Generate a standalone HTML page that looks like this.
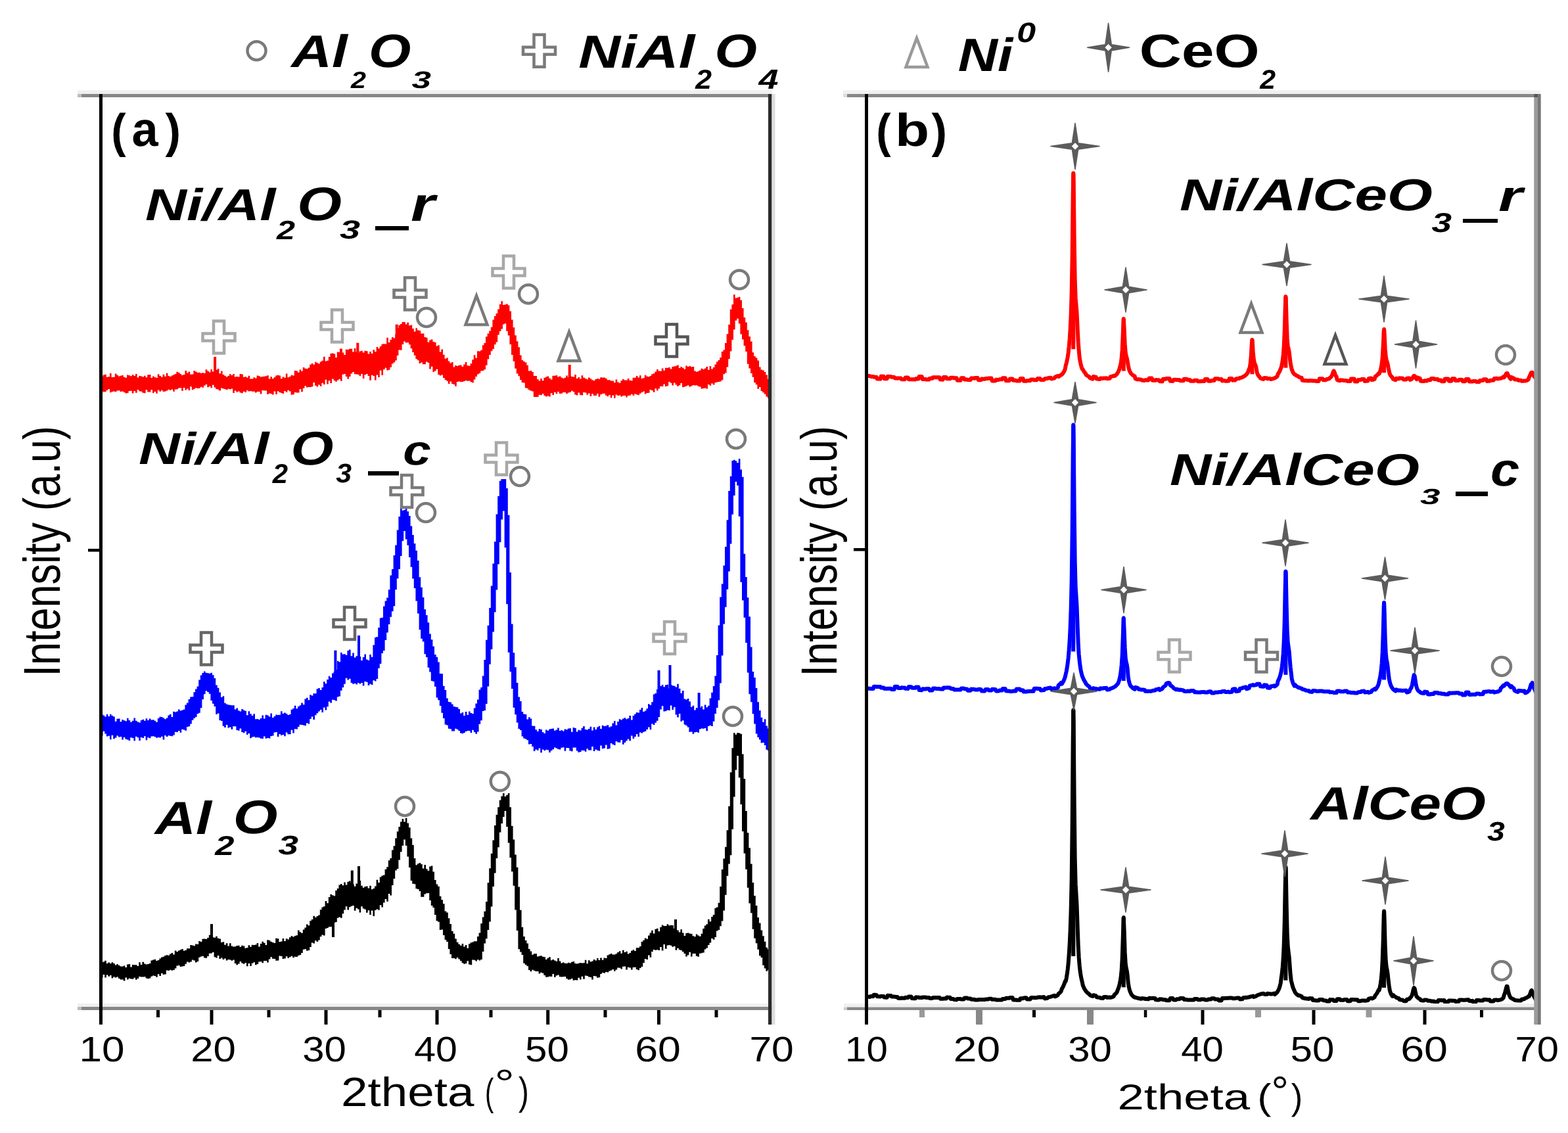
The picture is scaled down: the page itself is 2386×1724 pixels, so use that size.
<!DOCTYPE html>
<html><head><meta charset="utf-8"><title>XRD patterns</title>
<style>
html,body{margin:0;padding:0;background:#fff;}
svg{display:block;}
text{font-kerning:none;text-rendering:geometricPrecision;}
</style></head>
<body>
<svg xmlns="http://www.w3.org/2000/svg" width="2386" height="1724" viewBox="0 0 2386 1724">
<rect width="2386" height="1724" fill="#fff"/>
<path d="M154.0,572.9 L156.6,572.9 L156.6,570.4 L159.2,570.4 L159.2,569.8 L161.8,569.8 L161.8,573.8 L164.4,573.8 L164.4,573.2 L167.0,573.2 L167.0,568.1 L169.6,568.1 L169.6,574.0 L172.2,574.0 L172.2,573.8 L174.8,573.8 L174.8,568.4 L177.4,568.4 L177.4,570.8 L180.0,570.8 L180.0,572.6 L182.6,572.6 L182.6,571.8 L185.2,571.8 L185.2,570.9 L187.8,570.9 L187.8,573.7 L190.4,573.7 L190.4,574.8 L193.0,574.8 L193.0,570.4 L195.6,570.4 L195.6,571.2 L198.2,571.2 L198.2,572.3 L200.8,572.3 L200.8,570.2 L203.4,570.2 L203.4,572.0 L206.0,572.0 L206.0,569.1 L208.6,569.1 L208.6,574.4 L211.2,574.4 L211.2,572.0 L213.8,572.0 L213.8,572.5 L216.4,572.5 L216.4,573.4 L219.0,573.4 L219.0,571.8 L221.6,571.8 L221.6,574.2 L224.2,574.2 L224.2,570.3 L226.8,570.3 L226.8,569.9 L229.4,569.9 L229.4,574.9 L232.0,574.9 L232.0,572.6 L234.6,572.6 L234.6,573.9 L237.2,573.9 L237.2,575.0 L239.8,575.0 L239.8,569.2 L242.4,569.2 L242.4,572.1 L245.0,572.1 L245.0,573.7 L247.6,573.7 L247.6,569.8 L250.2,569.8 L250.2,572.7 L252.8,572.7 L252.8,567.7 L255.4,567.7 L255.4,572.0 L258.0,572.0 L258.0,572.9 L260.6,572.9 L260.6,571.5 L263.2,571.5 L263.2,570.2 L265.8,570.2 L265.8,569.1 L268.4,569.1 L268.4,565.8 L271.0,565.8 L271.0,566.9 L273.6,566.9 L273.6,569.1 L276.2,569.1 L276.2,571.1 L278.8,571.1 L278.8,569.9 L281.4,569.9 L281.4,564.0 L284.0,564.0 L284.0,567.4 L286.6,567.4 L286.6,565.6 L289.2,565.6 L289.2,569.7 L291.8,569.7 L291.8,569.6 L294.4,569.6 L294.4,563.9 L297.0,563.9 L297.0,565.4 L299.6,565.4 L299.6,567.0 L302.2,567.0 L302.2,566.7 L304.8,566.7 L304.8,568.0 L307.4,568.0 L307.4,567.2 L310.0,567.2 L310.0,568.0 L312.6,568.0 L312.6,562.2 L315.2,562.2 L315.2,564.5 L317.8,564.5 L317.8,566.5 L320.4,566.5 L320.4,562.1 L323.0,562.1 L323.0,565.5 L325.6,565.5 L325.6,566.3 L328.2,566.3 L328.2,562.7 L330.8,562.7 L330.8,561.1 L333.4,561.1 L333.4,568.3 L336.0,568.3 L336.0,564.4 L338.6,564.4 L338.6,569.9 L341.2,569.9 L341.2,571.8 L343.8,571.8 L343.8,573.6 L346.4,573.6 L346.4,572.0 L349.0,572.0 L349.0,569.3 L351.6,569.3 L351.6,571.1 L354.2,571.1 L354.2,568.9 L356.8,568.9 L356.8,573.4 L359.4,573.4 L359.4,573.0 L362.0,573.0 L362.0,573.6 L364.6,573.6 L364.6,569.0 L367.2,569.0 L367.2,569.5 L369.8,569.5 L369.8,573.8 L372.4,573.8 L372.4,573.3 L375.0,573.3 L375.0,574.4 L377.6,574.4 L377.6,571.7 L380.2,571.7 L380.2,576.6 L382.8,576.6 L382.8,576.4 L385.4,576.4 L385.4,574.3 L388.0,574.3 L388.0,575.4 L390.6,575.4 L390.6,571.4 L393.2,571.4 L393.2,572.2 L395.8,572.2 L395.8,573.6 L398.4,573.6 L398.4,572.9 L401.0,572.9 L401.0,572.8 L403.6,572.8 L403.6,572.2 L406.2,572.2 L406.2,571.3 L408.8,571.3 L408.8,576.5 L411.4,576.5 L411.4,573.2 L414.0,573.2 L414.0,576.3 L416.6,576.3 L416.6,574.1 L419.2,574.1 L419.2,571.6 L421.8,571.6 L421.8,570.8 L424.4,570.8 L424.4,571.5 L427.0,571.5 L427.0,576.2 L429.6,576.2 L429.6,573.6 L432.2,573.6 L432.2,574.7 L434.8,574.7 L434.8,568.4 L437.4,568.4 L437.4,574.2 L440.0,574.2 L440.0,572.9 L442.6,572.9 L442.6,570.7 L445.2,570.7 L445.2,571.6 L447.8,571.6 L447.8,564.0 L450.4,564.0 L450.4,564.4 L453.0,564.4 L453.0,566.7 L455.6,566.7 L455.6,562.6 L458.2,562.6 L458.2,564.7 L460.8,564.7 L460.8,558.9 L463.4,558.9 L463.4,560.7 L466.0,560.7 L466.0,561.3 L468.6,561.3 L468.6,559.6 L471.2,559.6 L471.2,554.7 L473.8,554.7 L473.8,552.9 L476.4,552.9 L476.4,554.7 L479.0,554.7 L479.0,550.7 L481.6,550.7 L481.6,552.3 L484.2,552.3 L484.2,553.4 L486.8,553.4 L486.8,550.6 L489.4,550.6 L489.4,548.8 L492.0,548.8 L492.0,542.8 L494.6,542.8 L494.6,549.4 L497.2,549.4 L497.2,548.7 L499.8,548.7 L499.8,543.0 L502.4,543.0 L502.4,538.0 L505.0,538.0 L505.0,537.5 L507.6,537.5 L507.6,538.6 L510.2,538.6 L510.2,544.1 L512.8,544.1 L512.8,535.6 L515.4,535.6 L515.4,536.0 L518.0,536.0 L518.0,540.8 L520.6,540.8 L520.6,536.6 L523.2,536.6 L523.2,540.1 L525.8,540.1 L525.8,531.7 L528.4,531.7 L528.4,532.1 L531.0,532.1 L531.0,530.8 L533.6,530.8 L533.6,530.8 L536.2,530.8 L536.2,535.6 L538.8,535.6 L538.8,529.9 L541.4,529.9 L541.4,535.5 L544.0,535.5 L544.0,536.7 L546.6,536.7 L546.6,534.5 L549.2,534.5 L549.2,533.8 L551.8,533.8 L551.8,536.6 L554.4,536.6 L554.4,533.7 L557.0,533.7 L557.0,534.2 L559.6,534.2 L559.6,538.5 L562.2,538.5 L562.2,534.9 L564.8,534.9 L564.8,538.1 L567.4,538.1 L567.4,532.3 L570.0,532.3 L570.0,535.2 L572.6,535.2 L572.6,527.9 L575.2,527.9 L575.2,530.2 L577.8,530.2 L577.8,526.9 L580.4,526.9 L580.4,523.7 L583.0,523.7 L583.0,523.3 L585.6,523.3 L585.6,523.5 L588.2,523.5 L588.2,513.7 L590.8,513.7 L590.8,521.1 L593.4,521.1 L593.4,516.9 L596.0,516.9 L596.0,512.9 L598.6,512.9 L598.6,514.5 L601.2,514.5 L601.2,508.8 L603.8,508.8 L603.8,499.2 L606.4,499.2 L606.4,494.8 L609.0,494.8 L609.0,493.1 L611.6,493.1 L611.6,489.9 L614.2,489.9 L614.2,490.0 L616.8,490.0 L616.8,493.5 L619.4,493.5 L619.4,490.8 L622.0,490.8 L622.0,495.2 L624.6,495.2 L624.6,494.5 L627.2,494.5 L627.2,499.9 L629.8,499.9 L629.8,504.5 L632.4,504.5 L632.4,499.3 L635.0,499.3 L635.0,502.4 L637.6,502.4 L637.6,503.1 L640.2,503.1 L640.2,507.4 L642.8,507.4 L642.8,507.4 L645.4,507.4 L645.4,513.1 L648.0,513.1 L648.0,513.7 L650.6,513.7 L650.6,520.8 L653.2,520.8 L653.2,517.5 L655.8,517.5 L655.8,516.6 L658.4,516.6 L658.4,519.9 L661.0,519.9 L661.0,521.1 L663.6,521.1 L663.6,526.5 L666.2,526.5 L666.2,525.3 L668.8,525.3 L668.8,535.5 L671.4,535.5 L671.4,531.4 L674.0,531.4 L674.0,539.7 L676.6,539.7 L676.6,545.7 L679.2,545.7 L679.2,544.5 L681.8,544.5 L681.8,549.5 L684.4,549.5 L684.4,552.4 L687.0,552.4 L687.0,551.1 L689.6,551.1 L689.6,558.4 L692.2,558.4 L692.2,556.0 L694.8,556.0 L694.8,557.1 L697.4,557.1 L697.4,555.7 L700.0,555.7 L700.0,555.5 L702.6,555.5 L702.6,557.9 L705.2,557.9 L705.2,554.4 L707.8,554.4 L707.8,551.1 L710.4,551.1 L710.4,556.2 L713.0,556.2 L713.0,556.7 L715.6,556.7 L715.6,553.3 L718.2,553.3 L718.2,547.3 L720.8,547.3 L720.8,540.2 L723.4,540.2 L723.4,544.8 L726.0,544.8 L726.0,534.3 L728.6,534.3 L728.6,534.5 L731.2,534.5 L731.2,532.8 L733.8,532.8 L733.8,525.3 L736.4,525.3 L736.4,521.9 L739.0,521.9 L739.0,512.3 L741.6,512.3 L741.6,507.6 L744.2,507.6 L744.2,503.5 L746.8,503.5 L746.8,497.7 L749.4,497.7 L749.4,486.6 L752.0,486.6 L752.0,480.9 L754.6,480.9 L754.6,476.9 L757.2,476.9 L757.2,470.5 L759.8,470.5 L759.8,463.0 L762.4,463.0 L762.4,458.2 L765.0,458.2 L765.0,464.0 L767.6,464.0 L767.6,463.4 L770.2,463.4 L770.2,462.4 L772.8,462.4 L772.8,464.5 L775.4,464.5 L775.4,473.5 L778.0,473.5 L778.0,486.5 L780.6,486.5 L780.6,498.2 L783.2,498.2 L783.2,510.3 L785.8,510.3 L785.8,519.2 L788.4,519.2 L788.4,528.2 L791.0,528.2 L791.0,540.5 L793.6,540.5 L793.6,548.1 L796.2,548.1 L796.2,549.9 L798.8,549.9 L798.8,551.5 L801.4,551.5 L801.4,555.8 L804.0,555.8 L804.0,564.4 L806.6,564.4 L806.6,564.0 L809.2,564.0 L809.2,566.1 L811.8,566.1 L811.8,572.1 L814.4,572.1 L814.4,572.0 L817.0,572.0 L817.0,577.0 L819.6,577.0 L819.6,579.4 L822.2,579.4 L822.2,576.1 L824.8,576.1 L824.8,579.3 L827.4,579.3 L827.4,574.8 L830.0,574.8 L830.0,573.5 L832.6,573.5 L832.6,572.5 L835.2,572.5 L835.2,575.5 L837.8,575.5 L837.8,577.6 L840.4,577.6 L840.4,571.8 L843.0,571.8 L843.0,571.8 L845.6,571.8 L845.6,570.9 L848.2,570.9 L848.2,573.4 L850.8,573.4 L850.8,572.6 L853.4,572.6 L853.4,574.6 L856.0,574.6 L856.0,575.7 L858.6,575.7 L858.6,574.7 L861.2,574.7 L861.2,571.5 L863.8,571.5 L863.8,574.1 L866.4,574.1 L866.4,571.6 L869.0,571.6 L869.0,572.9 L871.6,572.9 L871.6,573.4 L874.2,573.4 L874.2,570.0 L876.8,570.0 L876.8,575.9 L879.4,575.9 L879.4,573.9 L882.0,573.9 L882.0,576.4 L884.6,576.4 L884.6,571.2 L887.2,571.2 L887.2,574.6 L889.8,574.6 L889.8,575.9 L892.4,575.9 L892.4,577.2 L895.0,577.2 L895.0,574.5 L897.6,574.5 L897.6,576.2 L900.2,576.2 L900.2,578.3 L902.8,578.3 L902.8,579.2 L905.4,579.2 L905.4,577.0 L908.0,577.0 L908.0,575.9 L910.6,575.9 L910.6,576.7 L913.2,576.7 L913.2,574.3 L915.8,574.3 L915.8,574.5 L918.4,574.5 L918.4,574.6 L921.0,574.6 L921.0,575.8 L923.6,575.8 L923.6,578.3 L926.2,578.3 L926.2,578.2 L928.8,578.2 L928.8,579.4 L931.4,579.4 L931.4,579.6 L934.0,579.6 L934.0,582.3 L936.6,582.3 L936.6,577.4 L939.2,577.4 L939.2,581.5 L941.8,581.5 L941.8,582.8 L944.4,582.8 L944.4,579.3 L947.0,579.3 L947.0,577.0 L949.6,577.0 L949.6,578.4 L952.2,578.4 L952.2,578.4 L954.8,578.4 L954.8,575.9 L957.4,575.9 L957.4,578.8 L960.0,578.8 L960.0,579.3 L962.6,579.3 L962.6,574.8 L965.2,574.8 L965.2,574.7 L967.8,574.7 L967.8,571.9 L970.4,571.9 L970.4,574.4 L973.0,574.4 L973.0,571.3 L975.6,571.3 L975.6,576.0 L978.2,576.0 L978.2,575.3 L980.8,575.3 L980.8,570.8 L983.4,570.8 L983.4,572.8 L986.0,572.8 L986.0,573.3 L988.6,573.3 L988.6,572.1 L991.2,572.1 L991.2,569.2 L993.8,569.2 L993.8,568.3 L996.4,568.3 L996.4,565.5 L999.0,565.5 L999.0,562.0 L1001.6,562.0 L1001.6,564.5 L1004.2,564.5 L1004.2,564.7 L1006.8,564.7 L1006.8,560.6 L1009.4,560.6 L1009.4,563.7 L1012.0,563.7 L1012.0,559.7 L1014.6,559.7 L1014.6,559.7 L1017.2,559.7 L1017.2,559.1 L1019.8,559.1 L1019.8,561.6 L1022.4,561.6 L1022.4,558.0 L1025.0,558.0 L1025.0,557.6 L1027.6,557.6 L1027.6,556.8 L1030.2,556.8 L1030.2,555.4 L1032.8,555.4 L1032.8,560.1 L1035.4,560.1 L1035.4,557.9 L1038.0,557.9 L1038.0,559.7 L1040.6,559.7 L1040.6,561.7 L1043.2,561.7 L1043.2,556.6 L1045.8,556.6 L1045.8,558.0 L1048.4,558.0 L1048.4,556.9 L1051.0,556.9 L1051.0,558.2 L1053.6,558.2 L1053.6,557.9 L1056.2,557.9 L1056.2,564.4 L1058.8,564.4 L1058.8,565.7 L1061.4,565.7 L1061.4,564.7 L1064.0,564.7 L1064.0,563.4 L1066.6,563.4 L1066.6,560.8 L1069.2,560.8 L1069.2,562.0 L1071.8,562.0 L1071.8,560.6 L1074.4,560.6 L1074.4,557.9 L1077.0,557.9 L1077.0,562.7 L1079.6,562.7 L1079.6,557.1 L1082.2,557.1 L1082.2,561.4 L1084.8,561.4 L1084.8,559.0 L1087.4,559.0 L1087.4,554.5 L1090.0,554.5 L1090.0,550.5 L1092.6,550.5 L1092.6,547.9 L1095.2,547.9 L1095.2,543.9 L1097.8,543.9 L1097.8,535.1 L1100.4,535.1 L1100.4,532.6 L1103.0,532.6 L1103.0,522.1 L1105.6,522.1 L1105.6,508.2 L1108.2,508.2 L1108.2,493.9 L1110.8,493.9 L1110.8,470.8 L1113.4,470.8 L1113.4,463.3 L1116.0,463.3 L1116.0,448.3 L1118.6,448.3 L1118.6,453.4 L1121.2,453.4 L1121.2,452.8 L1123.8,452.8 L1123.8,451.8 L1126.4,451.8 L1126.4,456.7 L1129.0,456.7 L1129.0,469.0 L1131.6,469.0 L1131.6,483.0 L1134.2,483.0 L1134.2,490.4 L1136.8,490.4 L1136.8,502.3 L1139.4,502.3 L1139.4,512.0 L1142.0,512.0 L1142.0,519.4 L1144.6,519.4 L1144.6,536.2 L1147.2,536.2 L1147.2,542.0 L1149.8,542.0 L1149.8,544.5 L1152.4,544.5 L1152.4,548.6 L1155.0,548.6 L1155.0,558.6 L1157.6,558.6 L1157.6,562.6 L1160.2,562.6 L1160.2,563.4 L1162.8,563.4 L1162.8,566.1 L1165.4,566.1 L1165.4,570.6 L1168.0,570.6 L1168.0,576.8 L1170.6,576.8 L1170.6,580.0 L1172.2,580.0 L1172.2,577.9 L1172.2,577.9 L1172.2,607.3 L1172.2,607.3 L1172.2,605.4 L1170.6,605.4 L1170.6,605.8 L1168.0,605.8 L1168.0,603.5 L1165.4,603.5 L1165.4,599.8 L1162.8,599.8 L1162.8,597.3 L1160.2,597.3 L1160.2,595.0 L1157.6,595.0 L1157.6,589.0 L1155.0,589.0 L1155.0,591.7 L1152.4,591.7 L1152.4,585.2 L1149.8,585.2 L1149.8,582.3 L1147.2,582.3 L1147.2,573.8 L1144.6,573.8 L1144.6,568.1 L1142.0,568.1 L1142.0,560.4 L1139.4,560.4 L1139.4,553.8 L1136.8,553.8 L1136.8,535.1 L1134.2,535.1 L1134.2,526.2 L1131.6,526.2 L1131.6,516.5 L1129.0,516.5 L1129.0,508.5 L1126.4,508.5 L1126.4,492.4 L1123.8,492.4 L1123.8,484.8 L1121.2,484.8 L1121.2,487.8 L1118.6,487.8 L1118.6,501.6 L1116.0,501.6 L1116.0,517.0 L1113.4,517.0 L1113.4,534.5 L1110.8,534.5 L1110.8,546.2 L1108.2,546.2 L1108.2,558.5 L1105.6,558.5 L1105.6,567.6 L1103.0,567.6 L1103.0,569.3 L1100.4,569.3 L1100.4,578.3 L1097.8,578.3 L1097.8,580.4 L1095.2,580.4 L1095.2,581.0 L1092.6,581.0 L1092.6,581.4 L1090.0,581.4 L1090.0,582.2 L1087.4,582.2 L1087.4,585.6 L1084.8,585.6 L1084.8,583.6 L1082.2,583.6 L1082.2,586.7 L1079.6,586.7 L1079.6,585.1 L1077.0,585.1 L1077.0,591.5 L1074.4,591.5 L1074.4,590.4 L1071.8,590.4 L1071.8,591.0 L1069.2,591.0 L1069.2,591.6 L1066.6,591.6 L1066.6,588.5 L1064.0,588.5 L1064.0,587.8 L1061.4,587.8 L1061.4,586.3 L1058.8,586.3 L1058.8,586.5 L1056.2,586.5 L1056.2,586.0 L1053.6,586.0 L1053.6,587.6 L1051.0,587.6 L1051.0,588.6 L1048.4,588.6 L1048.4,586.2 L1045.8,586.2 L1045.8,587.5 L1043.2,587.5 L1043.2,588.5 L1040.6,588.5 L1040.6,589.3 L1038.0,589.3 L1038.0,583.0 L1035.4,583.0 L1035.4,586.2 L1032.8,586.2 L1032.8,587.7 L1030.2,587.7 L1030.2,585.4 L1027.6,585.4 L1027.6,582.6 L1025.0,582.6 L1025.0,586.6 L1022.4,586.6 L1022.4,582.8 L1019.8,582.8 L1019.8,581.1 L1017.2,581.1 L1017.2,587.3 L1014.6,587.3 L1014.6,587.9 L1012.0,587.9 L1012.0,584.6 L1009.4,584.6 L1009.4,587.9 L1006.8,587.9 L1006.8,587.8 L1004.2,587.8 L1004.2,591.2 L1001.6,591.2 L1001.6,594.2 L999.0,594.2 L999.0,591.3 L996.4,591.3 L996.4,596.8 L993.8,596.8 L993.8,594.2 L991.2,594.2 L991.2,593.1 L988.6,593.1 L988.6,597.7 L986.0,597.7 L986.0,597.9 L983.4,597.9 L983.4,599.4 L980.8,599.4 L980.8,595.4 L978.2,595.4 L978.2,597.0 L975.6,597.0 L975.6,598.7 L973.0,598.7 L973.0,601.2 L970.4,601.2 L970.4,600.5 L967.8,600.5 L967.8,599.4 L965.2,599.4 L965.2,602.0 L962.6,602.0 L962.6,599.8 L960.0,599.8 L960.0,601.8 L957.4,601.8 L957.4,602.1 L954.8,602.1 L954.8,604.5 L952.2,604.5 L952.2,601.9 L949.6,601.9 L949.6,602.2 L947.0,602.2 L947.0,603.4 L944.4,603.4 L944.4,601.4 L941.8,601.4 L941.8,602.1 L939.2,602.1 L939.2,600.4 L936.6,600.4 L936.6,605.7 L934.0,605.7 L934.0,601.5 L931.4,601.5 L931.4,605.2 L928.8,605.2 L928.8,601.1 L926.2,601.1 L926.2,603.3 L923.6,603.3 L923.6,601.8 L921.0,601.8 L921.0,598.8 L918.4,598.8 L918.4,599.0 L915.8,599.0 L915.8,600.2 L913.2,600.2 L913.2,603.7 L910.6,603.7 L910.6,598.9 L908.0,598.9 L908.0,602.1 L905.4,602.1 L905.4,602.0 L902.8,602.0 L902.8,599.2 L900.2,599.2 L900.2,603.1 L897.6,603.1 L897.6,598.4 L895.0,598.4 L895.0,600.8 L892.4,600.8 L892.4,597.6 L889.8,597.6 L889.8,597.0 L887.2,597.0 L887.2,601.4 L884.6,601.4 L884.6,601.1 L882.0,601.1 L882.0,597.5 L879.4,597.5 L879.4,601.4 L876.8,601.4 L876.8,600.4 L874.2,600.4 L874.2,596.2 L871.6,596.2 L871.6,594.8 L869.0,594.8 L869.0,596.7 L866.4,596.7 L866.4,597.4 L863.8,597.4 L863.8,599.3 L861.2,599.3 L861.2,596.9 L858.6,596.9 L858.6,597.1 L856.0,597.1 L856.0,598.7 L853.4,598.7 L853.4,598.9 L850.8,598.9 L850.8,596.1 L848.2,596.1 L848.2,599.3 L845.6,599.3 L845.6,596.7 L843.0,596.7 L843.0,601.1 L840.4,601.1 L840.4,598.3 L837.8,598.3 L837.8,603.4 L835.2,603.4 L835.2,602.6 L832.6,602.6 L832.6,603.4 L830.0,603.4 L830.0,602.0 L827.4,602.0 L827.4,599.3 L824.8,599.3 L824.8,601.3 L822.2,601.3 L822.2,600.7 L819.6,600.7 L819.6,604.1 L817.0,604.1 L817.0,603.9 L814.4,603.9 L814.4,604.0 L811.8,604.0 L811.8,595.6 L809.2,595.6 L809.2,594.4 L806.6,594.4 L806.6,593.6 L804.0,593.6 L804.0,590.9 L801.4,590.9 L801.4,590.3 L798.8,590.3 L798.8,582.4 L796.2,582.4 L796.2,582.0 L793.6,582.0 L793.6,578.0 L791.0,578.0 L791.0,572.2 L788.4,572.2 L788.4,568.6 L785.8,568.6 L785.8,560.7 L783.2,560.7 L783.2,549.7 L780.6,549.7 L780.6,540.0 L778.0,540.0 L778.0,524.0 L775.4,524.0 L775.4,510.4 L772.8,510.4 L772.8,503.7 L770.2,503.7 L770.2,492.2 L767.6,492.2 L767.6,493.4 L765.0,493.4 L765.0,500.5 L762.4,500.5 L762.4,503.9 L759.8,503.9 L759.8,509.4 L757.2,509.4 L757.2,520.6 L754.6,520.6 L754.6,524.3 L752.0,524.3 L752.0,531.0 L749.4,531.0 L749.4,534.2 L746.8,534.2 L746.8,540.1 L744.2,540.1 L744.2,546.6 L741.6,546.6 L741.6,555.8 L739.0,555.8 L739.0,562.2 L736.4,562.2 L736.4,564.0 L733.8,564.0 L733.8,564.4 L731.2,564.4 L731.2,568.0 L728.6,568.0 L728.6,569.5 L726.0,569.5 L726.0,573.0 L723.4,573.0 L723.4,577.5 L720.8,577.5 L720.8,582.2 L718.2,582.2 L718.2,581.3 L715.6,581.3 L715.6,579.6 L713.0,579.6 L713.0,579.8 L710.4,579.8 L710.4,579.1 L707.8,579.1 L707.8,580.1 L705.2,580.1 L705.2,580.9 L702.6,580.9 L702.6,581.0 L700.0,581.0 L700.0,580.5 L697.4,580.5 L697.4,581.1 L694.8,581.1 L694.8,587.7 L692.2,587.7 L692.2,585.0 L689.6,585.0 L689.6,583.9 L687.0,583.9 L687.0,580.6 L684.4,580.6 L684.4,583.9 L681.8,583.9 L681.8,579.8 L679.2,579.8 L679.2,578.1 L676.6,578.1 L676.6,575.0 L674.0,575.0 L674.0,570.6 L671.4,570.6 L671.4,571.5 L668.8,571.5 L668.8,570.1 L666.2,570.1 L666.2,561.8 L663.6,561.8 L663.6,564.5 L661.0,564.5 L661.0,565.9 L658.4,565.9 L658.4,557.7 L655.8,557.7 L655.8,561.5 L653.2,561.5 L653.2,552.1 L650.6,552.1 L650.6,550.5 L648.0,550.5 L648.0,554.3 L645.4,554.3 L645.4,554.2 L642.8,554.2 L642.8,551.4 L640.2,551.4 L640.2,553.0 L637.6,553.0 L637.6,548.2 L635.0,548.2 L635.0,546.2 L632.4,546.2 L632.4,540.8 L629.8,540.8 L629.8,536.1 L627.2,536.1 L627.2,530.2 L624.6,530.2 L624.6,524.3 L622.0,524.3 L622.0,521.2 L619.4,521.2 L619.4,521.4 L616.8,521.4 L616.8,519.4 L614.2,519.4 L614.2,524.1 L611.6,524.1 L611.6,532.7 L609.0,532.7 L609.0,532.4 L606.4,532.4 L606.4,541.1 L603.8,541.1 L603.8,548.5 L601.2,548.5 L601.2,551.4 L598.6,551.4 L598.6,553.4 L596.0,553.4 L596.0,558.8 L593.4,558.8 L593.4,562.7 L590.8,562.7 L590.8,563.6 L588.2,563.6 L588.2,559.8 L585.6,559.8 L585.6,562.2 L583.0,562.2 L583.0,571.0 L580.4,571.0 L580.4,563.8 L577.8,563.8 L577.8,574.1 L575.2,574.1 L575.2,570.6 L572.6,570.6 L572.6,578.6 L570.0,578.6 L570.0,572.0 L567.4,572.0 L567.4,570.7 L564.8,570.7 L564.8,578.8 L562.2,578.8 L562.2,572.0 L559.6,572.0 L559.6,568.9 L557.0,568.9 L557.0,570.3 L554.4,570.3 L554.4,576.0 L551.8,576.0 L551.8,569.0 L549.2,569.0 L549.2,572.2 L546.6,572.2 L546.6,570.0 L544.0,570.0 L544.0,569.6 L541.4,569.6 L541.4,569.3 L538.8,569.3 L538.8,566.1 L536.2,566.1 L536.2,568.6 L533.6,568.6 L533.6,572.9 L531.0,572.9 L531.0,576.4 L528.4,576.4 L528.4,572.9 L525.8,572.9 L525.8,569.0 L523.2,569.0 L523.2,569.7 L520.6,569.7 L520.6,579.7 L518.0,579.7 L518.0,576.8 L515.4,576.8 L515.4,578.6 L512.8,578.6 L512.8,580.7 L510.2,580.7 L510.2,579.1 L507.6,579.1 L507.6,576.6 L505.0,576.6 L505.0,582.9 L502.4,582.9 L502.4,579.2 L499.8,579.2 L499.8,584.4 L497.2,584.4 L497.2,577.7 L494.6,577.7 L494.6,584.9 L492.0,584.9 L492.0,582.7 L489.4,582.7 L489.4,587.8 L486.8,587.8 L486.8,585.6 L484.2,585.6 L484.2,588.6 L481.6,588.6 L481.6,586.7 L479.0,586.7 L479.0,582.0 L476.4,582.0 L476.4,588.3 L473.8,588.3 L473.8,589.1 L471.2,589.1 L471.2,589.0 L468.6,589.0 L468.6,589.5 L466.0,589.5 L466.0,587.3 L463.4,587.3 L463.4,590.8 L460.8,590.8 L460.8,596.2 L458.2,596.2 L458.2,591.9 L455.6,591.9 L455.6,597.4 L453.0,597.4 L453.0,597.5 L450.4,597.5 L450.4,596.9 L447.8,596.9 L447.8,600.2 L445.2,600.2 L445.2,600.7 L442.6,600.7 L442.6,595.5 L440.0,595.5 L440.0,593.7 L437.4,593.7 L437.4,596.8 L434.8,596.8 L434.8,595.1 L432.2,595.1 L432.2,598.9 L429.6,598.9 L429.6,598.1 L427.0,598.1 L427.0,597.0 L424.4,597.0 L424.4,595.3 L421.8,595.3 L421.8,600.0 L419.2,600.0 L419.2,595.4 L416.6,595.4 L416.6,600.6 L414.0,600.6 L414.0,599.2 L411.4,599.2 L411.4,598.5 L408.8,598.5 L408.8,600.1 L406.2,600.1 L406.2,594.6 L403.6,594.6 L403.6,594.2 L401.0,594.2 L401.0,594.1 L398.4,594.1 L398.4,599.6 L395.8,599.6 L395.8,596.1 L393.2,596.1 L393.2,596.1 L390.6,596.1 L390.6,597.6 L388.0,597.6 L388.0,595.8 L385.4,595.8 L385.4,595.7 L382.8,595.7 L382.8,595.0 L380.2,595.0 L380.2,595.4 L377.6,595.4 L377.6,594.0 L375.0,594.0 L375.0,596.9 L372.4,596.9 L372.4,595.7 L369.8,595.7 L369.8,598.3 L367.2,598.3 L367.2,597.6 L364.6,597.6 L364.6,595.5 L362.0,595.5 L362.0,596.4 L359.4,596.4 L359.4,594.4 L356.8,594.4 L356.8,598.0 L354.2,598.0 L354.2,591.6 L351.6,591.6 L351.6,592.3 L349.0,592.3 L349.0,591.8 L346.4,591.8 L346.4,593.2 L343.8,593.2 L343.8,592.1 L341.2,592.1 L341.2,591.4 L338.6,591.4 L338.6,590.5 L336.0,590.5 L336.0,594.6 L333.4,594.6 L333.4,592.8 L330.8,592.8 L330.8,592.0 L328.2,592.0 L328.2,589.5 L325.6,589.5 L325.6,585.7 L323.0,585.7 L323.0,590.3 L320.4,590.3 L320.4,587.7 L317.8,587.7 L317.8,589.3 L315.2,589.3 L315.2,585.1 L312.6,585.1 L312.6,586.8 L310.0,586.8 L310.0,589.7 L307.4,589.7 L307.4,588.7 L304.8,588.7 L304.8,590.8 L302.2,590.8 L302.2,590.9 L299.6,590.9 L299.6,590.2 L297.0,590.2 L297.0,591.8 L294.4,591.8 L294.4,593.2 L291.8,593.2 L291.8,588.2 L289.2,588.2 L289.2,593.9 L286.6,593.9 L286.6,591.5 L284.0,591.5 L284.0,593.6 L281.4,593.6 L281.4,590.1 L278.8,590.1 L278.8,594.7 L276.2,594.7 L276.2,590.2 L273.6,590.2 L273.6,590.6 L271.0,590.6 L271.0,592.3 L268.4,592.3 L268.4,592.5 L265.8,592.5 L265.8,595.7 L263.2,595.7 L263.2,592.6 L260.6,592.6 L260.6,593.7 L258.0,593.7 L258.0,592.8 L255.4,592.8 L255.4,594.4 L252.8,594.4 L252.8,595.4 L250.2,595.4 L250.2,595.9 L247.6,595.9 L247.6,594.1 L245.0,594.1 L245.0,595.7 L242.4,595.7 L242.4,593.5 L239.8,593.5 L239.8,598.7 L237.2,598.7 L237.2,596.0 L234.6,596.0 L234.6,597.9 L232.0,597.9 L232.0,593.3 L229.4,593.3 L229.4,596.5 L226.8,596.5 L226.8,596.4 L224.2,596.4 L224.2,593.3 L221.6,593.3 L221.6,598.2 L219.0,598.2 L219.0,597.7 L216.4,597.7 L216.4,595.7 L213.8,595.7 L213.8,595.3 L211.2,595.3 L211.2,592.9 L208.6,592.9 L208.6,597.7 L206.0,597.7 L206.0,594.9 L203.4,594.9 L203.4,598.5 L200.8,598.5 L200.8,594.8 L198.2,594.8 L198.2,594.9 L195.6,594.9 L195.6,598.0 L193.0,598.0 L193.0,598.6 L190.4,598.6 L190.4,597.0 L187.8,597.0 L187.8,595.5 L185.2,595.5 L185.2,596.0 L182.6,596.0 L182.6,594.3 L180.0,594.3 L180.0,594.4 L177.4,594.4 L177.4,596.3 L174.8,596.3 L174.8,595.4 L172.2,595.4 L172.2,596.0 L169.6,596.0 L169.6,597.2 L167.0,597.2 L167.0,591.9 L164.4,591.9 L164.4,593.7 L161.8,593.7 L161.8,596.0 L159.2,596.0 L159.2,596.6 L156.6,596.6 L156.6,595.2 L154.0,595.2 Z" fill="#ff0000" stroke="none"/>
<rect x="325.1" y="543.0" width="4" height="32.0" fill="#ff0000"/>
<rect x="864.7" y="555.0" width="4" height="30.0" fill="#ff0000"/>
<rect x="542.3" y="521.7" width="4" height="30.0" fill="#ff0000"/>
<rect x="516.9" y="530.6" width="4" height="25.0" fill="#ff0000"/>
<rect x="601.7" y="493.7" width="4" height="28.0" fill="#ff0000"/>
<path d="M154.0,1087.1 L156.6,1087.1 L156.6,1088.5 L159.2,1088.5 L159.2,1090.4 L161.8,1090.4 L161.8,1087.1 L164.4,1087.1 L164.4,1089.9 L167.0,1089.9 L167.0,1086.8 L169.6,1086.8 L169.6,1089.1 L172.2,1089.1 L172.2,1090.5 L174.8,1090.5 L174.8,1097.7 L177.4,1097.7 L177.4,1093.8 L180.0,1093.8 L180.0,1093.5 L182.6,1093.5 L182.6,1098.2 L185.2,1098.2 L185.2,1094.9 L187.8,1094.9 L187.8,1096.2 L190.4,1096.2 L190.4,1097.3 L193.0,1097.3 L193.0,1092.8 L195.6,1092.8 L195.6,1096.0 L198.2,1096.0 L198.2,1098.7 L200.8,1098.7 L200.8,1096.7 L203.4,1096.7 L203.4,1092.4 L206.0,1092.4 L206.0,1096.8 L208.6,1096.8 L208.6,1098.6 L211.2,1098.6 L211.2,1099.6 L213.8,1099.6 L213.8,1096.0 L216.4,1096.0 L216.4,1094.7 L219.0,1094.7 L219.0,1096.8 L221.6,1096.8 L221.6,1093.2 L224.2,1093.2 L224.2,1095.9 L226.8,1095.9 L226.8,1093.6 L229.4,1093.6 L229.4,1095.5 L232.0,1095.5 L232.0,1095.3 L234.6,1095.3 L234.6,1096.8 L237.2,1096.8 L237.2,1098.7 L239.8,1098.7 L239.8,1093.0 L242.4,1093.0 L242.4,1090.8 L245.0,1090.8 L245.0,1090.9 L247.6,1090.9 L247.6,1092.5 L250.2,1092.5 L250.2,1094.2 L252.8,1094.2 L252.8,1092.5 L255.4,1092.5 L255.4,1088.6 L258.0,1088.6 L258.0,1086.8 L260.6,1086.8 L260.6,1091.0 L263.2,1091.0 L263.2,1082.7 L265.8,1082.7 L265.8,1083.6 L268.4,1083.6 L268.4,1082.6 L271.0,1082.6 L271.0,1079.5 L273.6,1079.5 L273.6,1081.5 L276.2,1081.5 L276.2,1080.5 L278.8,1080.5 L278.8,1079.5 L281.4,1079.5 L281.4,1072.6 L284.0,1072.6 L284.0,1069.4 L286.6,1069.4 L286.6,1064.1 L289.2,1064.1 L289.2,1060.4 L291.8,1060.4 L291.8,1060.2 L294.4,1060.2 L294.4,1053.3 L297.0,1053.3 L297.0,1048.4 L299.6,1048.4 L299.6,1044.5 L302.2,1044.5 L302.2,1034.4 L304.8,1034.4 L304.8,1027.6 L307.4,1027.6 L307.4,1024.0 L310.0,1024.0 L310.0,1021.6 L312.6,1021.6 L312.6,1023.8 L315.2,1023.8 L315.2,1024.2 L317.8,1024.2 L317.8,1024.7 L320.4,1024.7 L320.4,1023.8 L323.0,1023.8 L323.0,1027.2 L325.6,1027.2 L325.6,1032.0 L328.2,1032.0 L328.2,1042.6 L330.8,1042.6 L330.8,1046.8 L333.4,1046.8 L333.4,1053.5 L336.0,1053.5 L336.0,1061.0 L338.6,1061.0 L338.6,1059.2 L341.2,1059.2 L341.2,1069.8 L343.8,1069.8 L343.8,1071.6 L346.4,1071.6 L346.4,1072.6 L349.0,1072.6 L349.0,1072.8 L351.6,1072.8 L351.6,1073.2 L354.2,1073.2 L354.2,1073.2 L356.8,1073.2 L356.8,1079.4 L359.4,1079.4 L359.4,1077.4 L362.0,1077.4 L362.0,1081.3 L364.6,1081.3 L364.6,1082.4 L367.2,1082.4 L367.2,1079.1 L369.8,1079.1 L369.8,1080.5 L372.4,1080.5 L372.4,1081.8 L375.0,1081.8 L375.0,1088.2 L377.6,1088.2 L377.6,1082.2 L380.2,1082.2 L380.2,1086.3 L382.8,1086.3 L382.8,1088.9 L385.4,1088.9 L385.4,1086.3 L388.0,1086.3 L388.0,1094.3 L390.6,1094.3 L390.6,1093.9 L393.2,1093.9 L393.2,1095.1 L395.8,1095.1 L395.8,1093.0 L398.4,1093.0 L398.4,1088.6 L401.0,1088.6 L401.0,1093.5 L403.6,1093.5 L403.6,1087.8 L406.2,1087.8 L406.2,1088.6 L408.8,1088.6 L408.8,1090.4 L411.4,1090.4 L411.4,1085.5 L414.0,1085.5 L414.0,1092.0 L416.6,1092.0 L416.6,1090.0 L419.2,1090.0 L419.2,1087.5 L421.8,1087.5 L421.8,1088.0 L424.4,1088.0 L424.4,1087.8 L427.0,1087.8 L427.0,1082.3 L429.6,1082.3 L429.6,1085.8 L432.2,1085.8 L432.2,1084.6 L434.8,1084.6 L434.8,1086.0 L437.4,1086.0 L437.4,1087.9 L440.0,1087.9 L440.0,1087.1 L442.6,1087.1 L442.6,1079.7 L445.2,1079.7 L445.2,1078.0 L447.8,1078.0 L447.8,1073.7 L450.4,1073.7 L450.4,1078.2 L453.0,1078.2 L453.0,1075.0 L455.6,1075.0 L455.6,1073.2 L458.2,1073.2 L458.2,1069.5 L460.8,1069.5 L460.8,1072.3 L463.4,1072.3 L463.4,1063.5 L466.0,1063.5 L466.0,1061.7 L468.6,1061.7 L468.6,1065.3 L471.2,1065.3 L471.2,1057.3 L473.8,1057.3 L473.8,1058.5 L476.4,1058.5 L476.4,1055.3 L479.0,1055.3 L479.0,1055.2 L481.6,1055.2 L481.6,1048.2 L484.2,1048.2 L484.2,1047.0 L486.8,1047.0 L486.8,1050.1 L489.4,1050.1 L489.4,1046.0 L492.0,1046.0 L492.0,1037.3 L494.6,1037.3 L494.6,1040.3 L497.2,1040.3 L497.2,1033.9 L499.8,1033.9 L499.8,1028.8 L502.4,1028.8 L502.4,1030.9 L505.0,1030.9 L505.0,1024.5 L507.6,1024.5 L507.6,1022.0 L510.2,1022.0 L510.2,1018.9 L512.8,1018.9 L512.8,1005.7 L515.4,1005.7 L515.4,1007.3 L518.0,1007.3 L518.0,992.9 L520.6,992.9 L520.6,995.6 L523.2,995.6 L523.2,995.2 L525.8,995.2 L525.8,996.7 L528.4,996.7 L528.4,989.9 L531.0,989.9 L531.0,988.6 L533.6,988.6 L533.6,998.2 L536.2,998.2 L536.2,993.5 L538.8,993.5 L538.8,1000.6 L541.4,1000.6 L541.4,998.2 L544.0,998.2 L544.0,1002.0 L546.6,1002.0 L546.6,999.0 L549.2,999.0 L549.2,1005.0 L551.8,1005.0 L551.8,1000.0 L554.4,1000.0 L554.4,995.6 L557.0,995.6 L557.0,1003.6 L559.6,1003.6 L559.6,1004.7 L562.2,1004.7 L562.2,995.9 L564.8,995.9 L564.8,999.7 L567.4,999.7 L567.4,981.6 L570.0,981.6 L570.0,969.9 L572.6,969.9 L572.6,969.1 L575.2,969.1 L575.2,955.1 L577.8,955.1 L577.8,940.4 L580.4,940.4 L580.4,939.7 L583.0,939.7 L583.0,922.6 L585.6,922.6 L585.6,914.5 L588.2,914.5 L588.2,909.5 L590.8,909.5 L590.8,897.3 L593.4,897.3 L593.4,875.6 L596.0,875.6 L596.0,865.9 L598.6,865.9 L598.6,845.0 L601.2,845.0 L601.2,829.4 L603.8,829.4 L603.8,806.6 L606.4,806.6 L606.4,785.9 L609.0,785.9 L609.0,771.3 L611.6,771.3 L611.6,776.7 L614.2,776.7 L614.2,776.0 L616.8,776.0 L616.8,772.2 L619.4,772.2 L619.4,778.2 L622.0,778.2 L622.0,785.1 L624.6,785.1 L624.6,800.6 L627.2,800.6 L627.2,813.9 L629.8,813.9 L629.8,826.9 L632.4,826.9 L632.4,837.8 L635.0,837.8 L635.0,853.0 L637.6,853.0 L637.6,878.2 L640.2,878.2 L640.2,893.8 L642.8,893.8 L642.8,909.0 L645.4,909.0 L645.4,927.2 L648.0,927.2 L648.0,936.1 L650.6,936.1 L650.6,947.2 L653.2,947.2 L653.2,964.5 L655.8,964.5 L655.8,973.2 L658.4,973.2 L658.4,983.4 L661.0,983.4 L661.0,995.9 L663.6,995.9 L663.6,999.8 L666.2,999.8 L666.2,1007.5 L668.8,1007.5 L668.8,1025.0 L671.4,1025.0 L671.4,1025.3 L674.0,1025.3 L674.0,1043.8 L676.6,1043.8 L676.6,1049.9 L679.2,1049.9 L679.2,1062.6 L681.8,1062.6 L681.8,1068.1 L684.4,1068.1 L684.4,1068.5 L687.0,1068.5 L687.0,1071.4 L689.6,1071.4 L689.6,1075.0 L692.2,1075.0 L692.2,1075.7 L694.8,1075.7 L694.8,1076.3 L697.4,1076.3 L697.4,1078.9 L700.0,1078.9 L700.0,1085.5 L702.6,1085.5 L702.6,1084.0 L705.2,1084.0 L705.2,1088.9 L707.8,1088.9 L707.8,1083.1 L710.4,1083.1 L710.4,1087.8 L713.0,1087.8 L713.0,1082.6 L715.6,1082.6 L715.6,1084.9 L718.2,1084.9 L718.2,1085.9 L720.8,1085.9 L720.8,1077.4 L723.4,1077.4 L723.4,1070.6 L726.0,1070.6 L726.0,1064.4 L728.6,1064.4 L728.6,1049.4 L731.2,1049.4 L731.2,1046.0 L733.8,1046.0 L733.8,1028.5 L736.4,1028.5 L736.4,1003.9 L739.0,1003.9 L739.0,973.8 L741.6,973.8 L741.6,951.7 L744.2,951.7 L744.2,924.9 L746.8,924.9 L746.8,891.6 L749.4,891.6 L749.4,857.6 L752.0,857.6 L752.0,824.2 L754.6,824.2 L754.6,782.4 L757.2,782.4 L757.2,755.1 L759.8,755.1 L759.8,731.8 L762.4,731.8 L762.4,729.1 L765.0,729.1 L765.0,729.1 L767.6,729.1 L767.6,729.0 L770.2,729.0 L770.2,743.0 L772.8,743.0 L772.8,783.8 L775.4,783.8 L775.4,871.1 L778.0,871.1 L778.0,949.5 L780.6,949.5 L780.6,993.3 L783.2,993.3 L783.2,1015.2 L785.8,1015.2 L785.8,1039.1 L788.4,1039.1 L788.4,1060.6 L791.0,1060.6 L791.0,1066.9 L793.6,1066.9 L793.6,1082.9 L796.2,1082.9 L796.2,1086.6 L798.8,1086.6 L798.8,1087.1 L801.4,1087.1 L801.4,1094.5 L804.0,1094.5 L804.0,1091.3 L806.6,1091.3 L806.6,1093.6 L809.2,1093.6 L809.2,1104.4 L811.8,1104.4 L811.8,1104.8 L814.4,1104.8 L814.4,1110.2 L817.0,1110.2 L817.0,1113.0 L819.6,1113.0 L819.6,1109.2 L822.2,1109.2 L822.2,1110.0 L824.8,1110.0 L824.8,1114.1 L827.4,1114.1 L827.4,1115.9 L830.0,1115.9 L830.0,1110.4 L832.6,1110.4 L832.6,1111.8 L835.2,1111.8 L835.2,1109.5 L837.8,1109.5 L837.8,1109.0 L840.4,1109.0 L840.4,1108.4 L843.0,1108.4 L843.0,1111.7 L845.6,1111.7 L845.6,1110.4 L848.2,1110.4 L848.2,1107.4 L850.8,1107.4 L850.8,1111.9 L853.4,1111.9 L853.4,1111.1 L856.0,1111.1 L856.0,1112.4 L858.6,1112.4 L858.6,1109.6 L861.2,1109.6 L861.2,1110.2 L863.8,1110.2 L863.8,1108.6 L866.4,1108.6 L866.4,1108.2 L869.0,1108.2 L869.0,1113.8 L871.6,1113.8 L871.6,1107.1 L874.2,1107.1 L874.2,1108.0 L876.8,1108.0 L876.8,1113.5 L879.4,1113.5 L879.4,1110.8 L882.0,1110.8 L882.0,1111.6 L884.6,1111.6 L884.6,1107.8 L887.2,1107.8 L887.2,1105.0 L889.8,1105.0 L889.8,1110.0 L892.4,1110.0 L892.4,1110.5 L895.0,1110.5 L895.0,1109.1 L897.6,1109.1 L897.6,1105.7 L900.2,1105.7 L900.2,1111.4 L902.8,1111.4 L902.8,1106.6 L905.4,1106.6 L905.4,1110.0 L908.0,1110.0 L908.0,1106.5 L910.6,1106.5 L910.6,1104.8 L913.2,1104.8 L913.2,1109.0 L915.8,1109.0 L915.8,1103.7 L918.4,1103.7 L918.4,1104.9 L921.0,1104.9 L921.0,1104.6 L923.6,1104.6 L923.6,1103.2 L926.2,1103.2 L926.2,1106.6 L928.8,1106.6 L928.8,1105.2 L931.4,1105.2 L931.4,1100.4 L934.0,1100.4 L934.0,1097.1 L936.6,1097.1 L936.6,1103.4 L939.2,1103.4 L939.2,1098.1 L941.8,1098.1 L941.8,1094.2 L944.4,1094.2 L944.4,1095.4 L947.0,1095.4 L947.0,1093.6 L949.6,1093.6 L949.6,1092.2 L952.2,1092.2 L952.2,1094.3 L954.8,1094.3 L954.8,1093.0 L957.4,1093.0 L957.4,1089.1 L960.0,1089.1 L960.0,1095.4 L962.6,1095.4 L962.6,1088.9 L965.2,1088.9 L965.2,1086.5 L967.8,1086.5 L967.8,1083.9 L970.4,1083.9 L970.4,1084.6 L973.0,1084.6 L973.0,1080.1 L975.6,1080.1 L975.6,1077.1 L978.2,1077.1 L978.2,1083.1 L980.8,1083.1 L980.8,1081.5 L983.4,1081.5 L983.4,1078.3 L986.0,1078.3 L986.0,1071.2 L988.6,1071.2 L988.6,1072.8 L991.2,1072.8 L991.2,1068.3 L993.8,1068.3 L993.8,1056.6 L996.4,1056.6 L996.4,1054.9 L999.0,1054.9 L999.0,1049.1 L1001.6,1049.1 L1001.6,1042.9 L1004.2,1042.9 L1004.2,1043.9 L1006.8,1043.9 L1006.8,1042.1 L1009.4,1042.1 L1009.4,1045.3 L1012.0,1045.3 L1012.0,1042.2 L1014.6,1042.2 L1014.6,1041.7 L1017.2,1041.7 L1017.2,1047.8 L1019.8,1047.8 L1019.8,1042.0 L1022.4,1042.0 L1022.4,1043.2 L1025.0,1043.2 L1025.0,1043.8 L1027.6,1043.8 L1027.6,1045.4 L1030.2,1045.4 L1030.2,1040.8 L1032.8,1040.8 L1032.8,1047.8 L1035.4,1047.8 L1035.4,1054.8 L1038.0,1054.8 L1038.0,1050.9 L1040.6,1050.9 L1040.6,1063.4 L1043.2,1063.4 L1043.2,1064.4 L1045.8,1064.4 L1045.8,1062.9 L1048.4,1062.9 L1048.4,1067.6 L1051.0,1067.6 L1051.0,1075.8 L1053.6,1075.8 L1053.6,1073.8 L1056.2,1073.8 L1056.2,1080.4 L1058.8,1080.4 L1058.8,1076.9 L1061.4,1076.9 L1061.4,1078.3 L1064.0,1078.3 L1064.0,1076.8 L1066.6,1076.8 L1066.6,1074.8 L1069.2,1074.8 L1069.2,1079.4 L1071.8,1079.4 L1071.8,1072.4 L1074.4,1072.4 L1074.4,1076.3 L1077.0,1076.3 L1077.0,1073.7 L1079.6,1073.7 L1079.6,1062.5 L1082.2,1062.5 L1082.2,1053.7 L1084.8,1053.7 L1084.8,1043.9 L1087.4,1043.9 L1087.4,1028.5 L1090.0,1028.5 L1090.0,997.0 L1092.6,997.0 L1092.6,951.4 L1095.2,951.4 L1095.2,908.5 L1097.8,908.5 L1097.8,888.4 L1100.4,888.4 L1100.4,860.6 L1103.0,860.6 L1103.0,832.0 L1105.6,832.0 L1105.6,791.3 L1108.2,791.3 L1108.2,747.1 L1110.8,747.1 L1110.8,724.8 L1113.4,724.8 L1113.4,701.1 L1116.0,701.1 L1116.0,699.7 L1118.6,699.7 L1118.6,701.3 L1121.2,701.3 L1121.2,704.3 L1123.8,704.3 L1123.8,698.1 L1126.4,698.1 L1126.4,714.6 L1129.0,714.6 L1129.0,725.7 L1131.6,725.7 L1131.6,842.8 L1134.2,842.8 L1134.2,878.1 L1136.8,878.1 L1136.8,909.3 L1139.4,909.3 L1139.4,938.2 L1142.0,938.2 L1142.0,984.6 L1144.6,984.6 L1144.6,1022.0 L1147.2,1022.0 L1147.2,1030.9 L1149.8,1030.9 L1149.8,1047.1 L1152.4,1047.1 L1152.4,1068.2 L1155.0,1068.2 L1155.0,1080.9 L1157.6,1080.9 L1157.6,1091.7 L1160.2,1091.7 L1160.2,1098.8 L1162.8,1098.8 L1162.8,1094.2 L1165.4,1094.2 L1165.4,1104.5 L1168.0,1104.5 L1168.0,1108.6 L1170.6,1108.6 L1170.6,1104.9 L1172.2,1104.9 L1172.2,1109.4 L1172.2,1109.4 L1172.2,1141.0 L1172.2,1141.0 L1172.2,1139.4 L1170.6,1139.4 L1170.6,1142.2 L1168.0,1142.2 L1168.0,1140.7 L1165.4,1140.7 L1165.4,1133.9 L1162.8,1133.9 L1162.8,1130.0 L1160.2,1130.0 L1160.2,1130.5 L1157.6,1130.5 L1157.6,1125.6 L1155.0,1125.6 L1155.0,1121.9 L1152.4,1121.9 L1152.4,1116.6 L1149.8,1116.6 L1149.8,1101.5 L1147.2,1101.5 L1147.2,1086.3 L1144.6,1086.3 L1144.6,1068.3 L1142.0,1068.3 L1142.0,1056.3 L1139.4,1056.3 L1139.4,1023.6 L1136.8,1023.6 L1136.8,977.9 L1134.2,977.9 L1134.2,939.7 L1131.6,939.7 L1131.6,913.5 L1129.0,913.5 L1129.0,885.7 L1126.4,885.7 L1126.4,785.7 L1123.8,785.7 L1123.8,738.8 L1121.2,738.8 L1121.2,733.1 L1118.6,733.1 L1118.6,754.0 L1116.0,754.0 L1116.0,782.7 L1113.4,782.7 L1113.4,827.4 L1110.8,827.4 L1110.8,869.6 L1108.2,869.6 L1108.2,896.8 L1105.6,896.8 L1105.6,923.7 L1103.0,923.7 L1103.0,949.4 L1100.4,949.4 L1100.4,997.4 L1097.8,997.4 L1097.8,1039.4 L1095.2,1039.4 L1095.2,1065.6 L1092.6,1065.6 L1092.6,1077.1 L1090.0,1077.1 L1090.0,1086.1 L1087.4,1086.1 L1087.4,1097.7 L1084.8,1097.7 L1084.8,1105.0 L1082.2,1105.0 L1082.2,1103.7 L1079.6,1103.7 L1079.6,1105.0 L1077.0,1105.0 L1077.0,1112.3 L1074.4,1112.3 L1074.4,1107.9 L1071.8,1107.9 L1071.8,1108.8 L1069.2,1108.8 L1069.2,1108.4 L1066.6,1108.4 L1066.6,1109.6 L1064.0,1109.6 L1064.0,1114.8 L1061.4,1114.8 L1061.4,1113.8 L1058.8,1113.8 L1058.8,1114.3 L1056.2,1114.3 L1056.2,1116.8 L1053.6,1116.8 L1053.6,1113.5 L1051.0,1113.5 L1051.0,1113.8 L1048.4,1113.8 L1048.4,1106.5 L1045.8,1106.5 L1045.8,1104.1 L1043.2,1104.1 L1043.2,1102.6 L1040.6,1102.6 L1040.6,1096.2 L1038.0,1096.2 L1038.0,1097.7 L1035.4,1097.7 L1035.4,1086.1 L1032.8,1086.1 L1032.8,1091.5 L1030.2,1091.5 L1030.2,1087.6 L1027.6,1087.6 L1027.6,1075.9 L1025.0,1075.9 L1025.0,1080.1 L1022.4,1080.1 L1022.4,1073.4 L1019.8,1073.4 L1019.8,1081.1 L1017.2,1081.1 L1017.2,1080.5 L1014.6,1080.5 L1014.6,1082.1 L1012.0,1082.1 L1012.0,1082.4 L1009.4,1082.4 L1009.4,1074.2 L1006.8,1074.2 L1006.8,1079.4 L1004.2,1079.4 L1004.2,1090.9 L1001.6,1090.9 L1001.6,1096.7 L999.0,1096.7 L999.0,1099.7 L996.4,1099.7 L996.4,1103.0 L993.8,1103.0 L993.8,1101.5 L991.2,1101.5 L991.2,1110.2 L988.6,1110.2 L988.6,1106.5 L986.0,1106.5 L986.0,1110.1 L983.4,1110.1 L983.4,1112.7 L980.8,1112.7 L980.8,1113.8 L978.2,1113.8 L978.2,1115.5 L975.6,1115.5 L975.6,1114.4 L973.0,1114.4 L973.0,1121.1 L970.4,1121.1 L970.4,1117.1 L967.8,1117.1 L967.8,1121.0 L965.2,1121.0 L965.2,1124.1 L962.6,1124.1 L962.6,1119.6 L960.0,1119.6 L960.0,1127.3 L957.4,1127.3 L957.4,1124.4 L954.8,1124.4 L954.8,1127.3 L952.2,1127.3 L952.2,1130.0 L949.6,1130.0 L949.6,1132.7 L947.0,1132.7 L947.0,1125.9 L944.4,1125.9 L944.4,1129.7 L941.8,1129.7 L941.8,1129.6 L939.2,1129.6 L939.2,1128.1 L936.6,1128.1 L936.6,1134.1 L934.0,1134.1 L934.0,1132.8 L931.4,1132.8 L931.4,1131.1 L928.8,1131.1 L928.8,1139.0 L926.2,1139.0 L926.2,1139.7 L923.6,1139.7 L923.6,1133.5 L921.0,1133.5 L921.0,1138.4 L918.4,1138.4 L918.4,1139.2 L915.8,1139.2 L915.8,1134.5 L913.2,1134.5 L913.2,1142.6 L910.6,1142.6 L910.6,1141.8 L908.0,1141.8 L908.0,1140.6 L905.4,1140.6 L905.4,1143.0 L902.8,1143.0 L902.8,1135.9 L900.2,1135.9 L900.2,1141.5 L897.6,1141.5 L897.6,1141.5 L895.0,1141.5 L895.0,1139.2 L892.4,1139.2 L892.4,1143.8 L889.8,1143.8 L889.8,1142.1 L887.2,1142.1 L887.2,1141.7 L884.6,1141.7 L884.6,1143.9 L882.0,1143.9 L882.0,1144.8 L879.4,1144.8 L879.4,1142.5 L876.8,1142.5 L876.8,1137.4 L874.2,1137.4 L874.2,1137.6 L871.6,1137.6 L871.6,1143.2 L869.0,1143.2 L869.0,1142.6 L866.4,1142.6 L866.4,1138.3 L863.8,1138.3 L863.8,1137.9 L861.2,1137.9 L861.2,1142.8 L858.6,1142.8 L858.6,1137.2 L856.0,1137.2 L856.0,1137.8 L853.4,1137.8 L853.4,1140.6 L850.8,1140.6 L850.8,1139.9 L848.2,1139.9 L848.2,1138.4 L845.6,1138.4 L845.6,1137.5 L843.0,1137.5 L843.0,1140.2 L840.4,1140.2 L840.4,1142.3 L837.8,1142.3 L837.8,1145.0 L835.2,1145.0 L835.2,1141.3 L832.6,1141.3 L832.6,1140.7 L830.0,1140.7 L830.0,1142.3 L827.4,1142.3 L827.4,1140.5 L824.8,1140.5 L824.8,1145.3 L822.2,1145.3 L822.2,1138.4 L819.6,1138.4 L819.6,1141.8 L817.0,1141.8 L817.0,1140.6 L814.4,1140.6 L814.4,1143.1 L811.8,1143.1 L811.8,1136.1 L809.2,1136.1 L809.2,1131.9 L806.6,1131.9 L806.6,1132.5 L804.0,1132.5 L804.0,1126.2 L801.4,1126.2 L801.4,1124.5 L798.8,1124.5 L798.8,1123.6 L796.2,1123.6 L796.2,1120.6 L793.6,1120.6 L793.6,1111.1 L791.0,1111.1 L791.0,1109.0 L788.4,1109.0 L788.4,1099.5 L785.8,1099.5 L785.8,1087.2 L783.2,1087.2 L783.2,1076.7 L780.6,1076.7 L780.6,1047.9 L778.0,1047.9 L778.0,1022.1 L775.4,1022.1 L775.4,992.7 L772.8,992.7 L772.8,919.2 L770.2,919.2 L770.2,833.2 L767.6,833.2 L767.6,777.6 L765.0,777.6 L765.0,790.5 L762.4,790.5 L762.4,825.1 L759.8,825.1 L759.8,858.6 L757.2,858.6 L757.2,897.5 L754.6,897.5 L754.6,931.4 L752.0,931.4 L752.0,961.4 L749.4,961.4 L749.4,987.9 L746.8,987.9 L746.8,1010.7 L744.2,1010.7 L744.2,1044.5 L741.6,1044.5 L741.6,1071.0 L739.0,1071.0 L739.0,1081.0 L736.4,1081.0 L736.4,1082.0 L733.8,1082.0 L733.8,1096.3 L731.2,1096.3 L731.2,1101.8 L728.6,1101.8 L728.6,1113.5 L726.0,1113.5 L726.0,1116.8 L723.4,1116.8 L723.4,1113.9 L720.8,1113.9 L720.8,1110.7 L718.2,1110.7 L718.2,1115.1 L715.6,1115.1 L715.6,1112.1 L713.0,1112.1 L713.0,1111.9 L710.4,1111.9 L710.4,1113.0 L707.8,1113.0 L707.8,1115.1 L705.2,1115.1 L705.2,1116.3 L702.6,1116.3 L702.6,1115.4 L700.0,1115.4 L700.0,1112.0 L697.4,1112.0 L697.4,1110.0 L694.8,1110.0 L694.8,1108.7 L692.2,1108.7 L692.2,1112.6 L689.6,1112.6 L689.6,1112.4 L687.0,1112.4 L687.0,1109.2 L684.4,1109.2 L684.4,1108.7 L681.8,1108.7 L681.8,1103.6 L679.2,1103.6 L679.2,1102.5 L676.6,1102.5 L676.6,1093.0 L674.0,1093.0 L674.0,1084.7 L671.4,1084.7 L671.4,1074.1 L668.8,1074.1 L668.8,1065.2 L666.2,1065.2 L666.2,1061.5 L663.6,1061.5 L663.6,1044.8 L661.0,1044.8 L661.0,1036.9 L658.4,1036.9 L658.4,1036.1 L655.8,1036.1 L655.8,1022.6 L653.2,1022.6 L653.2,1015.8 L650.6,1015.8 L650.6,1000.1 L648.0,1000.1 L648.0,995.3 L645.4,995.3 L645.4,976.2 L642.8,976.2 L642.8,971.7 L640.2,971.7 L640.2,958.3 L637.6,958.3 L637.6,933.4 L635.0,933.4 L635.0,914.4 L632.4,914.4 L632.4,894.9 L629.8,894.9 L629.8,880.4 L627.2,880.4 L627.2,862.8 L624.6,862.8 L624.6,848.1 L622.0,848.1 L622.0,829.7 L619.4,829.7 L619.4,820.4 L616.8,820.4 L616.8,808.0 L614.2,808.0 L614.2,823.2 L611.6,823.2 L611.6,846.0 L609.0,846.0 L609.0,866.1 L606.4,866.1 L606.4,880.3 L603.8,880.3 L603.8,897.2 L601.2,897.2 L601.2,922.3 L598.6,922.3 L598.6,930.2 L596.0,930.2 L596.0,938.8 L593.4,938.8 L593.4,950.0 L590.8,950.0 L590.8,962.5 L588.2,962.5 L588.2,974.1 L585.6,974.1 L585.6,990.0 L583.0,990.0 L583.0,994.1 L580.4,994.1 L580.4,1009.9 L577.8,1009.9 L577.8,1016.7 L575.2,1016.7 L575.2,1033.1 L572.6,1033.1 L572.6,1036.4 L570.0,1036.4 L570.0,1035.2 L567.4,1035.2 L567.4,1041.9 L564.8,1041.9 L564.8,1040.8 L562.2,1040.8 L562.2,1043.1 L559.6,1043.1 L559.6,1037.7 L557.0,1037.7 L557.0,1037.0 L554.4,1037.0 L554.4,1043.4 L551.8,1043.4 L551.8,1038.9 L549.2,1038.9 L549.2,1040.6 L546.6,1040.6 L546.6,1039.1 L544.0,1039.1 L544.0,1041.4 L541.4,1041.4 L541.4,1040.0 L538.8,1040.0 L538.8,1040.8 L536.2,1040.8 L536.2,1039.0 L533.6,1039.0 L533.6,1032.7 L531.0,1032.7 L531.0,1034.4 L528.4,1034.4 L528.4,1031.7 L525.8,1031.7 L525.8,1040.8 L523.2,1040.8 L523.2,1045.9 L520.6,1045.9 L520.6,1050.7 L518.0,1050.7 L518.0,1059.4 L515.4,1059.4 L515.4,1060.4 L512.8,1060.4 L512.8,1066.6 L510.2,1066.6 L510.2,1065.2 L507.6,1065.2 L507.6,1064.8 L505.0,1064.8 L505.0,1069.5 L502.4,1069.5 L502.4,1067.6 L499.8,1067.6 L499.8,1075.3 L497.2,1075.3 L497.2,1080.5 L494.6,1080.5 L494.6,1076.5 L492.0,1076.5 L492.0,1084.1 L489.4,1084.1 L489.4,1079.9 L486.8,1079.9 L486.8,1082.5 L484.2,1082.5 L484.2,1085.2 L481.6,1085.2 L481.6,1088.3 L479.0,1088.3 L479.0,1095.0 L476.4,1095.0 L476.4,1090.6 L473.8,1090.6 L473.8,1093.9 L471.2,1093.9 L471.2,1101.5 L468.6,1101.5 L468.6,1100.2 L466.0,1100.2 L466.0,1104.2 L463.4,1104.2 L463.4,1103.6 L460.8,1103.6 L460.8,1102.9 L458.2,1102.9 L458.2,1102.7 L455.6,1102.7 L455.6,1105.9 L453.0,1105.9 L453.0,1109.4 L450.4,1109.4 L450.4,1109.2 L447.8,1109.2 L447.8,1115.4 L445.2,1115.4 L445.2,1110.7 L442.6,1110.7 L442.6,1117.2 L440.0,1117.2 L440.0,1117.2 L437.4,1117.2 L437.4,1114.4 L434.8,1114.4 L434.8,1120.2 L432.2,1120.2 L432.2,1117.9 L429.6,1117.9 L429.6,1118.9 L427.0,1118.9 L427.0,1117.1 L424.4,1117.1 L424.4,1120.9 L421.8,1120.9 L421.8,1114.1 L419.2,1114.1 L419.2,1114.6 L416.6,1114.6 L416.6,1119.5 L414.0,1119.5 L414.0,1120.1 L411.4,1120.1 L411.4,1123.6 L408.8,1123.6 L408.8,1123.0 L406.2,1123.0 L406.2,1123.7 L403.6,1123.7 L403.6,1120.6 L401.0,1120.6 L401.0,1124.1 L398.4,1124.1 L398.4,1123.7 L395.8,1123.7 L395.8,1122.4 L393.2,1122.4 L393.2,1122.0 L390.6,1122.0 L390.6,1122.3 L388.0,1122.3 L388.0,1121.0 L385.4,1121.0 L385.4,1121.5 L382.8,1121.5 L382.8,1123.2 L380.2,1123.2 L380.2,1116.1 L377.6,1116.1 L377.6,1118.1 L375.0,1118.1 L375.0,1112.7 L372.4,1112.7 L372.4,1115.2 L369.8,1115.2 L369.8,1114.1 L367.2,1114.1 L367.2,1108.6 L364.6,1108.6 L364.6,1111.8 L362.0,1111.8 L362.0,1110.9 L359.4,1110.9 L359.4,1105.3 L356.8,1105.3 L356.8,1105.3 L354.2,1105.3 L354.2,1109.7 L351.6,1109.7 L351.6,1106.4 L349.0,1106.4 L349.0,1107.6 L346.4,1107.6 L346.4,1102.9 L343.8,1102.9 L343.8,1107.1 L341.2,1107.1 L341.2,1104.8 L338.6,1104.8 L338.6,1097.0 L336.0,1097.0 L336.0,1096.0 L333.4,1096.0 L333.4,1085.5 L330.8,1085.5 L330.8,1087.0 L328.2,1087.0 L328.2,1074.9 L325.6,1074.9 L325.6,1070.8 L323.0,1070.8 L323.0,1066.0 L320.4,1066.0 L320.4,1055.7 L317.8,1055.7 L317.8,1052.9 L315.2,1052.9 L315.2,1051.2 L312.6,1051.2 L312.6,1056.3 L310.0,1056.3 L310.0,1064.2 L307.4,1064.2 L307.4,1077.3 L304.8,1077.3 L304.8,1084.7 L302.2,1084.7 L302.2,1086.3 L299.6,1086.3 L299.6,1091.0 L297.0,1091.0 L297.0,1093.1 L294.4,1093.1 L294.4,1095.8 L291.8,1095.8 L291.8,1101.5 L289.2,1101.5 L289.2,1105.2 L286.6,1105.2 L286.6,1106.1 L284.0,1106.1 L284.0,1111.7 L281.4,1111.7 L281.4,1110.6 L278.8,1110.6 L278.8,1109.7 L276.2,1109.7 L276.2,1114.8 L273.6,1114.8 L273.6,1112.0 L271.0,1112.0 L271.0,1114.0 L268.4,1114.0 L268.4,1113.7 L265.8,1113.7 L265.8,1118.6 L263.2,1118.6 L263.2,1120.2 L260.6,1120.2 L260.6,1119.7 L258.0,1119.7 L258.0,1119.2 L255.4,1119.2 L255.4,1121.0 L252.8,1121.0 L252.8,1118.9 L250.2,1118.9 L250.2,1125.5 L247.6,1125.5 L247.6,1120.7 L245.0,1120.7 L245.0,1122.4 L242.4,1122.4 L242.4,1121.9 L239.8,1121.9 L239.8,1122.8 L237.2,1122.8 L237.2,1121.3 L234.6,1121.3 L234.6,1120.2 L232.0,1120.2 L232.0,1120.5 L229.4,1120.5 L229.4,1123.3 L226.8,1123.3 L226.8,1122.3 L224.2,1122.3 L224.2,1126.2 L221.6,1126.2 L221.6,1120.3 L219.0,1120.3 L219.0,1123.1 L216.4,1123.1 L216.4,1122.0 L213.8,1122.0 L213.8,1127.1 L211.2,1127.1 L211.2,1122.2 L208.6,1122.2 L208.6,1120.7 L206.0,1120.7 L206.0,1127.3 L203.4,1127.3 L203.4,1122.9 L200.8,1122.9 L200.8,1122.3 L198.2,1122.3 L198.2,1127.1 L195.6,1127.1 L195.6,1125.6 L193.0,1125.6 L193.0,1124.8 L190.4,1124.8 L190.4,1121.9 L187.8,1121.9 L187.8,1125.5 L185.2,1125.5 L185.2,1120.9 L182.6,1120.9 L182.6,1121.4 L180.0,1121.4 L180.0,1119.6 L177.4,1119.6 L177.4,1122.6 L174.8,1122.6 L174.8,1124.2 L172.2,1124.2 L172.2,1118.8 L169.6,1118.8 L169.6,1125.3 L167.0,1125.3 L167.0,1119.7 L164.4,1119.7 L164.4,1120.6 L161.8,1120.6 L161.8,1116.5 L159.2,1116.5 L159.2,1112.8 L156.6,1112.8 L156.6,1119.4 L154.0,1119.4 Z" fill="#0000ff" stroke="none"/>
<rect x="508.4" y="989.7" width="4" height="50.0" fill="#0000ff"/>
<rect x="544.0" y="967.0" width="4" height="55.0" fill="#0000ff"/>
<rect x="1000.5" y="1020.0" width="4" height="42.0" fill="#0000ff"/>
<rect x="1017.5" y="1012.0" width="4" height="48.0" fill="#0000ff"/>
<rect x="1061.6" y="1054.2" width="4" height="40.0" fill="#0000ff"/>
<path d="M154.0,1464.3 L156.6,1464.3 L156.6,1463.5 L159.2,1463.5 L159.2,1461.8 L161.8,1461.8 L161.8,1466.1 L164.4,1466.1 L164.4,1464.5 L167.0,1464.5 L167.0,1466.3 L169.6,1466.3 L169.6,1464.3 L172.2,1464.3 L172.2,1466.0 L174.8,1466.0 L174.8,1468.4 L177.4,1468.4 L177.4,1467.0 L180.0,1467.0 L180.0,1469.0 L182.6,1469.0 L182.6,1470.5 L185.2,1470.5 L185.2,1470.6 L187.8,1470.6 L187.8,1469.6 L190.4,1469.6 L190.4,1472.0 L193.0,1472.0 L193.0,1467.5 L195.6,1467.5 L195.6,1467.0 L198.2,1467.0 L198.2,1471.4 L200.8,1471.4 L200.8,1468.1 L203.4,1468.1 L203.4,1468.3 L206.0,1468.3 L206.0,1468.2 L208.6,1468.2 L208.6,1469.9 L211.2,1469.9 L211.2,1464.3 L213.8,1464.3 L213.8,1467.9 L216.4,1467.9 L216.4,1463.7 L219.0,1463.7 L219.0,1466.6 L221.6,1466.6 L221.6,1467.5 L224.2,1467.5 L224.2,1466.9 L226.8,1466.9 L226.8,1466.0 L229.4,1466.0 L229.4,1461.6 L232.0,1461.6 L232.0,1460.6 L234.6,1460.6 L234.6,1459.7 L237.2,1459.7 L237.2,1462.1 L239.8,1462.1 L239.8,1461.0 L242.4,1461.0 L242.4,1458.6 L245.0,1458.6 L245.0,1456.6 L247.6,1456.6 L247.6,1455.7 L250.2,1455.7 L250.2,1453.9 L252.8,1453.9 L252.8,1453.3 L255.4,1453.3 L255.4,1453.8 L258.0,1453.8 L258.0,1451.6 L260.6,1451.6 L260.6,1450.1 L263.2,1450.1 L263.2,1452.6 L265.8,1452.6 L265.8,1446.6 L268.4,1446.6 L268.4,1448.3 L271.0,1448.3 L271.0,1446.6 L273.6,1446.6 L273.6,1445.3 L276.2,1445.3 L276.2,1444.0 L278.8,1444.0 L278.8,1446.8 L281.4,1446.8 L281.4,1445.8 L284.0,1445.8 L284.0,1443.2 L286.6,1443.2 L286.6,1443.2 L289.2,1443.2 L289.2,1438.0 L291.8,1438.0 L291.8,1438.6 L294.4,1438.6 L294.4,1439.3 L297.0,1439.3 L297.0,1436.6 L299.6,1436.6 L299.6,1436.8 L302.2,1436.8 L302.2,1431.9 L304.8,1431.9 L304.8,1433.0 L307.4,1433.0 L307.4,1428.7 L310.0,1428.7 L310.0,1428.5 L312.6,1428.5 L312.6,1429.0 L315.2,1429.0 L315.2,1427.0 L317.8,1427.0 L317.8,1422.8 L320.4,1422.8 L320.4,1424.1 L323.0,1424.1 L323.0,1426.2 L325.6,1426.2 L325.6,1426.7 L328.2,1426.7 L328.2,1424.7 L330.8,1424.7 L330.8,1427.7 L333.4,1427.7 L333.4,1428.6 L336.0,1428.6 L336.0,1433.9 L338.6,1433.9 L338.6,1433.2 L341.2,1433.2 L341.2,1437.7 L343.8,1437.7 L343.8,1435.2 L346.4,1435.2 L346.4,1439.4 L349.0,1439.4 L349.0,1435.3 L351.6,1435.3 L351.6,1439.5 L354.2,1439.5 L354.2,1440.5 L356.8,1440.5 L356.8,1440.3 L359.4,1440.3 L359.4,1438.9 L362.0,1438.9 L362.0,1438.8 L364.6,1438.8 L364.6,1441.0 L367.2,1441.0 L367.2,1438.8 L369.8,1438.8 L369.8,1439.4 L372.4,1439.4 L372.4,1442.7 L375.0,1442.7 L375.0,1442.0 L377.6,1442.0 L377.6,1438.3 L380.2,1438.3 L380.2,1440.8 L382.8,1440.8 L382.8,1437.7 L385.4,1437.7 L385.4,1438.0 L388.0,1438.0 L388.0,1437.5 L390.6,1437.5 L390.6,1435.0 L393.2,1435.0 L393.2,1440.6 L395.8,1440.6 L395.8,1436.1 L398.4,1436.1 L398.4,1432.8 L401.0,1432.8 L401.0,1434.7 L403.6,1434.7 L403.6,1438.0 L406.2,1438.0 L406.2,1430.3 L408.8,1430.3 L408.8,1431.1 L411.4,1431.1 L411.4,1433.1 L414.0,1433.1 L414.0,1434.1 L416.6,1434.1 L416.6,1435.0 L419.2,1435.0 L419.2,1427.8 L421.8,1427.8 L421.8,1428.2 L424.4,1428.2 L424.4,1433.3 L427.0,1433.3 L427.0,1432.6 L429.6,1432.6 L429.6,1428.0 L432.2,1428.0 L432.2,1432.0 L434.8,1432.0 L434.8,1428.2 L437.4,1428.2 L437.4,1429.4 L440.0,1429.4 L440.0,1426.3 L442.6,1426.3 L442.6,1424.2 L445.2,1424.2 L445.2,1425.5 L447.8,1425.5 L447.8,1423.9 L450.4,1423.9 L450.4,1423.3 L453.0,1423.3 L453.0,1415.4 L455.6,1415.4 L455.6,1418.2 L458.2,1418.2 L458.2,1419.8 L460.8,1419.8 L460.8,1414.6 L463.4,1414.6 L463.4,1411.6 L466.0,1411.6 L466.0,1406.4 L468.6,1406.4 L468.6,1408.3 L471.2,1408.3 L471.2,1401.2 L473.8,1401.2 L473.8,1399.1 L476.4,1399.1 L476.4,1393.7 L479.0,1393.7 L479.0,1395.9 L481.6,1395.9 L481.6,1393.9 L484.2,1393.9 L484.2,1392.6 L486.8,1392.6 L486.8,1384.3 L489.4,1384.3 L489.4,1380.6 L492.0,1380.6 L492.0,1379.2 L494.6,1379.2 L494.6,1371.0 L497.2,1371.0 L497.2,1374.2 L499.8,1374.2 L499.8,1365.1 L502.4,1365.1 L502.4,1360.7 L505.0,1360.7 L505.0,1362.3 L507.6,1362.3 L507.6,1363.3 L510.2,1363.3 L510.2,1355.1 L512.8,1355.1 L512.8,1352.0 L515.4,1352.0 L515.4,1346.4 L518.0,1346.4 L518.0,1345.0 L520.6,1345.0 L520.6,1347.2 L523.2,1347.2 L523.2,1342.5 L525.8,1342.5 L525.8,1346.6 L528.4,1346.6 L528.4,1341.7 L531.0,1341.7 L531.0,1340.4 L533.6,1340.4 L533.6,1343.3 L536.2,1343.3 L536.2,1345.5 L538.8,1345.5 L538.8,1348.8 L541.4,1348.8 L541.4,1344.6 L544.0,1344.6 L544.0,1346.0 L546.6,1346.0 L546.6,1339.9 L549.2,1339.9 L549.2,1347.8 L551.8,1347.8 L551.8,1350.8 L554.4,1350.8 L554.4,1348.9 L557.0,1348.9 L557.0,1348.4 L559.6,1348.4 L559.6,1351.6 L562.2,1351.6 L562.2,1347.7 L564.8,1347.7 L564.8,1353.2 L567.4,1353.2 L567.4,1351.9 L570.0,1351.9 L570.0,1348.6 L572.6,1348.6 L572.6,1338.7 L575.2,1338.7 L575.2,1343.1 L577.8,1343.1 L577.8,1334.5 L580.4,1334.5 L580.4,1332.6 L583.0,1332.6 L583.0,1331.6 L585.6,1331.6 L585.6,1322.7 L588.2,1322.7 L588.2,1319.3 L590.8,1319.3 L590.8,1309.3 L593.4,1309.3 L593.4,1306.0 L596.0,1306.0 L596.0,1293.6 L598.6,1293.6 L598.6,1287.3 L601.2,1287.3 L601.2,1275.6 L603.8,1275.6 L603.8,1265.2 L606.4,1265.2 L606.4,1258.1 L609.0,1258.1 L609.0,1250.4 L611.6,1250.4 L611.6,1246.0 L614.2,1246.0 L614.2,1250.6 L616.8,1250.6 L616.8,1244.7 L619.4,1244.7 L619.4,1252.4 L622.0,1252.4 L622.0,1259.2 L624.6,1259.2 L624.6,1275.5 L627.2,1275.5 L627.2,1285.7 L629.8,1285.7 L629.8,1306.1 L632.4,1306.1 L632.4,1316.3 L635.0,1316.3 L635.0,1314.2 L637.6,1314.2 L637.6,1312.9 L640.2,1312.9 L640.2,1314.9 L642.8,1314.9 L642.8,1321.4 L645.4,1321.4 L645.4,1316.0 L648.0,1316.0 L648.0,1322.2 L650.6,1322.2 L650.6,1325.0 L653.2,1325.0 L653.2,1318.5 L655.8,1318.5 L655.8,1317.5 L658.4,1317.5 L658.4,1326.6 L661.0,1326.6 L661.0,1339.1 L663.6,1339.1 L663.6,1345.5 L666.2,1345.5 L666.2,1348.8 L668.8,1348.8 L668.8,1363.7 L671.4,1363.7 L671.4,1369.2 L674.0,1369.2 L674.0,1375.3 L676.6,1375.3 L676.6,1386.4 L679.2,1386.4 L679.2,1388.6 L681.8,1388.6 L681.8,1397.2 L684.4,1397.2 L684.4,1405.9 L687.0,1405.9 L687.0,1416.8 L689.6,1416.8 L689.6,1420.7 L692.2,1420.7 L692.2,1428.4 L694.8,1428.4 L694.8,1433.8 L697.4,1433.8 L697.4,1436.8 L700.0,1436.8 L700.0,1438.7 L702.6,1438.7 L702.6,1436.0 L705.2,1436.0 L705.2,1440.6 L707.8,1440.6 L707.8,1437.9 L710.4,1437.9 L710.4,1442.8 L713.0,1442.8 L713.0,1436.3 L715.6,1436.3 L715.6,1434.3 L718.2,1434.3 L718.2,1433.4 L720.8,1433.4 L720.8,1432.2 L723.4,1432.2 L723.4,1432.3 L726.0,1432.3 L726.0,1425.0 L728.6,1425.0 L728.6,1419.4 L731.2,1419.4 L731.2,1405.3 L733.8,1405.3 L733.8,1395.5 L736.4,1395.5 L736.4,1386.8 L739.0,1386.8 L739.0,1372.0 L741.6,1372.0 L741.6,1343.3 L744.2,1343.3 L744.2,1321.2 L746.8,1321.2 L746.8,1298.7 L749.4,1298.7 L749.4,1278.6 L752.0,1278.6 L752.0,1256.1 L754.6,1256.1 L754.6,1239.7 L757.2,1239.7 L757.2,1228.3 L759.8,1228.3 L759.8,1217.5 L762.4,1217.5 L762.4,1211.6 L765.0,1211.6 L765.0,1207.1 L767.6,1207.1 L767.6,1212.0 L770.2,1212.0 L770.2,1209.8 L772.8,1209.8 L772.8,1206.9 L775.4,1206.9 L775.4,1228.2 L778.0,1228.2 L778.0,1256.7 L780.6,1256.7 L780.6,1277.4 L783.2,1277.4 L783.2,1300.5 L785.8,1300.5 L785.8,1319.8 L788.4,1319.8 L788.4,1349.6 L791.0,1349.6 L791.0,1384.8 L793.6,1384.8 L793.6,1410.8 L796.2,1410.8 L796.2,1425.1 L798.8,1425.1 L798.8,1431.1 L801.4,1431.1 L801.4,1435.5 L804.0,1435.5 L804.0,1444.1 L806.6,1444.1 L806.6,1447.5 L809.2,1447.5 L809.2,1452.7 L811.8,1452.7 L811.8,1451.3 L814.4,1451.3 L814.4,1451.2 L817.0,1451.2 L817.0,1455.4 L819.6,1455.4 L819.6,1454.7 L822.2,1454.7 L822.2,1454.2 L824.8,1454.2 L824.8,1455.8 L827.4,1455.8 L827.4,1456.2 L830.0,1456.2 L830.0,1459.9 L832.6,1459.9 L832.6,1457.7 L835.2,1457.7 L835.2,1456.3 L837.8,1456.3 L837.8,1461.2 L840.4,1461.2 L840.4,1459.9 L843.0,1459.9 L843.0,1461.5 L845.6,1461.5 L845.6,1462.8 L848.2,1462.8 L848.2,1458.1 L850.8,1458.1 L850.8,1462.4 L853.4,1462.4 L853.4,1465.6 L856.0,1465.6 L856.0,1464.5 L858.6,1464.5 L858.6,1465.7 L861.2,1465.7 L861.2,1466.0 L863.8,1466.0 L863.8,1464.7 L866.4,1464.7 L866.4,1465.5 L869.0,1465.5 L869.0,1463.7 L871.6,1463.7 L871.6,1462.9 L874.2,1462.9 L874.2,1466.0 L876.8,1466.0 L876.8,1466.4 L879.4,1466.4 L879.4,1465.7 L882.0,1465.7 L882.0,1464.9 L884.6,1464.9 L884.6,1465.6 L887.2,1465.6 L887.2,1465.3 L889.8,1465.3 L889.8,1460.7 L892.4,1460.7 L892.4,1466.3 L895.0,1466.3 L895.0,1461.3 L897.6,1461.3 L897.6,1463.6 L900.2,1463.6 L900.2,1462.4 L902.8,1462.4 L902.8,1459.9 L905.4,1459.9 L905.4,1461.5 L908.0,1461.5 L908.0,1457.9 L910.6,1457.9 L910.6,1461.1 L913.2,1461.1 L913.2,1457.6 L915.8,1457.6 L915.8,1460.8 L918.4,1460.8 L918.4,1457.4 L921.0,1457.4 L921.0,1458.1 L923.6,1458.1 L923.6,1453.4 L926.2,1453.4 L926.2,1452.3 L928.8,1452.3 L928.8,1451.1 L931.4,1451.1 L931.4,1452.5 L934.0,1452.5 L934.0,1452.5 L936.6,1452.5 L936.6,1451.2 L939.2,1451.2 L939.2,1449.1 L941.8,1449.1 L941.8,1447.3 L944.4,1447.3 L944.4,1450.8 L947.0,1450.8 L947.0,1445.8 L949.6,1445.8 L949.6,1449.0 L952.2,1449.0 L952.2,1447.8 L954.8,1447.8 L954.8,1451.6 L957.4,1451.6 L957.4,1449.9 L960.0,1449.9 L960.0,1446.7 L962.6,1446.7 L962.6,1445.2 L965.2,1445.2 L965.2,1447.0 L967.8,1447.0 L967.8,1442.2 L970.4,1442.2 L970.4,1442.3 L973.0,1442.3 L973.0,1440.1 L975.6,1440.1 L975.6,1433.1 L978.2,1433.1 L978.2,1430.8 L980.8,1430.8 L980.8,1427.6 L983.4,1427.6 L983.4,1428.7 L986.0,1428.7 L986.0,1423.5 L988.6,1423.5 L988.6,1419.6 L991.2,1419.6 L991.2,1415.8 L993.8,1415.8 L993.8,1420.4 L996.4,1420.4 L996.4,1413.8 L999.0,1413.8 L999.0,1412.7 L1001.6,1412.7 L1001.6,1417.3 L1004.2,1417.3 L1004.2,1410.8 L1006.8,1410.8 L1006.8,1407.6 L1009.4,1407.6 L1009.4,1409.1 L1012.0,1409.1 L1012.0,1408.9 L1014.6,1408.9 L1014.6,1406.3 L1017.2,1406.3 L1017.2,1408.3 L1019.8,1408.3 L1019.8,1407.8 L1022.4,1407.8 L1022.4,1407.9 L1025.0,1407.9 L1025.0,1412.7 L1027.6,1412.7 L1027.6,1415.0 L1030.2,1415.0 L1030.2,1415.5 L1032.8,1415.5 L1032.8,1418.4 L1035.4,1418.4 L1035.4,1414.3 L1038.0,1414.3 L1038.0,1419.4 L1040.6,1419.4 L1040.6,1424.1 L1043.2,1424.1 L1043.2,1419.9 L1045.8,1419.9 L1045.8,1419.4 L1048.4,1419.4 L1048.4,1420.4 L1051.0,1420.4 L1051.0,1420.9 L1053.6,1420.9 L1053.6,1424.3 L1056.2,1424.3 L1056.2,1425.2 L1058.8,1425.2 L1058.8,1421.6 L1061.4,1421.6 L1061.4,1423.6 L1064.0,1423.6 L1064.0,1424.7 L1066.6,1424.7 L1066.6,1420.7 L1069.2,1420.7 L1069.2,1413.1 L1071.8,1413.1 L1071.8,1408.5 L1074.4,1408.5 L1074.4,1406.3 L1077.0,1406.3 L1077.0,1398.7 L1079.6,1398.7 L1079.6,1402.2 L1082.2,1402.2 L1082.2,1394.9 L1084.8,1394.9 L1084.8,1392.0 L1087.4,1392.0 L1087.4,1381.7 L1090.0,1381.7 L1090.0,1380.4 L1092.6,1380.4 L1092.6,1373.7 L1095.2,1373.7 L1095.2,1348.9 L1097.8,1348.9 L1097.8,1323.0 L1100.4,1323.0 L1100.4,1306.6 L1103.0,1306.6 L1103.0,1288.8 L1105.6,1288.8 L1105.6,1263.2 L1108.2,1263.2 L1108.2,1226.8 L1110.8,1226.8 L1110.8,1175.2 L1113.4,1175.2 L1113.4,1138.3 L1116.0,1138.3 L1116.0,1115.3 L1118.6,1115.3 L1118.6,1117.8 L1121.2,1117.8 L1121.2,1115.1 L1123.8,1115.1 L1123.8,1115.5 L1126.4,1115.5 L1126.4,1116.8 L1129.0,1116.8 L1129.0,1147.6 L1131.6,1147.6 L1131.6,1185.0 L1134.2,1185.0 L1134.2,1234.0 L1136.8,1234.0 L1136.8,1267.3 L1139.4,1267.3 L1139.4,1290.2 L1142.0,1290.2 L1142.0,1314.4 L1144.6,1314.4 L1144.6,1342.9 L1147.2,1342.9 L1147.2,1363.1 L1149.8,1363.1 L1149.8,1377.9 L1152.4,1377.9 L1152.4,1396.1 L1155.0,1396.1 L1155.0,1404.6 L1157.6,1404.6 L1157.6,1415.4 L1160.2,1415.4 L1160.2,1424.2 L1162.8,1424.2 L1162.8,1432.8 L1165.4,1432.8 L1165.4,1441.8 L1168.0,1441.8 L1168.0,1444.4 L1170.6,1444.4 L1170.6,1450.7 L1172.2,1450.7 L1172.2,1455.9 L1172.2,1455.9 L1172.2,1481.2 L1172.2,1481.2 L1172.2,1480.5 L1170.6,1480.5 L1170.6,1476.0 L1168.0,1476.0 L1168.0,1477.8 L1165.4,1477.8 L1165.4,1473.6 L1162.8,1473.6 L1162.8,1468.8 L1160.2,1468.8 L1160.2,1457.0 L1157.6,1457.0 L1157.6,1454.2 L1155.0,1454.2 L1155.0,1444.7 L1152.4,1444.7 L1152.4,1435.2 L1149.8,1435.2 L1149.8,1427.7 L1147.2,1427.7 L1147.2,1413.7 L1144.6,1413.7 L1144.6,1389.2 L1142.0,1389.2 L1142.0,1374.6 L1139.4,1374.6 L1139.4,1350.7 L1136.8,1350.7 L1136.8,1322.8 L1134.2,1322.8 L1134.2,1298.5 L1131.6,1298.5 L1131.6,1265.0 L1129.0,1265.0 L1129.0,1224.1 L1126.4,1224.1 L1126.4,1183.3 L1123.8,1183.3 L1123.8,1150.0 L1121.2,1150.0 L1121.2,1171.5 L1118.6,1171.5 L1118.6,1212.5 L1116.0,1212.5 L1116.0,1261.7 L1113.4,1261.7 L1113.4,1301.2 L1110.8,1301.2 L1110.8,1314.4 L1108.2,1314.4 L1108.2,1332.8 L1105.6,1332.8 L1105.6,1361.7 L1103.0,1361.7 L1103.0,1385.4 L1100.4,1385.4 L1100.4,1401.6 L1097.8,1401.6 L1097.8,1409.3 L1095.2,1409.3 L1095.2,1414.9 L1092.6,1414.9 L1092.6,1416.6 L1090.0,1416.6 L1090.0,1426.0 L1087.4,1426.0 L1087.4,1429.8 L1084.8,1429.8 L1084.8,1428.0 L1082.2,1428.0 L1082.2,1434.4 L1079.6,1434.4 L1079.6,1437.9 L1077.0,1437.9 L1077.0,1442.5 L1074.4,1442.5 L1074.4,1444.4 L1071.8,1444.4 L1071.8,1449.6 L1069.2,1449.6 L1069.2,1450.3 L1066.6,1450.3 L1066.6,1450.8 L1064.0,1450.8 L1064.0,1455.7 L1061.4,1455.7 L1061.4,1454.7 L1058.8,1454.7 L1058.8,1451.1 L1056.2,1451.1 L1056.2,1451.0 L1053.6,1451.0 L1053.6,1455.5 L1051.0,1455.5 L1051.0,1448.8 L1048.4,1448.8 L1048.4,1453.2 L1045.8,1453.2 L1045.8,1455.5 L1043.2,1455.5 L1043.2,1450.9 L1040.6,1450.9 L1040.6,1448.2 L1038.0,1448.2 L1038.0,1446.0 L1035.4,1446.0 L1035.4,1445.3 L1032.8,1445.3 L1032.8,1442.7 L1030.2,1442.7 L1030.2,1445.8 L1027.6,1445.8 L1027.6,1439.7 L1025.0,1439.7 L1025.0,1440.7 L1022.4,1440.7 L1022.4,1438.8 L1019.8,1438.8 L1019.8,1437.9 L1017.2,1437.9 L1017.2,1438.4 L1014.6,1438.4 L1014.6,1443.8 L1012.0,1443.8 L1012.0,1437.1 L1009.4,1437.1 L1009.4,1446.5 L1006.8,1446.5 L1006.8,1441.1 L1004.2,1441.1 L1004.2,1446.1 L1001.6,1446.1 L1001.6,1445.3 L999.0,1445.3 L999.0,1445.7 L996.4,1445.7 L996.4,1445.1 L993.8,1445.1 L993.8,1448.1 L991.2,1448.1 L991.2,1456.7 L988.6,1456.7 L988.6,1453.4 L986.0,1453.4 L986.0,1459.9 L983.4,1459.9 L983.4,1459.0 L980.8,1459.0 L980.8,1465.3 L978.2,1465.3 L978.2,1471.1 L975.6,1471.1 L975.6,1473.0 L973.0,1473.0 L973.0,1476.3 L970.4,1476.3 L970.4,1475.1 L967.8,1475.1 L967.8,1471.7 L965.2,1471.7 L965.2,1472.1 L962.6,1472.1 L962.6,1475.4 L960.0,1475.4 L960.0,1472.6 L957.4,1472.6 L957.4,1471.7 L954.8,1471.7 L954.8,1475.5 L952.2,1475.5 L952.2,1470.5 L949.6,1470.5 L949.6,1470.8 L947.0,1470.8 L947.0,1474.6 L944.4,1474.6 L944.4,1472.7 L941.8,1472.7 L941.8,1472.6 L939.2,1472.6 L939.2,1475.4 L936.6,1475.4 L936.6,1477.7 L934.0,1477.7 L934.0,1475.1 L931.4,1475.1 L931.4,1476.5 L928.8,1476.5 L928.8,1477.6 L926.2,1477.6 L926.2,1479.6 L923.6,1479.6 L923.6,1479.1 L921.0,1479.1 L921.0,1480.8 L918.4,1480.8 L918.4,1480.0 L915.8,1480.0 L915.8,1482.0 L913.2,1482.0 L913.2,1487.3 L910.6,1487.3 L910.6,1487.8 L908.0,1487.8 L908.0,1485.5 L905.4,1485.5 L905.4,1485.0 L902.8,1485.0 L902.8,1490.4 L900.2,1490.4 L900.2,1487.0 L897.6,1487.0 L897.6,1486.4 L895.0,1486.4 L895.0,1485.1 L892.4,1485.1 L892.4,1484.5 L889.8,1484.5 L889.8,1489.7 L887.2,1489.7 L887.2,1485.8 L884.6,1485.8 L884.6,1490.4 L882.0,1490.4 L882.0,1487.7 L879.4,1487.7 L879.4,1491.6 L876.8,1491.6 L876.8,1491.2 L874.2,1491.2 L874.2,1491.8 L871.6,1491.8 L871.6,1488.9 L869.0,1488.9 L869.0,1490.3 L866.4,1490.3 L866.4,1490.7 L863.8,1490.7 L863.8,1489.1 L861.2,1489.1 L861.2,1486.0 L858.6,1486.0 L858.6,1486.2 L856.0,1486.2 L856.0,1486.4 L853.4,1486.4 L853.4,1486.2 L850.8,1486.2 L850.8,1483.6 L848.2,1483.6 L848.2,1484.5 L845.6,1484.5 L845.6,1486.9 L843.0,1486.9 L843.0,1482.1 L840.4,1482.1 L840.4,1486.0 L837.8,1486.0 L837.8,1485.7 L835.2,1485.7 L835.2,1486.4 L832.6,1486.4 L832.6,1486.7 L830.0,1486.7 L830.0,1483.9 L827.4,1483.9 L827.4,1480.8 L824.8,1480.8 L824.8,1479.8 L822.2,1479.8 L822.2,1481.4 L819.6,1481.4 L819.6,1477.9 L817.0,1477.9 L817.0,1478.1 L814.4,1478.1 L814.4,1477.1 L811.8,1477.1 L811.8,1475.8 L809.2,1475.8 L809.2,1478.3 L806.6,1478.3 L806.6,1476.0 L804.0,1476.0 L804.0,1469.9 L801.4,1469.9 L801.4,1468.1 L798.8,1468.1 L798.8,1465.7 L796.2,1465.7 L796.2,1453.1 L793.6,1453.1 L793.6,1448.6 L791.0,1448.6 L791.0,1444.2 L788.4,1444.2 L788.4,1416.1 L785.8,1416.1 L785.8,1384.5 L783.2,1384.5 L783.2,1347.7 L780.6,1347.7 L780.6,1326.3 L778.0,1326.3 L778.0,1304.9 L775.4,1304.9 L775.4,1282.6 L772.8,1282.6 L772.8,1257.9 L770.2,1257.9 L770.2,1234.0 L767.6,1234.0 L767.6,1242.9 L765.0,1242.9 L765.0,1253.1 L762.4,1253.1 L762.4,1266.6 L759.8,1266.6 L759.8,1289.2 L757.2,1289.2 L757.2,1305.9 L754.6,1305.9 L754.6,1328.5 L752.0,1328.5 L752.0,1349.1 L749.4,1349.1 L749.4,1379.5 L746.8,1379.5 L746.8,1402.4 L744.2,1402.4 L744.2,1414.9 L741.6,1414.9 L741.6,1428.2 L739.0,1428.2 L739.0,1435.5 L736.4,1435.5 L736.4,1448.1 L733.8,1448.1 L733.8,1460.1 L731.2,1460.1 L731.2,1461.6 L728.6,1461.6 L728.6,1460.2 L726.0,1460.2 L726.0,1462.6 L723.4,1462.6 L723.4,1460.7 L720.8,1460.7 L720.8,1460.5 L718.2,1460.5 L718.2,1468.3 L715.6,1468.3 L715.6,1467.5 L713.0,1467.5 L713.0,1462.2 L710.4,1462.2 L710.4,1466.1 L707.8,1466.1 L707.8,1466.8 L705.2,1466.8 L705.2,1465.2 L702.6,1465.2 L702.6,1462.3 L700.0,1462.3 L700.0,1459.4 L697.4,1459.4 L697.4,1457.0 L694.8,1457.0 L694.8,1459.3 L692.2,1459.3 L692.2,1458.0 L689.6,1458.0 L689.6,1458.1 L687.0,1458.1 L687.0,1451.9 L684.4,1451.9 L684.4,1443.9 L681.8,1443.9 L681.8,1432.9 L679.2,1432.9 L679.2,1430.0 L676.6,1430.0 L676.6,1422.9 L674.0,1422.9 L674.0,1414.4 L671.4,1414.4 L671.4,1415.1 L668.8,1415.1 L668.8,1402.8 L666.2,1402.8 L666.2,1401.2 L663.6,1401.2 L663.6,1391.9 L661.0,1391.9 L661.0,1381.0 L658.4,1381.0 L658.4,1378.1 L655.8,1378.1 L655.8,1369.9 L653.2,1369.9 L653.2,1359.0 L650.6,1359.0 L650.6,1359.3 L648.0,1359.3 L648.0,1360.5 L645.4,1360.5 L645.4,1364.7 L642.8,1364.7 L642.8,1364.7 L640.2,1364.7 L640.2,1356.0 L637.6,1356.0 L637.6,1353.1 L635.0,1353.1 L635.0,1352.2 L632.4,1352.2 L632.4,1345.2 L629.8,1345.2 L629.8,1344.7 L627.2,1344.7 L627.2,1340.1 L624.6,1340.1 L624.6,1320.0 L622.0,1320.0 L622.0,1303.6 L619.4,1303.6 L619.4,1286.7 L616.8,1286.7 L616.8,1277.6 L614.2,1277.6 L614.2,1286.7 L611.6,1286.7 L611.6,1296.3 L609.0,1296.3 L609.0,1308.6 L606.4,1308.6 L606.4,1321.9 L603.8,1321.9 L603.8,1324.5 L601.2,1324.5 L601.2,1336.9 L598.6,1336.9 L598.6,1347.1 L596.0,1347.1 L596.0,1362.6 L593.4,1362.6 L593.4,1360.0 L590.8,1360.0 L590.8,1371.7 L588.2,1371.7 L588.2,1368.1 L585.6,1368.1 L585.6,1373.4 L583.0,1373.4 L583.0,1380.6 L580.4,1380.6 L580.4,1377.3 L577.8,1377.3 L577.8,1384.8 L575.2,1384.8 L575.2,1383.6 L572.6,1383.6 L572.6,1385.0 L570.0,1385.0 L570.0,1393.9 L567.4,1393.9 L567.4,1385.5 L564.8,1385.5 L564.8,1392.0 L562.2,1392.0 L562.2,1385.3 L559.6,1385.3 L559.6,1388.7 L557.0,1388.7 L557.0,1383.8 L554.4,1383.8 L554.4,1382.5 L551.8,1382.5 L551.8,1379.2 L549.2,1379.2 L549.2,1388.5 L546.6,1388.5 L546.6,1383.4 L544.0,1383.4 L544.0,1381.8 L541.4,1381.8 L541.4,1385.7 L538.8,1385.7 L538.8,1378.1 L536.2,1378.1 L536.2,1378.7 L533.6,1378.7 L533.6,1380.3 L531.0,1380.3 L531.0,1384.5 L528.4,1384.5 L528.4,1379.2 L525.8,1379.2 L525.8,1384.5 L523.2,1384.5 L523.2,1390.2 L520.6,1390.2 L520.6,1396.7 L518.0,1396.7 L518.0,1395.5 L515.4,1395.5 L515.4,1396.8 L512.8,1396.8 L512.8,1403.0 L510.2,1403.0 L510.2,1404.1 L507.6,1404.1 L507.6,1410.2 L505.0,1410.2 L505.0,1410.2 L502.4,1410.2 L502.4,1410.3 L499.8,1410.3 L499.8,1412.1 L497.2,1412.1 L497.2,1413.0 L494.6,1413.0 L494.6,1423.4 L492.0,1423.4 L492.0,1422.5 L489.4,1422.5 L489.4,1425.3 L486.8,1425.3 L486.8,1430.6 L484.2,1430.6 L484.2,1433.1 L481.6,1433.1 L481.6,1431.2 L479.0,1431.2 L479.0,1435.4 L476.4,1435.4 L476.4,1434.4 L473.8,1434.4 L473.8,1441.0 L471.2,1441.0 L471.2,1446.1 L468.6,1446.1 L468.6,1446.7 L466.0,1446.7 L466.0,1444.1 L463.4,1444.1 L463.4,1444.8 L460.8,1444.8 L460.8,1450.0 L458.2,1450.0 L458.2,1453.1 L455.6,1453.1 L455.6,1453.9 L453.0,1453.9 L453.0,1456.0 L450.4,1456.0 L450.4,1455.8 L447.8,1455.8 L447.8,1457.2 L445.2,1457.2 L445.2,1454.8 L442.6,1454.8 L442.6,1456.3 L440.0,1456.3 L440.0,1457.7 L437.4,1457.7 L437.4,1455.2 L434.8,1455.2 L434.8,1458.6 L432.2,1458.6 L432.2,1459.0 L429.6,1459.0 L429.6,1454.9 L427.0,1454.9 L427.0,1454.4 L424.4,1454.4 L424.4,1461.5 L421.8,1461.5 L421.8,1461.8 L419.2,1461.8 L419.2,1459.0 L416.6,1459.0 L416.6,1458.7 L414.0,1458.7 L414.0,1456.2 L411.4,1456.2 L411.4,1459.5 L408.8,1459.5 L408.8,1464.4 L406.2,1464.4 L406.2,1462.0 L403.6,1462.0 L403.6,1462.1 L401.0,1462.1 L401.0,1465.3 L398.4,1465.3 L398.4,1463.3 L395.8,1463.3 L395.8,1463.4 L393.2,1463.4 L393.2,1467.0 L390.6,1467.0 L390.6,1468.3 L388.0,1468.3 L388.0,1464.3 L385.4,1464.3 L385.4,1465.7 L382.8,1465.7 L382.8,1469.9 L380.2,1469.9 L380.2,1466.0 L377.6,1466.0 L377.6,1470.3 L375.0,1470.3 L375.0,1464.9 L372.4,1464.9 L372.4,1466.8 L369.8,1466.8 L369.8,1465.6 L367.2,1465.6 L367.2,1463.1 L364.6,1463.1 L364.6,1466.4 L362.0,1466.4 L362.0,1468.3 L359.4,1468.3 L359.4,1466.1 L356.8,1466.1 L356.8,1460.6 L354.2,1460.6 L354.2,1461.8 L351.6,1461.8 L351.6,1460.6 L349.0,1460.6 L349.0,1459.9 L346.4,1459.9 L346.4,1461.5 L343.8,1461.5 L343.8,1458.6 L341.2,1458.6 L341.2,1460.1 L338.6,1460.1 L338.6,1457.6 L336.0,1457.6 L336.0,1458.9 L333.4,1458.9 L333.4,1454.0 L330.8,1454.0 L330.8,1457.4 L328.2,1457.4 L328.2,1456.2 L325.6,1456.2 L325.6,1449.0 L323.0,1449.0 L323.0,1450.4 L320.4,1450.4 L320.4,1450.7 L317.8,1450.7 L317.8,1455.0 L315.2,1455.0 L315.2,1457.8 L312.6,1457.8 L312.6,1457.4 L310.0,1457.4 L310.0,1454.7 L307.4,1454.7 L307.4,1455.6 L304.8,1455.6 L304.8,1456.8 L302.2,1456.8 L302.2,1462.9 L299.6,1462.9 L299.6,1464.4 L297.0,1464.4 L297.0,1461.6 L294.4,1461.6 L294.4,1460.6 L291.8,1460.6 L291.8,1463.5 L289.2,1463.5 L289.2,1464.6 L286.6,1464.6 L286.6,1463.6 L284.0,1463.6 L284.0,1466.8 L281.4,1466.8 L281.4,1470.0 L278.8,1470.0 L278.8,1470.6 L276.2,1470.6 L276.2,1471.1 L273.6,1471.1 L273.6,1469.1 L271.0,1469.1 L271.0,1469.6 L268.4,1469.6 L268.4,1473.4 L265.8,1473.4 L265.8,1475.9 L263.2,1475.9 L263.2,1476.8 L260.6,1476.8 L260.6,1475.7 L258.0,1475.7 L258.0,1476.9 L255.4,1476.9 L255.4,1476.4 L252.8,1476.4 L252.8,1482.5 L250.2,1482.5 L250.2,1482.9 L247.6,1482.9 L247.6,1481.0 L245.0,1481.0 L245.0,1484.9 L242.4,1484.9 L242.4,1482.2 L239.8,1482.2 L239.8,1486.8 L237.2,1486.8 L237.2,1484.9 L234.6,1484.9 L234.6,1484.6 L232.0,1484.6 L232.0,1485.7 L229.4,1485.7 L229.4,1488.6 L226.8,1488.6 L226.8,1489.2 L224.2,1489.2 L224.2,1488.6 L221.6,1488.6 L221.6,1486.3 L219.0,1486.3 L219.0,1486.5 L216.4,1486.5 L216.4,1486.6 L213.8,1486.6 L213.8,1486.1 L211.2,1486.1 L211.2,1488.9 L208.6,1488.9 L208.6,1490.8 L206.0,1490.8 L206.0,1487.8 L203.4,1487.8 L203.4,1489.7 L200.8,1489.7 L200.8,1489.4 L198.2,1489.4 L198.2,1488.7 L195.6,1488.7 L195.6,1490.5 L193.0,1490.5 L193.0,1487.6 L190.4,1487.6 L190.4,1492.6 L187.8,1492.6 L187.8,1490.4 L185.2,1490.4 L185.2,1490.6 L182.6,1490.6 L182.6,1488.9 L180.0,1488.9 L180.0,1486.6 L177.4,1486.6 L177.4,1487.5 L174.8,1487.5 L174.8,1486.5 L172.2,1486.5 L172.2,1488.6 L169.6,1488.6 L169.6,1484.1 L167.0,1484.1 L167.0,1485.7 L164.4,1485.7 L164.4,1483.6 L161.8,1483.6 L161.8,1487.4 L159.2,1487.4 L159.2,1483.0 L156.6,1483.0 L156.6,1487.4 L154.0,1487.4 Z" fill="#000000" stroke="none"/>
<rect x="320.0" y="1406.0" width="4" height="32.0" fill="#000000"/>
<rect x="544.0" y="1318.0" width="4" height="45.0" fill="#000000"/>
<rect x="505.0" y="1381.0" width="4" height="45.0" fill="#000000"/>
<rect x="1026.0" y="1399.0" width="4" height="30.0" fill="#000000"/>
<rect x="533.8" y="1324.5" width="4" height="38.0" fill="#000000"/>
<path d="M1318.7,572.1 L1319.7,572.1 L1320.7,572.1 L1321.7,572.1 L1322.7,572.1 L1323.7,572.2 L1324.7,572.8 L1325.7,572.9 L1326.7,572.9 L1327.7,572.9 L1328.7,572.9 L1329.7,573.7 L1330.7,573.7 L1331.7,573.7 L1332.7,573.7 L1333.7,573.7 L1334.7,576.6 L1335.7,576.6 L1336.7,576.6 L1337.7,576.6 L1338.7,576.6 L1339.7,576.7 L1340.7,572.6 L1341.7,572.7 L1342.7,572.7 L1343.7,572.7 L1344.7,572.7 L1345.7,576.2 L1346.7,576.2 L1347.7,576.2 L1348.7,576.3 L1349.7,576.3 L1350.7,572.8 L1351.7,572.8 L1352.7,572.9 L1353.7,572.9 L1354.7,572.9 L1355.7,572.9 L1356.7,573.8 L1357.7,573.8 L1358.7,573.8 L1359.7,573.9 L1360.7,573.9 L1361.7,575.6 L1362.7,575.6 L1363.7,575.6 L1364.7,575.6 L1365.7,575.7 L1366.7,575.4 L1367.7,575.4 L1368.7,575.4 L1369.7,575.4 L1370.7,575.4 L1371.7,577.1 L1372.7,577.2 L1373.7,577.2 L1374.7,577.2 L1375.7,577.2 L1376.7,577.2 L1377.7,574.5 L1378.7,574.5 L1379.7,574.6 L1380.7,574.6 L1381.7,574.6 L1382.7,577.3 L1383.7,577.3 L1384.7,577.3 L1385.7,577.3 L1386.7,577.3 L1387.7,577.3 L1388.7,577.3 L1389.7,577.3 L1390.7,577.3 L1391.7,577.3 L1392.7,577.4 L1393.7,576.3 L1394.7,576.3 L1395.7,576.4 L1396.7,576.4 L1397.7,576.4 L1398.7,572.9 L1399.7,572.9 L1400.7,573.0 L1401.7,573.0 L1402.7,573.0 L1403.7,576.9 L1404.7,576.9 L1405.7,576.9 L1406.7,577.0 L1407.7,577.0 L1408.7,577.0 L1409.7,577.5 L1410.7,577.5 L1411.7,577.6 L1412.7,577.6 L1413.7,577.6 L1414.7,575.7 L1415.7,575.7 L1416.7,575.8 L1417.7,575.8 L1418.7,575.8 L1419.7,574.2 L1420.7,574.2 L1421.7,574.2 L1422.7,574.2 L1423.7,574.2 L1424.7,574.2 L1425.7,574.2 L1426.7,574.2 L1427.7,574.2 L1428.7,574.2 L1429.7,574.3 L1430.7,577.6 L1431.7,577.6 L1432.7,577.6 L1433.7,577.6 L1434.7,577.7 L1435.7,573.9 L1436.7,573.9 L1437.7,573.9 L1438.7,573.9 L1439.7,574.0 L1440.7,576.3 L1441.7,576.3 L1442.7,576.3 L1443.7,576.3 L1444.7,576.3 L1445.7,576.3 L1446.7,574.7 L1447.7,574.7 L1448.7,574.7 L1449.7,574.7 L1450.7,574.7 L1451.7,575.2 L1452.7,575.2 L1453.7,575.3 L1454.7,575.3 L1455.7,575.3 L1456.7,578.7 L1457.7,578.7 L1458.7,578.7 L1459.7,578.7 L1460.7,578.7 L1461.7,578.8 L1462.7,575.3 L1463.7,575.3 L1464.7,575.3 L1465.7,575.3 L1466.7,575.3 L1467.7,577.4 L1468.7,577.4 L1469.7,577.4 L1470.7,577.4 L1471.7,577.5 L1472.7,577.9 L1473.7,577.9 L1474.7,577.9 L1475.7,577.9 L1476.7,578.0 L1477.7,575.6 L1478.7,575.6 L1479.7,575.6 L1480.7,575.6 L1481.7,575.6 L1482.7,575.7 L1483.7,575.0 L1484.7,575.0 L1485.7,575.0 L1486.7,575.0 L1487.7,575.0 L1488.7,578.2 L1489.7,578.2 L1490.7,578.2 L1491.7,578.2 L1492.7,578.2 L1493.7,576.6 L1494.7,576.6 L1495.7,576.7 L1496.7,576.7 L1497.7,576.7 L1498.7,576.7 L1499.7,575.9 L1500.7,575.9 L1501.7,575.9 L1502.7,575.9 L1503.7,575.9 L1504.7,575.5 L1505.7,575.6 L1506.7,575.6 L1507.7,575.6 L1508.7,575.6 L1509.7,579.5 L1510.7,579.5 L1511.7,579.5 L1512.7,579.5 L1513.7,579.5 L1514.7,579.5 L1515.7,577.8 L1516.7,577.8 L1517.7,577.9 L1518.7,577.9 L1519.7,577.9 L1520.7,577.3 L1521.7,577.3 L1522.7,577.3 L1523.7,577.3 L1524.7,577.3 L1525.7,575.3 L1526.7,575.3 L1527.7,575.3 L1528.7,575.3 L1529.7,575.3 L1530.7,579.3 L1531.7,579.3 L1532.7,579.3 L1533.7,579.3 L1534.7,579.3 L1535.7,579.3 L1536.7,576.5 L1537.7,576.5 L1538.7,576.5 L1539.7,576.5 L1540.7,576.5 L1541.7,578.8 L1542.7,578.8 L1543.7,578.8 L1544.7,578.8 L1545.7,578.8 L1546.7,579.4 L1547.7,579.4 L1548.7,579.4 L1549.7,579.4 L1550.7,579.4 L1551.7,579.4 L1552.7,575.9 L1553.7,575.9 L1554.7,575.9 L1555.7,575.9 L1556.7,575.9 L1557.7,579.7 L1558.7,579.7 L1559.7,579.7 L1560.7,579.7 L1561.7,579.7 L1562.7,579.3 L1563.7,579.3 L1564.7,579.3 L1565.7,579.3 L1566.7,579.3 L1567.7,579.3 L1568.7,577.6 L1569.7,577.6 L1570.7,577.6 L1571.7,577.6 L1572.7,577.6 L1573.7,578.3 L1574.7,578.3 L1575.7,578.3 L1576.7,578.3 L1577.7,578.3 L1578.7,576.0 L1579.7,576.0 L1580.7,575.9 L1581.7,575.9 L1582.7,575.9 L1583.7,578.1 L1584.7,578.0 L1585.7,578.0 L1586.7,577.9 L1587.7,577.9 L1588.7,577.8 L1589.7,576.3 L1590.7,576.2 L1591.7,576.1 L1592.7,576.0 L1593.7,575.9 L1594.7,575.3 L1595.7,575.2 L1596.7,575.0 L1597.7,574.9 L1598.7,574.7 L1599.7,576.4 L1600.7,576.3 L1601.7,576.1 L1602.7,575.8 L1603.7,575.6 L1604.7,575.4 L1605.7,573.5 L1606.7,573.2 L1607.7,572.8 L1608.7,572.4 L1609.7,572.0 L1610.7,573.1 L1611.7,572.5 L1612.7,571.9 L1613.7,571.1 L1614.7,570.3 L1615.7,570.1 L1616.7,568.9 L1617.7,567.6 L1618.7,566.0 L1619.7,564.1 L1620.7,561.8 L1621.7,556.2 L1622.7,552.8 L1623.7,548.5 L1624.7,543.2 L1625.7,536.4 L1626.7,527.3 L1627.7,515.8 L1628.7,500.2 L1629.7,478.4 L1630.7,445.2 L1631.7,388.6 L1632.7,296.3 L1633.3,263.5 L1633.7,276.9 L1634.7,365.5 L1635.7,425.2 L1636.7,453.9 L1637.7,465.8 L1638.4,473.8 L1638.7,478.7 L1639.7,500.9 L1640.7,520.2 L1641.7,533.3 L1642.7,543.7 L1643.7,550.1 L1644.7,554.8 L1645.7,558.4 L1646.7,561.3 L1647.7,562.1 L1648.7,564.0 L1649.7,565.6 L1650.7,566.9 L1651.7,568.0 L1652.7,570.3 L1653.7,571.1 L1654.7,571.8 L1655.7,572.4 L1656.7,572.9 L1657.7,573.4 L1658.7,575.3 L1659.7,575.7 L1660.7,576.0 L1661.7,576.3 L1662.7,576.6 L1663.7,573.0 L1664.7,573.2 L1665.7,573.4 L1666.7,573.6 L1667.7,573.7 L1668.7,576.5 L1669.7,576.6 L1670.7,576.7 L1671.7,576.8 L1672.7,576.9 L1673.7,576.9 L1674.7,575.6 L1675.7,575.6 L1676.7,575.7 L1677.7,575.7 L1678.7,575.7 L1679.7,575.4 L1680.7,575.4 L1681.7,575.4 L1682.7,575.4 L1683.7,575.3 L1684.7,576.2 L1685.7,576.1 L1686.7,576.0 L1687.7,575.9 L1688.7,575.8 L1689.7,573.2 L1690.7,573.0 L1691.7,572.8 L1692.7,572.5 L1693.7,572.2 L1694.7,571.8 L1695.7,572.3 L1696.7,571.7 L1697.7,571.0 L1698.7,570.1 L1699.7,569.0 L1700.7,567.4 L1701.7,565.6 L1702.7,563.4 L1703.7,560.4 L1704.7,556.5 L1705.7,552.8 L1706.7,545.0 L1707.7,532.5 L1708.7,510.1 L1709.7,485.6 L1709.8,485.0 L1710.7,501.1 L1711.7,523.4 L1712.7,536.1 L1713.7,541.7 L1714.7,544.7 L1715.7,550.1 L1716.7,555.8 L1717.7,560.7 L1718.7,563.9 L1719.7,566.1 L1720.7,567.8 L1721.7,569.0 L1722.7,570.0 L1723.7,570.8 L1724.7,571.4 L1725.7,571.9 L1726.7,572.4 L1727.7,576.4 L1728.7,576.7 L1729.7,577.0 L1730.7,577.2 L1731.7,577.5 L1732.7,577.2 L1733.7,577.3 L1734.7,577.5 L1735.7,577.6 L1736.7,577.7 L1737.7,578.7 L1738.7,578.8 L1739.7,578.8 L1740.7,578.9 L1741.7,579.0 L1742.7,578.2 L1743.7,578.3 L1744.7,578.3 L1745.7,578.4 L1746.7,578.4 L1747.7,578.4 L1748.7,575.4 L1749.7,575.4 L1750.7,575.4 L1751.7,575.5 L1752.7,575.5 L1753.7,578.8 L1754.7,578.8 L1755.7,578.8 L1756.7,578.8 L1757.7,578.9 L1758.7,578.1 L1759.7,578.1 L1760.7,578.2 L1761.7,578.2 L1762.7,578.2 L1763.7,578.2 L1764.7,580.3 L1765.7,580.3 L1766.7,580.3 L1767.7,580.3 L1768.7,580.4 L1769.7,576.7 L1770.7,576.7 L1771.7,576.7 L1772.7,576.7 L1773.7,576.8 L1774.7,576.0 L1775.7,576.0 L1776.7,576.0 L1777.7,576.0 L1778.7,576.0 L1779.7,576.0 L1780.7,579.8 L1781.7,579.8 L1782.7,579.8 L1783.7,579.9 L1784.7,579.9 L1785.7,577.8 L1786.7,577.8 L1787.7,577.8 L1788.7,577.8 L1789.7,577.8 L1790.7,578.1 L1791.7,578.1 L1792.7,578.1 L1793.7,578.1 L1794.7,578.1 L1795.7,579.3 L1796.7,579.3 L1797.7,579.3 L1798.7,579.3 L1799.7,579.3 L1800.7,579.3 L1801.7,576.7 L1802.7,576.7 L1803.7,576.7 L1804.7,576.7 L1805.7,576.7 L1806.7,578.0 L1807.7,578.0 L1808.7,578.0 L1809.7,578.0 L1810.7,578.0 L1811.7,579.8 L1812.7,579.8 L1813.7,579.8 L1814.7,579.8 L1815.7,579.8 L1816.7,579.8 L1817.7,578.8 L1818.7,578.8 L1819.7,578.8 L1820.7,578.8 L1821.7,578.8 L1822.7,580.3 L1823.7,580.3 L1824.7,580.3 L1825.7,580.3 L1826.7,580.3 L1827.7,580.1 L1828.7,580.1 L1829.7,580.1 L1830.7,580.1 L1831.7,580.1 L1832.7,580.1 L1833.7,577.1 L1834.7,577.1 L1835.7,577.1 L1836.7,577.1 L1837.7,577.1 L1838.7,579.7 L1839.7,579.7 L1840.7,579.7 L1841.7,579.7 L1842.7,579.7 L1843.7,578.9 L1844.7,578.9 L1845.7,578.9 L1846.7,578.9 L1847.7,578.9 L1848.7,576.3 L1849.7,576.3 L1850.7,576.3 L1851.7,576.3 L1852.7,576.3 L1853.7,576.3 L1854.7,577.0 L1855.7,577.0 L1856.7,576.9 L1857.7,576.9 L1858.7,576.9 L1859.7,579.4 L1860.7,579.3 L1861.7,579.3 L1862.7,579.3 L1863.7,579.3 L1864.7,579.7 L1865.7,579.7 L1866.7,579.7 L1867.7,579.7 L1868.7,579.6 L1869.7,579.6 L1870.7,576.1 L1871.7,576.1 L1872.7,576.0 L1873.7,576.0 L1874.7,576.0 L1875.7,578.7 L1876.7,578.6 L1877.7,578.5 L1878.7,578.5 L1879.7,578.4 L1880.7,576.4 L1881.7,576.3 L1882.7,576.2 L1883.7,576.1 L1884.7,576.0 L1885.7,575.9 L1886.7,575.0 L1887.7,574.8 L1888.7,574.6 L1889.7,574.3 L1890.7,574.0 L1891.7,573.2 L1892.7,572.7 L1893.7,572.2 L1894.7,571.5 L1895.7,570.7 L1896.7,569.7 L1897.7,568.4 L1898.7,566.7 L1899.7,564.5 L1900.7,561.6 L1901.7,559.3 L1902.7,553.1 L1903.7,542.6 L1904.7,525.1 L1905.4,516.9 L1905.7,518.4 L1906.7,535.2 L1907.7,545.8 L1908.7,551.7 L1909.7,554.1 L1910.7,556.4 L1911.7,560.6 L1912.7,566.9 L1913.7,569.5 L1914.7,571.3 L1915.7,572.5 L1916.7,573.4 L1917.7,575.2 L1918.7,575.7 L1919.7,576.1 L1920.7,576.5 L1921.7,576.7 L1922.7,576.9 L1923.7,575.0 L1924.7,575.2 L1925.7,575.2 L1926.7,575.3 L1927.7,575.3 L1928.7,576.3 L1929.7,576.3 L1930.7,576.2 L1931.7,576.1 L1932.7,576.0 L1933.7,577.0 L1934.7,576.8 L1935.7,576.6 L1936.7,576.3 L1937.7,576.0 L1938.7,575.7 L1939.7,575.2 L1940.7,574.7 L1941.7,574.1 L1942.7,573.4 L1943.7,572.5 L1944.7,568.9 L1945.7,567.6 L1946.7,565.9 L1947.7,563.8 L1948.7,561.2 L1949.7,559.0 L1950.7,554.5 L1951.7,548.5 L1952.7,540.0 L1953.7,527.3 L1954.7,505.2 L1955.7,468.9 L1956.4,451.3 L1956.7,454.0 L1957.7,488.7 L1958.7,514.7 L1959.7,527.3 L1960.7,530.7 L1961.7,535.6 L1962.7,544.4 L1963.7,552.5 L1964.7,558.0 L1965.7,562.2 L1966.7,564.8 L1967.7,566.8 L1968.7,568.3 L1969.7,569.5 L1970.7,569.9 L1971.7,570.7 L1972.7,571.4 L1973.7,571.9 L1974.7,572.4 L1975.7,572.8 L1976.7,573.8 L1977.7,574.1 L1978.7,574.4 L1979.7,574.6 L1980.7,574.8 L1981.7,578.7 L1982.7,578.8 L1983.7,579.0 L1984.7,579.1 L1985.7,579.2 L1986.7,579.0 L1987.7,579.1 L1988.7,579.2 L1989.7,579.3 L1990.7,579.4 L1991.7,579.4 L1992.7,579.1 L1993.7,579.1 L1994.7,579.2 L1995.7,579.2 L1996.7,579.3 L1997.7,579.4 L1998.7,579.5 L1999.7,579.5 L2000.7,579.5 L2001.7,579.5 L2002.7,579.9 L2003.7,579.9 L2004.7,580.0 L2005.7,580.0 L2006.7,580.0 L2007.7,576.3 L2008.7,576.3 L2009.7,576.3 L2010.7,576.3 L2011.7,576.3 L2012.7,576.3 L2013.7,578.3 L2014.7,578.2 L2015.7,578.2 L2016.7,578.2 L2017.7,578.1 L2018.7,577.0 L2019.7,576.9 L2020.7,576.7 L2021.7,576.5 L2022.7,576.2 L2023.7,574.9 L2024.7,574.2 L2025.7,573.2 L2026.7,571.5 L2027.7,569.0 L2028.7,566.0 L2029.7,564.5 L2030.7,566.6 L2031.7,569.6 L2032.7,571.9 L2033.7,573.3 L2034.7,577.9 L2035.7,578.5 L2036.7,578.9 L2037.7,579.1 L2038.7,579.3 L2039.7,578.3 L2040.7,578.4 L2041.7,578.5 L2042.7,578.6 L2043.7,578.7 L2044.7,578.7 L2045.7,579.1 L2046.7,579.1 L2047.7,579.1 L2048.7,579.2 L2049.7,579.2 L2050.7,580.1 L2051.7,580.1 L2052.7,580.1 L2053.7,580.1 L2054.7,580.1 L2055.7,576.6 L2056.7,576.6 L2057.7,576.6 L2058.7,576.6 L2059.7,576.6 L2060.7,576.6 L2061.7,580.6 L2062.7,580.6 L2063.7,580.6 L2064.7,580.5 L2065.7,580.5 L2066.7,578.0 L2067.7,578.0 L2068.7,578.0 L2069.7,577.9 L2070.7,577.9 L2071.7,577.1 L2072.7,577.1 L2073.7,577.1 L2074.7,577.0 L2075.7,577.0 L2076.7,579.9 L2077.7,579.8 L2078.7,579.7 L2079.7,579.7 L2080.7,579.6 L2081.7,579.5 L2082.7,576.0 L2083.7,575.9 L2084.7,575.7 L2085.7,575.5 L2086.7,575.4 L2087.7,578.1 L2088.7,577.9 L2089.7,577.6 L2090.7,577.3 L2091.7,576.8 L2092.7,572.9 L2093.7,572.3 L2094.7,571.6 L2095.7,570.7 L2096.7,569.6 L2097.7,568.2 L2098.7,568.6 L2099.7,566.2 L2100.7,563.2 L2101.7,559.0 L2102.7,553.1 L2103.7,543.9 L2104.7,527.5 L2105.7,504.5 L2106.1,501.1 L2106.7,509.0 L2107.7,530.9 L2108.7,542.1 L2109.7,547.9 L2110.7,550.5 L2111.7,554.3 L2112.7,559.9 L2113.7,564.4 L2114.7,568.7 L2115.7,570.8 L2116.7,572.2 L2117.7,573.4 L2118.7,574.2 L2119.7,576.5 L2120.7,577.1 L2121.7,577.5 L2122.7,577.9 L2123.7,578.2 L2124.7,575.7 L2125.7,575.9 L2126.7,576.1 L2127.7,576.2 L2128.7,576.4 L2129.7,575.2 L2130.7,575.4 L2131.7,575.5 L2132.7,575.5 L2133.7,575.6 L2134.7,575.7 L2135.7,577.4 L2136.7,577.4 L2137.7,577.5 L2138.7,577.5 L2139.7,577.5 L2140.7,575.7 L2141.7,575.7 L2142.7,575.6 L2143.7,575.5 L2144.7,575.4 L2145.7,577.9 L2146.7,577.6 L2147.7,577.1 L2148.7,576.2 L2149.7,574.8 L2150.7,572.8 L2151.7,571.7 L2152.7,572.2 L2153.7,574.2 L2154.7,575.9 L2155.7,577.1 L2156.7,574.4 L2157.7,574.9 L2158.7,575.2 L2159.7,575.4 L2160.7,575.6 L2161.7,579.7 L2162.7,579.8 L2163.7,579.9 L2164.7,579.9 L2165.7,580.0 L2166.7,580.0 L2167.7,579.3 L2168.7,579.3 L2169.7,579.4 L2170.7,579.4 L2171.7,579.4 L2172.7,578.2 L2173.7,578.2 L2174.7,578.3 L2175.7,578.3 L2176.7,578.3 L2177.7,576.1 L2178.7,576.1 L2179.7,576.1 L2180.7,576.1 L2181.7,576.1 L2182.7,577.0 L2183.7,577.0 L2184.7,577.0 L2185.7,577.0 L2186.7,577.0 L2187.7,577.0 L2188.7,578.4 L2189.7,578.4 L2190.7,578.4 L2191.7,578.5 L2192.7,578.5 L2193.7,580.2 L2194.7,580.3 L2195.7,580.3 L2196.7,580.3 L2197.7,580.3 L2198.7,576.4 L2199.7,576.4 L2200.7,576.4 L2201.7,576.4 L2202.7,576.4 L2203.7,576.5 L2204.7,579.7 L2205.7,579.7 L2206.7,579.7 L2207.7,579.7 L2208.7,579.7 L2209.7,576.3 L2210.7,576.3 L2211.7,576.3 L2212.7,576.3 L2213.7,576.3 L2214.7,578.9 L2215.7,578.9 L2216.7,578.9 L2217.7,578.9 L2218.7,578.9 L2219.7,578.9 L2220.7,577.7 L2221.7,577.7 L2222.7,577.7 L2223.7,577.7 L2224.7,577.7 L2225.7,580.2 L2226.7,580.2 L2227.7,580.2 L2228.7,580.2 L2229.7,580.2 L2230.7,577.0 L2231.7,577.0 L2232.7,577.0 L2233.7,577.0 L2234.7,577.0 L2235.7,580.5 L2236.7,580.5 L2237.7,580.5 L2238.7,580.5 L2239.7,580.5 L2240.7,580.5 L2241.7,580.0 L2242.7,580.0 L2243.7,580.0 L2244.7,580.0 L2245.7,580.0 L2246.7,581.1 L2247.7,581.1 L2248.7,581.1 L2249.7,581.1 L2250.7,581.1 L2251.7,579.0 L2252.7,579.0 L2253.7,579.0 L2254.7,579.0 L2255.7,578.9 L2256.7,578.9 L2257.7,577.3 L2258.7,577.3 L2259.7,577.3 L2260.7,577.3 L2261.7,577.3 L2262.7,579.9 L2263.7,579.9 L2264.7,579.8 L2265.7,579.8 L2266.7,579.8 L2267.7,578.7 L2268.7,578.7 L2269.7,578.7 L2270.7,578.7 L2271.7,578.6 L2272.7,578.6 L2273.7,576.0 L2274.7,575.9 L2275.7,575.9 L2276.7,575.8 L2277.7,575.7 L2278.7,576.4 L2279.7,576.3 L2280.7,576.1 L2281.7,576.0 L2282.7,575.7 L2283.7,575.7 L2284.7,575.4 L2285.7,574.9 L2286.7,574.2 L2287.7,573.3 L2288.7,574.4 L2289.7,572.9 L2290.7,571.1 L2291.7,569.2 L2292.7,567.9 L2293.7,568.0 L2294.7,570.4 L2295.7,572.3 L2296.7,574.1 L2297.7,575.6 L2298.7,576.7 L2299.7,573.9 L2300.7,574.5 L2301.7,575.0 L2302.7,575.3 L2303.7,575.6 L2304.7,577.2 L2305.7,577.4 L2306.7,577.5 L2307.7,577.6 L2308.7,577.7 L2309.7,577.8 L2310.7,578.7 L2311.7,578.8 L2312.7,578.8 L2313.7,578.8 L2314.7,578.8 L2315.7,579.8 L2316.7,579.8 L2317.7,579.7 L2318.7,579.6 L2319.7,579.5 L2320.7,579.6 L2321.7,579.4 L2322.7,579.1 L2323.7,578.7 L2324.7,578.1 L2325.7,577.3 L2326.7,574.1 L2327.7,572.3 L2328.7,570.0 L2329.7,567.6 L2330.7,566.7 L2331.7,566.7 L2332.7,569.2 L2333.7,571.5 L2334.7,573.1 L2335.7,574.2 L2336.7,575.0 L2337.7,575.5 L2338.7,575.9" fill="none" stroke="#ff0000" stroke-width="6" stroke-linejoin="round"/>
<rect x="1630.3" y="263.5" width="6" height="267.8" fill="#ff0000"/>
<rect x="1706.8" y="485.0" width="6" height="79.5" fill="#ff0000"/>
<rect x="1902.4" y="516.9" width="6" height="52.5" fill="#ff0000"/>
<rect x="1953.4" y="451.3" width="6" height="108.4" fill="#ff0000"/>
<rect x="2103.1" y="501.1" width="6" height="66.1" fill="#ff0000"/>
<path d="M1318.7,1047.6 L1319.7,1047.6 L1320.7,1047.6 L1321.7,1047.6 L1322.7,1047.7 L1323.7,1047.7 L1324.7,1047.9 L1325.7,1047.9 L1326.7,1048.0 L1327.7,1048.0 L1328.7,1048.0 L1329.7,1044.8 L1330.7,1044.8 L1331.7,1044.8 L1332.7,1044.8 L1333.7,1044.9 L1334.7,1044.9 L1335.7,1045.0 L1336.7,1045.0 L1337.7,1045.0 L1338.7,1045.0 L1339.7,1045.0 L1340.7,1046.4 L1341.7,1046.4 L1342.7,1046.4 L1343.7,1046.5 L1344.7,1046.5 L1345.7,1047.8 L1346.7,1047.8 L1347.7,1047.8 L1348.7,1047.9 L1349.7,1047.9 L1350.7,1047.7 L1351.7,1047.7 L1352.7,1047.7 L1353.7,1047.7 L1354.7,1047.8 L1355.7,1047.8 L1356.7,1049.0 L1357.7,1049.0 L1358.7,1049.1 L1359.7,1049.1 L1360.7,1049.1 L1361.7,1044.7 L1362.7,1044.8 L1363.7,1044.8 L1364.7,1044.8 L1365.7,1044.8 L1366.7,1047.0 L1367.7,1047.0 L1368.7,1047.0 L1369.7,1047.0 L1370.7,1047.1 L1371.7,1046.3 L1372.7,1046.3 L1373.7,1046.4 L1374.7,1046.4 L1375.7,1046.4 L1376.7,1046.4 L1377.7,1047.8 L1378.7,1047.8 L1379.7,1047.8 L1380.7,1047.8 L1381.7,1047.9 L1382.7,1045.1 L1383.7,1045.1 L1384.7,1045.1 L1385.7,1045.2 L1386.7,1045.2 L1387.7,1046.7 L1388.7,1046.7 L1389.7,1046.7 L1390.7,1046.8 L1391.7,1046.8 L1392.7,1046.8 L1393.7,1045.5 L1394.7,1045.6 L1395.7,1045.6 L1396.7,1045.6 L1397.7,1045.6 L1398.7,1050.1 L1399.7,1050.1 L1400.7,1050.1 L1401.7,1050.2 L1402.7,1050.2 L1403.7,1048.3 L1404.7,1048.3 L1405.7,1048.3 L1406.7,1048.4 L1407.7,1048.4 L1408.7,1048.4 L1409.7,1048.0 L1410.7,1048.1 L1411.7,1048.1 L1412.7,1048.1 L1413.7,1048.1 L1414.7,1050.5 L1415.7,1050.5 L1416.7,1050.6 L1417.7,1050.6 L1418.7,1050.6 L1419.7,1047.6 L1420.7,1047.6 L1421.7,1047.6 L1422.7,1047.6 L1423.7,1047.7 L1424.7,1048.0 L1425.7,1048.0 L1426.7,1048.0 L1427.7,1048.1 L1428.7,1048.1 L1429.7,1048.1 L1430.7,1048.6 L1431.7,1048.6 L1432.7,1048.6 L1433.7,1048.6 L1434.7,1048.7 L1435.7,1046.4 L1436.7,1046.4 L1437.7,1046.4 L1438.7,1046.4 L1439.7,1046.4 L1440.7,1046.3 L1441.7,1046.3 L1442.7,1046.3 L1443.7,1046.4 L1444.7,1046.4 L1445.7,1046.4 L1446.7,1047.8 L1447.7,1047.9 L1448.7,1047.9 L1449.7,1047.9 L1450.7,1047.9 L1451.7,1049.4 L1452.7,1049.4 L1453.7,1049.4 L1454.7,1049.4 L1455.7,1049.4 L1456.7,1049.4 L1457.7,1049.5 L1458.7,1049.5 L1459.7,1049.5 L1460.7,1049.5 L1461.7,1049.6 L1462.7,1047.5 L1463.7,1047.6 L1464.7,1047.6 L1465.7,1047.6 L1466.7,1047.6 L1467.7,1048.3 L1468.7,1048.3 L1469.7,1048.4 L1470.7,1048.4 L1471.7,1048.4 L1472.7,1050.7 L1473.7,1050.7 L1474.7,1050.8 L1475.7,1050.8 L1476.7,1050.8 L1477.7,1048.6 L1478.7,1048.7 L1479.7,1048.7 L1480.7,1048.7 L1481.7,1048.7 L1482.7,1048.7 L1483.7,1049.4 L1484.7,1049.4 L1485.7,1049.5 L1486.7,1049.5 L1487.7,1049.5 L1488.7,1048.8 L1489.7,1048.8 L1490.7,1048.8 L1491.7,1048.9 L1492.7,1048.9 L1493.7,1051.5 L1494.7,1051.5 L1495.7,1051.5 L1496.7,1051.5 L1497.7,1051.5 L1498.7,1051.5 L1499.7,1048.9 L1500.7,1048.9 L1501.7,1048.9 L1502.7,1048.9 L1503.7,1049.0 L1504.7,1050.4 L1505.7,1050.4 L1506.7,1050.4 L1507.7,1050.4 L1508.7,1050.4 L1509.7,1048.8 L1510.7,1048.8 L1511.7,1048.8 L1512.7,1048.9 L1513.7,1048.9 L1514.7,1048.9 L1515.7,1051.4 L1516.7,1051.4 L1517.7,1051.4 L1518.7,1051.4 L1519.7,1051.4 L1520.7,1050.6 L1521.7,1050.6 L1522.7,1050.6 L1523.7,1050.6 L1524.7,1050.6 L1525.7,1047.9 L1526.7,1047.9 L1527.7,1048.0 L1528.7,1048.0 L1529.7,1048.0 L1530.7,1051.3 L1531.7,1051.3 L1532.7,1051.4 L1533.7,1051.4 L1534.7,1051.4 L1535.7,1051.4 L1536.7,1052.0 L1537.7,1052.0 L1538.7,1052.0 L1539.7,1052.0 L1540.7,1052.0 L1541.7,1051.4 L1542.7,1051.4 L1543.7,1051.4 L1544.7,1051.5 L1545.7,1051.5 L1546.7,1048.6 L1547.7,1048.6 L1548.7,1048.6 L1549.7,1048.6 L1550.7,1048.6 L1551.7,1048.6 L1552.7,1050.2 L1553.7,1050.2 L1554.7,1050.2 L1555.7,1050.2 L1556.7,1050.2 L1557.7,1052.6 L1558.7,1052.6 L1559.7,1052.6 L1560.7,1052.6 L1561.7,1052.6 L1562.7,1051.9 L1563.7,1051.9 L1564.7,1051.9 L1565.7,1051.9 L1566.7,1051.8 L1567.7,1051.8 L1568.7,1051.7 L1569.7,1051.7 L1570.7,1051.7 L1571.7,1051.7 L1572.7,1051.7 L1573.7,1047.8 L1574.7,1047.7 L1575.7,1047.7 L1576.7,1047.7 L1577.7,1047.6 L1578.7,1048.1 L1579.7,1048.0 L1580.7,1048.0 L1581.7,1047.9 L1582.7,1047.9 L1583.7,1050.4 L1584.7,1050.4 L1585.7,1050.3 L1586.7,1050.3 L1587.7,1050.2 L1588.7,1050.1 L1589.7,1048.1 L1590.7,1048.1 L1591.7,1048.0 L1592.7,1047.8 L1593.7,1047.7 L1594.7,1047.1 L1595.7,1047.0 L1596.7,1046.8 L1597.7,1046.7 L1598.7,1046.5 L1599.7,1048.5 L1600.7,1048.3 L1601.7,1048.0 L1602.7,1047.8 L1603.7,1047.5 L1604.7,1047.2 L1605.7,1048.5 L1606.7,1048.1 L1607.7,1047.6 L1608.7,1047.1 L1609.7,1046.6 L1610.7,1042.6 L1611.7,1041.9 L1612.7,1041.1 L1613.7,1040.1 L1614.7,1039.0 L1615.7,1040.7 L1616.7,1039.3 L1617.7,1037.6 L1618.7,1035.5 L1619.7,1033.1 L1620.7,1030.2 L1621.7,1025.9 L1622.7,1021.6 L1623.7,1016.1 L1624.7,1009.3 L1625.7,1000.6 L1626.7,989.1 L1627.7,974.3 L1628.7,954.3 L1629.7,926.3 L1630.7,883.6 L1631.7,807.3 L1632.7,688.7 L1633.3,646.6 L1633.7,663.7 L1634.7,777.6 L1635.7,854.4 L1636.7,893.8 L1637.7,909.0 L1638.4,919.3 L1638.7,925.7 L1639.7,954.2 L1640.7,979.0 L1641.7,995.8 L1642.7,1005.9 L1643.7,1014.1 L1644.7,1020.1 L1645.7,1024.8 L1646.7,1028.5 L1647.7,1030.9 L1648.7,1033.3 L1649.7,1035.3 L1650.7,1037.0 L1651.7,1038.5 L1652.7,1040.7 L1653.7,1041.7 L1654.7,1042.7 L1655.7,1043.5 L1656.7,1044.2 L1657.7,1044.8 L1658.7,1047.5 L1659.7,1048.0 L1660.7,1048.4 L1661.7,1048.8 L1662.7,1049.1 L1663.7,1047.1 L1664.7,1047.4 L1665.7,1047.6 L1666.7,1047.9 L1667.7,1048.1 L1668.7,1048.2 L1669.7,1048.4 L1670.7,1048.5 L1671.7,1048.6 L1672.7,1048.7 L1673.7,1048.8 L1674.7,1047.3 L1675.7,1047.4 L1676.7,1047.4 L1677.7,1047.5 L1678.7,1047.5 L1679.7,1046.9 L1680.7,1046.9 L1681.7,1046.9 L1682.7,1046.9 L1683.7,1046.8 L1684.7,1049.4 L1685.7,1049.3 L1686.7,1049.2 L1687.7,1049.1 L1688.7,1049.0 L1689.7,1047.6 L1690.7,1047.4 L1691.7,1047.1 L1692.7,1046.8 L1693.7,1046.4 L1694.7,1045.9 L1695.7,1045.4 L1696.7,1044.7 L1697.7,1043.8 L1698.7,1042.8 L1699.7,1041.5 L1700.7,1040.9 L1701.7,1038.9 L1702.7,1036.2 L1703.7,1032.6 L1704.7,1028.0 L1705.7,1021.3 L1706.7,1012.0 L1707.7,997.0 L1708.7,970.3 L1709.7,941.0 L1709.8,940.3 L1710.7,959.6 L1711.7,985.7 L1712.7,1000.9 L1713.7,1007.6 L1714.7,1011.1 L1715.7,1017.6 L1716.7,1029.9 L1717.7,1035.7 L1718.7,1039.6 L1719.7,1042.3 L1720.7,1044.2 L1721.7,1044.8 L1722.7,1046.0 L1723.7,1046.9 L1724.7,1047.7 L1725.7,1048.3 L1726.7,1048.8 L1727.7,1045.8 L1728.7,1046.1 L1729.7,1046.4 L1730.7,1046.7 L1731.7,1047.0 L1732.7,1048.8 L1733.7,1049.0 L1734.7,1049.1 L1735.7,1049.3 L1736.7,1049.4 L1737.7,1049.5 L1738.7,1049.5 L1739.7,1049.6 L1740.7,1049.7 L1741.7,1049.7 L1742.7,1051.7 L1743.7,1051.8 L1744.7,1051.8 L1745.7,1051.8 L1746.7,1051.8 L1747.7,1051.8 L1748.7,1051.8 L1749.7,1051.8 L1750.7,1051.7 L1751.7,1051.7 L1752.7,1051.6 L1753.7,1050.9 L1754.7,1050.8 L1755.7,1050.7 L1756.7,1050.6 L1757.7,1050.5 L1758.7,1049.3 L1759.7,1049.1 L1760.7,1048.9 L1761.7,1048.6 L1762.7,1048.3 L1763.7,1048.0 L1764.7,1049.9 L1765.7,1049.5 L1766.7,1049.0 L1767.7,1048.5 L1768.7,1047.9 L1769.7,1045.9 L1770.7,1045.2 L1771.7,1044.4 L1772.7,1043.7 L1773.7,1042.9 L1774.7,1040.1 L1775.7,1039.6 L1776.7,1039.2 L1777.7,1039.1 L1778.7,1039.1 L1779.7,1039.5 L1780.7,1042.6 L1781.7,1043.2 L1782.7,1044.0 L1783.7,1044.7 L1784.7,1045.5 L1785.7,1046.9 L1786.7,1047.6 L1787.7,1048.3 L1788.7,1048.9 L1789.7,1049.4 L1790.7,1048.6 L1791.7,1049.0 L1792.7,1049.4 L1793.7,1049.7 L1794.7,1050.0 L1795.7,1049.4 L1796.7,1049.7 L1797.7,1049.9 L1798.7,1050.1 L1799.7,1050.2 L1800.7,1050.4 L1801.7,1051.7 L1802.7,1051.8 L1803.7,1051.9 L1804.7,1052.0 L1805.7,1052.1 L1806.7,1051.5 L1807.7,1051.6 L1808.7,1051.7 L1809.7,1051.8 L1810.7,1051.8 L1811.7,1051.0 L1812.7,1051.0 L1813.7,1051.1 L1814.7,1051.1 L1815.7,1051.1 L1816.7,1051.2 L1817.7,1053.2 L1818.7,1053.2 L1819.7,1053.3 L1820.7,1053.3 L1821.7,1053.3 L1822.7,1053.5 L1823.7,1053.5 L1824.7,1053.6 L1825.7,1053.6 L1826.7,1053.6 L1827.7,1053.0 L1828.7,1053.0 L1829.7,1053.0 L1830.7,1053.0 L1831.7,1053.0 L1832.7,1053.0 L1833.7,1053.5 L1834.7,1053.5 L1835.7,1053.5 L1836.7,1053.5 L1837.7,1053.5 L1838.7,1052.4 L1839.7,1052.4 L1840.7,1052.3 L1841.7,1052.3 L1842.7,1052.3 L1843.7,1054.6 L1844.7,1054.6 L1845.7,1054.6 L1846.7,1054.5 L1847.7,1054.5 L1848.7,1053.5 L1849.7,1053.5 L1850.7,1053.5 L1851.7,1053.5 L1852.7,1053.4 L1853.7,1053.4 L1854.7,1053.1 L1855.7,1053.1 L1856.7,1053.0 L1857.7,1053.0 L1858.7,1052.9 L1859.7,1052.0 L1860.7,1051.9 L1861.7,1051.9 L1862.7,1051.8 L1863.7,1051.8 L1864.7,1053.0 L1865.7,1052.9 L1866.7,1052.9 L1867.7,1052.8 L1868.7,1052.7 L1869.7,1052.6 L1870.7,1053.3 L1871.7,1053.2 L1872.7,1053.1 L1873.7,1053.0 L1874.7,1052.9 L1875.7,1048.7 L1876.7,1048.6 L1877.7,1048.5 L1878.7,1048.3 L1879.7,1048.2 L1880.7,1052.0 L1881.7,1051.9 L1882.7,1051.7 L1883.7,1051.5 L1884.7,1051.4 L1885.7,1051.2 L1886.7,1047.8 L1887.7,1047.6 L1888.7,1047.4 L1889.7,1047.2 L1890.7,1047.0 L1891.7,1046.3 L1892.7,1046.1 L1893.7,1045.9 L1894.7,1045.6 L1895.7,1045.3 L1896.7,1048.3 L1897.7,1048.0 L1898.7,1047.8 L1899.7,1047.5 L1900.7,1047.2 L1901.7,1043.4 L1902.7,1043.1 L1903.7,1042.9 L1904.7,1042.6 L1905.7,1042.4 L1906.7,1042.1 L1907.7,1042.8 L1908.7,1042.6 L1909.7,1042.4 L1910.7,1042.3 L1911.7,1042.2 L1912.7,1040.8 L1913.7,1040.7 L1914.7,1040.7 L1915.7,1040.7 L1916.7,1040.7 L1917.7,1044.3 L1918.7,1044.4 L1919.7,1044.5 L1920.7,1044.6 L1921.7,1044.7 L1922.7,1044.8 L1923.7,1042.2 L1924.7,1042.4 L1925.7,1042.5 L1926.7,1042.6 L1927.7,1042.8 L1928.7,1046.6 L1929.7,1046.6 L1930.7,1046.7 L1931.7,1046.7 L1932.7,1046.7 L1933.7,1044.3 L1934.7,1044.2 L1935.7,1044.1 L1936.7,1043.9 L1937.7,1043.6 L1938.7,1043.3 L1939.7,1044.5 L1940.7,1043.9 L1941.7,1043.2 L1942.7,1042.3 L1943.7,1041.2 L1944.7,1036.0 L1945.7,1034.3 L1946.7,1032.1 L1947.7,1029.2 L1948.7,1025.6 L1949.7,1021.3 L1950.7,1014.9 L1951.7,1006.4 L1952.7,994.5 L1953.7,976.5 L1954.7,946.1 L1955.7,894.4 L1956.4,869.4 L1956.7,873.3 L1957.7,922.7 L1958.7,959.9 L1959.7,977.8 L1960.7,984.7 L1961.7,991.6 L1962.7,1004.2 L1963.7,1015.8 L1964.7,1023.7 L1965.7,1033.0 L1966.7,1036.8 L1967.7,1039.7 L1968.7,1041.9 L1969.7,1043.7 L1970.7,1042.0 L1971.7,1043.1 L1972.7,1044.1 L1973.7,1044.9 L1974.7,1045.6 L1975.7,1046.3 L1976.7,1046.1 L1977.7,1046.6 L1978.7,1047.0 L1979.7,1047.3 L1980.7,1047.6 L1981.7,1048.7 L1982.7,1048.9 L1983.7,1049.2 L1984.7,1049.4 L1985.7,1049.6 L1986.7,1050.5 L1987.7,1050.6 L1988.7,1050.8 L1989.7,1050.9 L1990.7,1051.0 L1991.7,1051.1 L1992.7,1052.5 L1993.7,1052.6 L1994.7,1052.7 L1995.7,1052.8 L1996.7,1052.9 L1997.7,1050.9 L1998.7,1051.0 L1999.7,1051.0 L2000.7,1051.1 L2001.7,1051.2 L2002.7,1051.6 L2003.7,1051.7 L2004.7,1051.7 L2005.7,1051.8 L2006.7,1051.8 L2007.7,1051.4 L2008.7,1051.5 L2009.7,1051.5 L2010.7,1051.6 L2011.7,1051.6 L2012.7,1051.6 L2013.7,1052.2 L2014.7,1052.2 L2015.7,1052.2 L2016.7,1052.2 L2017.7,1052.3 L2018.7,1052.2 L2019.7,1052.2 L2020.7,1052.3 L2021.7,1052.3 L2022.7,1052.3 L2023.7,1053.3 L2024.7,1053.3 L2025.7,1053.3 L2026.7,1053.3 L2027.7,1053.3 L2028.7,1053.4 L2029.7,1054.1 L2030.7,1054.1 L2031.7,1054.1 L2032.7,1054.1 L2033.7,1054.1 L2034.7,1051.4 L2035.7,1051.4 L2036.7,1051.4 L2037.7,1051.4 L2038.7,1051.4 L2039.7,1052.3 L2040.7,1052.3 L2041.7,1052.3 L2042.7,1052.3 L2043.7,1052.3 L2044.7,1052.3 L2045.7,1051.6 L2046.7,1051.6 L2047.7,1051.6 L2048.7,1051.6 L2049.7,1051.6 L2050.7,1053.6 L2051.7,1053.6 L2052.7,1053.6 L2053.7,1053.6 L2054.7,1053.6 L2055.7,1054.1 L2056.7,1054.1 L2057.7,1054.1 L2058.7,1054.1 L2059.7,1054.0 L2060.7,1054.0 L2061.7,1054.5 L2062.7,1054.4 L2063.7,1054.4 L2064.7,1054.4 L2065.7,1054.4 L2066.7,1053.2 L2067.7,1053.2 L2068.7,1053.1 L2069.7,1053.1 L2070.7,1053.0 L2071.7,1051.8 L2072.7,1051.8 L2073.7,1051.7 L2074.7,1051.6 L2075.7,1051.5 L2076.7,1053.5 L2077.7,1053.4 L2078.7,1053.3 L2079.7,1053.1 L2080.7,1053.0 L2081.7,1052.8 L2082.7,1053.9 L2083.7,1053.7 L2084.7,1053.4 L2085.7,1053.1 L2086.7,1052.8 L2087.7,1050.5 L2088.7,1050.1 L2089.7,1049.6 L2090.7,1048.9 L2091.7,1048.2 L2092.7,1049.3 L2093.7,1048.3 L2094.7,1047.0 L2095.7,1045.4 L2096.7,1043.5 L2097.7,1041.0 L2098.7,1036.6 L2099.7,1032.5 L2100.7,1027.1 L2101.7,1019.7 L2102.7,1009.2 L2103.7,992.7 L2104.7,963.8 L2105.7,923.2 L2106.1,917.1 L2106.7,931.1 L2107.7,969.8 L2108.7,992.9 L2109.7,1003.2 L2110.7,1007.7 L2111.7,1014.5 L2112.7,1024.5 L2113.7,1032.3 L2114.7,1037.4 L2115.7,1041.0 L2116.7,1043.6 L2117.7,1045.6 L2118.7,1047.1 L2119.7,1048.5 L2120.7,1049.5 L2121.7,1050.3 L2122.7,1050.9 L2123.7,1051.5 L2124.7,1049.4 L2125.7,1049.8 L2126.7,1050.2 L2127.7,1050.5 L2128.7,1050.7 L2129.7,1050.4 L2130.7,1050.5 L2131.7,1050.7 L2132.7,1050.8 L2133.7,1050.9 L2134.7,1051.0 L2135.7,1050.7 L2136.7,1050.7 L2137.7,1050.7 L2138.7,1050.7 L2139.7,1050.6 L2140.7,1053.6 L2141.7,1053.4 L2142.7,1053.2 L2143.7,1052.8 L2144.7,1052.2 L2145.7,1049.1 L2146.7,1047.9 L2147.7,1046.0 L2148.7,1042.9 L2149.7,1037.9 L2150.7,1031.1 L2151.7,1027.0 L2152.7,1028.7 L2153.7,1035.5 L2154.7,1041.8 L2155.7,1045.9 L2156.7,1048.7 L2157.7,1050.4 L2158.7,1051.5 L2159.7,1052.3 L2160.7,1052.9 L2161.7,1053.9 L2162.7,1054.3 L2163.7,1054.5 L2164.7,1054.7 L2165.7,1054.9 L2166.7,1055.0 L2167.7,1052.6 L2168.7,1052.7 L2169.7,1052.8 L2170.7,1052.9 L2171.7,1052.9 L2172.7,1056.3 L2173.7,1056.4 L2174.7,1056.4 L2175.7,1056.5 L2176.7,1056.5 L2177.7,1055.8 L2178.7,1055.8 L2179.7,1055.9 L2180.7,1055.9 L2181.7,1055.9 L2182.7,1053.9 L2183.7,1053.9 L2184.7,1053.9 L2185.7,1054.0 L2186.7,1054.0 L2187.7,1054.0 L2188.7,1054.9 L2189.7,1055.0 L2190.7,1055.0 L2191.7,1055.0 L2192.7,1055.0 L2193.7,1055.7 L2194.7,1055.7 L2195.7,1055.7 L2196.7,1055.7 L2197.7,1055.7 L2198.7,1056.5 L2199.7,1056.5 L2200.7,1056.5 L2201.7,1056.5 L2202.7,1056.5 L2203.7,1056.5 L2204.7,1054.6 L2205.7,1054.6 L2206.7,1054.6 L2207.7,1054.7 L2208.7,1054.7 L2209.7,1054.6 L2210.7,1054.6 L2211.7,1054.6 L2212.7,1054.6 L2213.7,1054.6 L2214.7,1054.3 L2215.7,1054.3 L2216.7,1054.3 L2217.7,1054.3 L2218.7,1054.3 L2219.7,1054.3 L2220.7,1055.5 L2221.7,1055.5 L2222.7,1055.5 L2223.7,1055.5 L2224.7,1055.5 L2225.7,1057.6 L2226.7,1057.6 L2227.7,1057.6 L2228.7,1057.6 L2229.7,1057.6 L2230.7,1053.6 L2231.7,1053.6 L2232.7,1053.6 L2233.7,1053.6 L2234.7,1053.6 L2235.7,1056.9 L2236.7,1056.9 L2237.7,1056.9 L2238.7,1056.9 L2239.7,1056.8 L2240.7,1056.8 L2241.7,1056.8 L2242.7,1056.8 L2243.7,1056.8 L2244.7,1056.8 L2245.7,1056.8 L2246.7,1055.4 L2247.7,1055.4 L2248.7,1055.4 L2249.7,1055.4 L2250.7,1055.4 L2251.7,1056.4 L2252.7,1056.3 L2253.7,1056.3 L2254.7,1056.3 L2255.7,1056.2 L2256.7,1056.2 L2257.7,1052.8 L2258.7,1052.7 L2259.7,1052.7 L2260.7,1052.6 L2261.7,1052.6 L2262.7,1052.2 L2263.7,1052.2 L2264.7,1052.1 L2265.7,1052.0 L2266.7,1051.9 L2267.7,1052.8 L2268.7,1052.7 L2269.7,1052.6 L2270.7,1052.5 L2271.7,1052.3 L2272.7,1052.2 L2273.7,1053.6 L2274.7,1053.3 L2275.7,1053.1 L2276.7,1052.8 L2277.7,1052.5 L2278.7,1052.6 L2279.7,1052.2 L2280.7,1051.7 L2281.7,1051.1 L2282.7,1050.5 L2283.7,1047.3 L2284.7,1046.4 L2285.7,1045.4 L2286.7,1044.2 L2287.7,1043.0 L2288.7,1043.6 L2289.7,1042.3 L2290.7,1041.2 L2291.7,1040.3 L2292.7,1039.9 L2293.7,1039.9 L2294.7,1040.9 L2295.7,1041.8 L2296.7,1043.0 L2297.7,1044.3 L2298.7,1045.5 L2299.7,1043.8 L2300.7,1044.9 L2301.7,1045.9 L2302.7,1046.8 L2303.7,1047.5 L2304.7,1050.9 L2305.7,1051.4 L2306.7,1051.9 L2307.7,1052.3 L2308.7,1052.6 L2309.7,1052.9 L2310.7,1050.7 L2311.7,1050.9 L2312.7,1051.1 L2313.7,1051.2 L2314.7,1051.3 L2315.7,1051.3 L2316.7,1051.4 L2317.7,1051.4 L2318.7,1051.4 L2319.7,1051.3 L2320.7,1054.4 L2321.7,1054.2 L2322.7,1053.8 L2323.7,1053.3 L2324.7,1052.6 L2325.7,1051.5 L2326.7,1050.6 L2327.7,1048.2 L2328.7,1044.8 L2329.7,1041.5 L2330.7,1040.3 L2331.7,1039.0 L2332.7,1042.6 L2333.7,1045.8 L2334.7,1048.1 L2335.7,1049.6 L2336.7,1052.8 L2337.7,1053.6 L2338.7,1054.1" fill="none" stroke="#0000ff" stroke-width="6" stroke-linejoin="round"/>
<rect x="1630.3" y="646.6" width="6" height="344.8" fill="#0000ff"/>
<rect x="1706.8" y="940.3" width="6" height="95.7" fill="#0000ff"/>
<rect x="1953.4" y="869.4" width="6" height="157.4" fill="#0000ff"/>
<rect x="2103.1" y="917.1" width="6" height="117.3" fill="#0000ff"/>
<path d="M1318.7,1516.6 L1319.7,1516.7 L1320.7,1516.7 L1321.7,1516.8 L1322.7,1516.8 L1323.7,1516.9 L1324.7,1516.0 L1325.7,1516.0 L1326.7,1516.1 L1327.7,1516.1 L1328.7,1516.2 L1329.7,1513.7 L1330.7,1513.8 L1331.7,1513.8 L1332.7,1513.9 L1333.7,1513.9 L1334.7,1516.2 L1335.7,1516.2 L1336.7,1516.3 L1337.7,1516.3 L1338.7,1516.4 L1339.7,1516.4 L1340.7,1515.8 L1341.7,1515.9 L1342.7,1515.9 L1343.7,1516.0 L1344.7,1516.0 L1345.7,1517.6 L1346.7,1517.6 L1347.7,1517.7 L1348.7,1517.7 L1349.7,1517.8 L1350.7,1514.8 L1351.7,1514.9 L1352.7,1514.9 L1353.7,1515.0 L1354.7,1515.0 L1355.7,1515.1 L1356.7,1516.4 L1357.7,1516.5 L1358.7,1516.5 L1359.7,1516.6 L1360.7,1516.6 L1361.7,1516.8 L1362.7,1516.8 L1363.7,1516.9 L1364.7,1516.9 L1365.7,1517.0 L1366.7,1518.8 L1367.7,1518.8 L1368.7,1518.9 L1369.7,1518.9 L1370.7,1519.0 L1371.7,1518.6 L1372.7,1518.6 L1373.7,1518.7 L1374.7,1518.7 L1375.7,1518.7 L1376.7,1518.8 L1377.7,1517.8 L1378.7,1517.8 L1379.7,1517.9 L1380.7,1517.9 L1381.7,1518.0 L1382.7,1516.5 L1383.7,1516.5 L1384.7,1516.6 L1385.7,1516.6 L1386.7,1516.6 L1387.7,1519.1 L1388.7,1519.1 L1389.7,1519.2 L1390.7,1519.2 L1391.7,1519.2 L1392.7,1519.3 L1393.7,1517.3 L1394.7,1517.4 L1395.7,1517.4 L1396.7,1517.5 L1397.7,1517.5 L1398.7,1518.0 L1399.7,1518.0 L1400.7,1518.1 L1401.7,1518.1 L1402.7,1518.2 L1403.7,1517.4 L1404.7,1517.5 L1405.7,1517.5 L1406.7,1517.5 L1407.7,1517.5 L1408.7,1517.5 L1409.7,1518.0 L1410.7,1518.0 L1411.7,1518.0 L1412.7,1518.0 L1413.7,1518.0 L1414.7,1518.9 L1415.7,1518.9 L1416.7,1518.9 L1417.7,1518.9 L1418.7,1518.9 L1419.7,1518.1 L1420.7,1518.1 L1421.7,1518.1 L1422.7,1518.1 L1423.7,1518.1 L1424.7,1518.1 L1425.7,1518.1 L1426.7,1518.1 L1427.7,1518.1 L1428.7,1518.1 L1429.7,1518.1 L1430.7,1519.7 L1431.7,1519.7 L1432.7,1519.7 L1433.7,1519.8 L1434.7,1519.8 L1435.7,1519.5 L1436.7,1519.5 L1437.7,1519.5 L1438.7,1519.5 L1439.7,1519.5 L1440.7,1517.6 L1441.7,1517.6 L1442.7,1517.7 L1443.7,1517.7 L1444.7,1517.7 L1445.7,1517.7 L1446.7,1520.0 L1447.7,1520.0 L1448.7,1520.0 L1449.7,1520.0 L1450.7,1520.0 L1451.7,1521.1 L1452.7,1521.1 L1453.7,1521.1 L1454.7,1521.2 L1455.7,1521.2 L1456.7,1520.1 L1457.7,1520.1 L1458.7,1520.1 L1459.7,1520.1 L1460.7,1520.1 L1461.7,1520.1 L1462.7,1520.5 L1463.7,1520.5 L1464.7,1520.5 L1465.7,1520.5 L1466.7,1520.5 L1467.7,1518.4 L1468.7,1518.5 L1469.7,1518.5 L1470.7,1518.5 L1471.7,1518.5 L1472.7,1519.4 L1473.7,1519.4 L1474.7,1519.4 L1475.7,1519.4 L1476.7,1519.4 L1477.7,1520.6 L1478.7,1520.7 L1479.7,1520.7 L1480.7,1520.7 L1481.7,1520.7 L1482.7,1520.7 L1483.7,1521.5 L1484.7,1521.5 L1485.7,1521.6 L1486.7,1521.6 L1487.7,1521.6 L1488.7,1521.0 L1489.7,1521.1 L1490.7,1521.1 L1491.7,1521.1 L1492.7,1521.1 L1493.7,1521.1 L1494.7,1521.1 L1495.7,1521.1 L1496.7,1521.1 L1497.7,1521.1 L1498.7,1521.1 L1499.7,1520.4 L1500.7,1520.4 L1501.7,1520.4 L1502.7,1520.4 L1503.7,1520.4 L1504.7,1519.8 L1505.7,1519.8 L1506.7,1519.8 L1507.7,1519.8 L1508.7,1519.8 L1509.7,1520.8 L1510.7,1520.8 L1511.7,1520.8 L1512.7,1520.8 L1513.7,1520.8 L1514.7,1520.8 L1515.7,1521.4 L1516.7,1521.4 L1517.7,1521.4 L1518.7,1521.4 L1519.7,1521.4 L1520.7,1521.4 L1521.7,1521.4 L1522.7,1521.4 L1523.7,1521.4 L1524.7,1521.4 L1525.7,1519.9 L1526.7,1519.9 L1527.7,1519.9 L1528.7,1519.9 L1529.7,1520.0 L1530.7,1518.8 L1531.7,1518.8 L1532.7,1518.8 L1533.7,1518.8 L1534.7,1518.8 L1535.7,1518.8 L1536.7,1518.0 L1537.7,1518.0 L1538.7,1518.0 L1539.7,1518.0 L1540.7,1518.0 L1541.7,1521.4 L1542.7,1521.4 L1543.7,1521.4 L1544.7,1521.4 L1545.7,1521.4 L1546.7,1521.8 L1547.7,1521.8 L1548.7,1521.8 L1549.7,1521.8 L1550.7,1521.8 L1551.7,1521.8 L1552.7,1519.3 L1553.7,1519.3 L1554.7,1519.3 L1555.7,1519.2 L1556.7,1519.2 L1557.7,1518.4 L1558.7,1518.4 L1559.7,1518.3 L1560.7,1518.3 L1561.7,1518.3 L1562.7,1520.5 L1563.7,1520.5 L1564.7,1520.4 L1565.7,1520.4 L1566.7,1520.4 L1567.7,1520.4 L1568.7,1518.2 L1569.7,1518.1 L1570.7,1518.1 L1571.7,1518.1 L1572.7,1518.0 L1573.7,1518.3 L1574.7,1518.3 L1575.7,1518.2 L1576.7,1518.2 L1577.7,1518.1 L1578.7,1517.5 L1579.7,1517.5 L1580.7,1517.4 L1581.7,1517.3 L1582.7,1517.3 L1583.7,1517.6 L1584.7,1517.5 L1585.7,1517.4 L1586.7,1517.3 L1587.7,1517.2 L1588.7,1517.1 L1589.7,1519.4 L1590.7,1519.3 L1591.7,1519.2 L1592.7,1519.1 L1593.7,1518.9 L1594.7,1517.5 L1595.7,1517.3 L1596.7,1517.1 L1597.7,1516.9 L1598.7,1516.7 L1599.7,1516.3 L1600.7,1516.0 L1601.7,1515.7 L1602.7,1515.4 L1603.7,1515.1 L1604.7,1514.7 L1605.7,1516.4 L1606.7,1515.9 L1607.7,1515.4 L1608.7,1514.9 L1609.7,1514.2 L1610.7,1512.2 L1611.7,1511.4 L1612.7,1510.5 L1613.7,1509.5 L1614.7,1508.3 L1615.7,1504.8 L1616.7,1503.2 L1617.7,1501.3 L1618.7,1499.1 L1619.7,1496.4 L1620.7,1493.3 L1621.7,1493.2 L1622.7,1488.5 L1623.7,1482.6 L1624.7,1475.1 L1625.7,1465.6 L1626.7,1452.3 L1627.7,1436.2 L1628.7,1414.4 L1629.7,1383.9 L1630.7,1337.5 L1631.7,1255.5 L1632.7,1126.5 L1633.3,1080.6 L1633.7,1099.3 L1634.7,1223.2 L1635.7,1306.7 L1636.7,1345.9 L1637.7,1362.5 L1638.4,1373.7 L1638.7,1380.6 L1639.7,1411.6 L1640.7,1438.6 L1641.7,1456.9 L1642.7,1469.5 L1643.7,1478.3 L1644.7,1484.9 L1645.7,1490.0 L1646.7,1494.0 L1647.7,1498.9 L1648.7,1501.5 L1649.7,1503.7 L1650.7,1505.5 L1651.7,1507.1 L1652.7,1508.5 L1653.7,1509.6 L1654.7,1510.6 L1655.7,1511.4 L1656.7,1512.2 L1657.7,1512.9 L1658.7,1514.3 L1659.7,1514.8 L1660.7,1515.3 L1661.7,1515.7 L1662.7,1516.0 L1663.7,1514.2 L1664.7,1514.5 L1665.7,1514.7 L1666.7,1515.0 L1667.7,1515.2 L1668.7,1517.3 L1669.7,1517.4 L1670.7,1517.6 L1671.7,1517.7 L1672.7,1517.8 L1673.7,1517.9 L1674.7,1518.7 L1675.7,1518.8 L1676.7,1518.8 L1677.7,1518.9 L1678.7,1518.9 L1679.7,1517.1 L1680.7,1517.1 L1681.7,1517.1 L1682.7,1517.1 L1683.7,1517.0 L1684.7,1517.9 L1685.7,1517.8 L1686.7,1517.7 L1687.7,1517.5 L1688.7,1517.4 L1689.7,1518.0 L1690.7,1517.7 L1691.7,1517.4 L1692.7,1517.1 L1693.7,1516.6 L1694.7,1516.1 L1695.7,1513.7 L1696.7,1512.9 L1697.7,1512.0 L1698.7,1510.8 L1699.7,1509.4 L1700.7,1506.6 L1701.7,1504.3 L1702.7,1501.3 L1703.7,1497.4 L1704.7,1492.2 L1705.7,1486.0 L1706.7,1475.7 L1707.7,1459.0 L1708.7,1429.4 L1709.7,1396.9 L1709.8,1396.1 L1710.7,1417.5 L1711.7,1448.9 L1712.7,1465.7 L1713.7,1473.1 L1714.7,1477.0 L1715.7,1484.2 L1716.7,1495.2 L1717.7,1501.6 L1718.7,1505.9 L1719.7,1508.9 L1720.7,1511.1 L1721.7,1513.2 L1722.7,1514.5 L1723.7,1515.5 L1724.7,1516.4 L1725.7,1517.1 L1726.7,1517.7 L1727.7,1517.6 L1728.7,1518.1 L1729.7,1518.4 L1730.7,1518.7 L1731.7,1519.0 L1732.7,1519.1 L1733.7,1519.3 L1734.7,1519.5 L1735.7,1519.7 L1736.7,1519.8 L1737.7,1519.1 L1738.7,1519.2 L1739.7,1519.3 L1740.7,1519.4 L1741.7,1519.5 L1742.7,1520.0 L1743.7,1520.1 L1744.7,1520.1 L1745.7,1520.2 L1746.7,1520.3 L1747.7,1520.3 L1748.7,1518.7 L1749.7,1518.8 L1750.7,1518.8 L1751.7,1518.9 L1752.7,1518.9 L1753.7,1518.8 L1754.7,1518.8 L1755.7,1518.9 L1756.7,1518.9 L1757.7,1518.9 L1758.7,1521.3 L1759.7,1521.3 L1760.7,1521.4 L1761.7,1521.4 L1762.7,1521.4 L1763.7,1521.4 L1764.7,1520.3 L1765.7,1520.3 L1766.7,1520.4 L1767.7,1520.4 L1768.7,1520.4 L1769.7,1521.2 L1770.7,1521.2 L1771.7,1521.2 L1772.7,1521.3 L1773.7,1521.3 L1774.7,1522.2 L1775.7,1522.2 L1776.7,1522.2 L1777.7,1522.2 L1778.7,1522.2 L1779.7,1522.2 L1780.7,1519.1 L1781.7,1519.1 L1782.7,1519.1 L1783.7,1519.1 L1784.7,1519.1 L1785.7,1521.4 L1786.7,1521.4 L1787.7,1521.4 L1788.7,1521.4 L1789.7,1521.4 L1790.7,1520.2 L1791.7,1520.2 L1792.7,1520.2 L1793.7,1520.2 L1794.7,1520.3 L1795.7,1518.9 L1796.7,1518.9 L1797.7,1518.9 L1798.7,1518.9 L1799.7,1518.9 L1800.7,1518.9 L1801.7,1521.1 L1802.7,1521.1 L1803.7,1521.1 L1804.7,1521.1 L1805.7,1521.1 L1806.7,1521.4 L1807.7,1521.4 L1808.7,1521.4 L1809.7,1521.4 L1810.7,1521.4 L1811.7,1521.6 L1812.7,1521.6 L1813.7,1521.6 L1814.7,1521.6 L1815.7,1521.6 L1816.7,1521.6 L1817.7,1520.0 L1818.7,1520.0 L1819.7,1520.0 L1820.7,1520.0 L1821.7,1520.0 L1822.7,1521.2 L1823.7,1521.2 L1824.7,1521.2 L1825.7,1521.2 L1826.7,1521.2 L1827.7,1520.5 L1828.7,1520.4 L1829.7,1520.5 L1830.7,1520.5 L1831.7,1520.5 L1832.7,1520.5 L1833.7,1521.5 L1834.7,1521.5 L1835.7,1521.5 L1836.7,1521.5 L1837.7,1521.5 L1838.7,1520.5 L1839.7,1520.5 L1840.7,1520.5 L1841.7,1520.5 L1842.7,1520.5 L1843.7,1519.3 L1844.7,1519.3 L1845.7,1519.3 L1846.7,1519.3 L1847.7,1519.3 L1848.7,1520.5 L1849.7,1520.5 L1850.7,1520.5 L1851.7,1520.5 L1852.7,1520.5 L1853.7,1520.5 L1854.7,1522.4 L1855.7,1522.4 L1856.7,1522.4 L1857.7,1522.4 L1858.7,1522.4 L1859.7,1519.1 L1860.7,1519.1 L1861.7,1519.1 L1862.7,1519.1 L1863.7,1519.0 L1864.7,1518.9 L1865.7,1518.8 L1866.7,1518.8 L1867.7,1518.8 L1868.7,1518.8 L1869.7,1518.8 L1870.7,1518.4 L1871.7,1518.4 L1872.7,1518.4 L1873.7,1518.4 L1874.7,1518.4 L1875.7,1519.2 L1876.7,1519.2 L1877.7,1519.2 L1878.7,1519.2 L1879.7,1519.1 L1880.7,1518.7 L1881.7,1518.7 L1882.7,1518.6 L1883.7,1518.6 L1884.7,1518.5 L1885.7,1518.5 L1886.7,1520.5 L1887.7,1520.4 L1888.7,1520.3 L1889.7,1520.3 L1890.7,1520.2 L1891.7,1518.2 L1892.7,1518.1 L1893.7,1518.0 L1894.7,1517.9 L1895.7,1517.8 L1896.7,1517.9 L1897.7,1517.8 L1898.7,1517.6 L1899.7,1517.5 L1900.7,1517.3 L1901.7,1516.8 L1902.7,1516.6 L1903.7,1516.3 L1904.7,1516.1 L1905.7,1515.9 L1906.7,1515.6 L1907.7,1517.0 L1908.7,1516.6 L1909.7,1516.3 L1910.7,1516.0 L1911.7,1515.6 L1912.7,1514.7 L1913.7,1514.3 L1914.7,1513.9 L1915.7,1513.5 L1916.7,1513.2 L1917.7,1512.9 L1918.7,1512.5 L1919.7,1512.3 L1920.7,1512.0 L1921.7,1511.9 L1922.7,1511.7 L1923.7,1512.8 L1924.7,1512.9 L1925.7,1512.9 L1926.7,1513.0 L1927.7,1513.1 L1928.7,1511.8 L1929.7,1512.0 L1930.7,1512.1 L1931.7,1512.2 L1932.7,1512.3 L1933.7,1512.5 L1934.7,1512.5 L1935.7,1512.4 L1936.7,1512.2 L1937.7,1512.0 L1938.7,1511.6 L1939.7,1513.1 L1940.7,1512.5 L1941.7,1511.7 L1942.7,1510.7 L1943.7,1509.5 L1944.7,1507.7 L1945.7,1505.8 L1946.7,1503.3 L1947.7,1500.1 L1948.7,1496.0 L1949.7,1488.2 L1950.7,1481.2 L1951.7,1471.7 L1952.7,1458.3 L1953.7,1438.3 L1954.7,1404.8 L1955.7,1347.2 L1956.4,1319.4 L1956.7,1323.7 L1957.7,1378.7 L1958.7,1420.1 L1959.7,1439.9 L1960.7,1448.9 L1961.7,1456.6 L1962.7,1470.5 L1963.7,1483.4 L1964.7,1492.2 L1965.7,1495.8 L1966.7,1500.0 L1967.7,1503.2 L1968.7,1505.6 L1969.7,1507.6 L1970.7,1510.0 L1971.7,1511.3 L1972.7,1512.4 L1973.7,1513.3 L1974.7,1514.0 L1975.7,1514.7 L1976.7,1514.4 L1977.7,1514.9 L1978.7,1515.3 L1979.7,1515.7 L1980.7,1516.0 L1981.7,1518.2 L1982.7,1518.5 L1983.7,1518.7 L1984.7,1519.0 L1985.7,1519.2 L1986.7,1519.3 L1987.7,1519.5 L1988.7,1519.6 L1989.7,1519.7 L1990.7,1519.9 L1991.7,1520.0 L1992.7,1518.9 L1993.7,1519.1 L1994.7,1519.2 L1995.7,1519.2 L1996.7,1519.3 L1997.7,1522.0 L1998.7,1522.0 L1999.7,1522.1 L2000.7,1522.2 L2001.7,1522.2 L2002.7,1522.4 L2003.7,1522.5 L2004.7,1522.5 L2005.7,1522.6 L2006.7,1522.6 L2007.7,1520.9 L2008.7,1521.0 L2009.7,1521.0 L2010.7,1521.0 L2011.7,1521.1 L2012.7,1521.1 L2013.7,1522.3 L2014.7,1522.3 L2015.7,1522.4 L2016.7,1522.4 L2017.7,1522.4 L2018.7,1523.4 L2019.7,1523.4 L2020.7,1523.5 L2021.7,1523.5 L2022.7,1523.5 L2023.7,1521.1 L2024.7,1521.2 L2025.7,1521.2 L2026.7,1521.2 L2027.7,1521.2 L2028.7,1521.2 L2029.7,1522.9 L2030.7,1522.9 L2031.7,1522.9 L2032.7,1522.9 L2033.7,1523.0 L2034.7,1520.3 L2035.7,1520.3 L2036.7,1520.3 L2037.7,1520.3 L2038.7,1520.3 L2039.7,1521.8 L2040.7,1521.8 L2041.7,1521.8 L2042.7,1521.8 L2043.7,1521.8 L2044.7,1521.8 L2045.7,1520.9 L2046.7,1520.9 L2047.7,1520.9 L2048.7,1520.9 L2049.7,1520.9 L2050.7,1523.3 L2051.7,1523.3 L2052.7,1523.3 L2053.7,1523.3 L2054.7,1523.3 L2055.7,1521.1 L2056.7,1521.1 L2057.7,1521.1 L2058.7,1521.1 L2059.7,1521.1 L2060.7,1521.1 L2061.7,1521.3 L2062.7,1521.3 L2063.7,1521.3 L2064.7,1521.3 L2065.7,1521.2 L2066.7,1523.3 L2067.7,1523.3 L2068.7,1523.2 L2069.7,1523.2 L2070.7,1523.1 L2071.7,1522.6 L2072.7,1522.6 L2073.7,1522.5 L2074.7,1522.4 L2075.7,1522.4 L2076.7,1522.8 L2077.7,1522.7 L2078.7,1522.6 L2079.7,1522.4 L2080.7,1522.3 L2081.7,1522.1 L2082.7,1519.7 L2083.7,1519.5 L2084.7,1519.3 L2085.7,1519.0 L2086.7,1518.7 L2087.7,1519.5 L2088.7,1519.1 L2089.7,1518.6 L2090.7,1518.0 L2091.7,1517.3 L2092.7,1514.5 L2093.7,1513.5 L2094.7,1512.2 L2095.7,1510.7 L2096.7,1508.7 L2097.7,1506.3 L2098.7,1506.6 L2099.7,1502.5 L2100.7,1497.2 L2101.7,1489.9 L2102.7,1479.6 L2103.7,1460.9 L2104.7,1432.4 L2105.7,1392.5 L2106.1,1386.4 L2106.7,1400.2 L2107.7,1438.4 L2108.7,1461.1 L2109.7,1471.2 L2110.7,1475.6 L2111.7,1482.4 L2112.7,1492.2 L2113.7,1499.9 L2114.7,1506.4 L2115.7,1509.9 L2116.7,1512.5 L2117.7,1514.4 L2118.7,1515.9 L2119.7,1513.9 L2120.7,1514.9 L2121.7,1515.7 L2122.7,1516.4 L2123.7,1516.9 L2124.7,1517.9 L2125.7,1518.3 L2126.7,1518.6 L2127.7,1518.9 L2128.7,1519.2 L2129.7,1521.0 L2130.7,1521.2 L2131.7,1521.4 L2132.7,1521.5 L2133.7,1521.6 L2134.7,1521.7 L2135.7,1523.1 L2136.7,1523.2 L2137.7,1523.2 L2138.7,1523.2 L2139.7,1523.2 L2140.7,1520.8 L2141.7,1520.7 L2142.7,1520.5 L2143.7,1520.2 L2144.7,1519.9 L2145.7,1518.3 L2146.7,1517.5 L2147.7,1516.1 L2148.7,1513.9 L2149.7,1510.4 L2150.7,1505.5 L2151.7,1503.0 L2152.7,1504.3 L2153.7,1509.2 L2154.7,1513.6 L2155.7,1516.6 L2156.7,1517.1 L2157.7,1518.3 L2158.7,1519.1 L2159.7,1519.6 L2160.7,1520.1 L2161.7,1521.8 L2162.7,1522.1 L2163.7,1522.3 L2164.7,1522.4 L2165.7,1522.5 L2166.7,1522.6 L2167.7,1521.5 L2168.7,1521.6 L2169.7,1521.6 L2170.7,1521.7 L2171.7,1521.7 L2172.7,1522.8 L2173.7,1522.8 L2174.7,1522.8 L2175.7,1522.8 L2176.7,1522.9 L2177.7,1523.4 L2178.7,1523.4 L2179.7,1523.4 L2180.7,1523.4 L2181.7,1523.4 L2182.7,1524.6 L2183.7,1524.6 L2184.7,1524.6 L2185.7,1524.6 L2186.7,1524.6 L2187.7,1524.6 L2188.7,1522.0 L2189.7,1522.0 L2190.7,1522.0 L2191.7,1522.0 L2192.7,1522.0 L2193.7,1522.2 L2194.7,1522.2 L2195.7,1522.2 L2196.7,1522.1 L2197.7,1522.1 L2198.7,1524.5 L2199.7,1524.5 L2200.7,1524.5 L2201.7,1524.5 L2202.7,1524.5 L2203.7,1524.5 L2204.7,1522.5 L2205.7,1522.5 L2206.7,1522.5 L2207.7,1522.5 L2208.7,1522.5 L2209.7,1522.7 L2210.7,1522.7 L2211.7,1522.7 L2212.7,1522.7 L2213.7,1522.7 L2214.7,1523.9 L2215.7,1523.9 L2216.7,1523.8 L2217.7,1523.8 L2218.7,1523.8 L2219.7,1523.8 L2220.7,1521.4 L2221.7,1521.4 L2222.7,1521.4 L2223.7,1521.4 L2224.7,1521.4 L2225.7,1521.7 L2226.7,1521.7 L2227.7,1521.7 L2228.7,1521.7 L2229.7,1521.7 L2230.7,1521.4 L2231.7,1521.4 L2232.7,1521.3 L2233.7,1521.3 L2234.7,1521.3 L2235.7,1522.9 L2236.7,1522.9 L2237.7,1522.9 L2238.7,1522.9 L2239.7,1522.9 L2240.7,1522.8 L2241.7,1524.8 L2242.7,1524.8 L2243.7,1524.8 L2244.7,1524.8 L2245.7,1524.8 L2246.7,1522.1 L2247.7,1522.1 L2248.7,1522.1 L2249.7,1522.1 L2250.7,1522.1 L2251.7,1522.5 L2252.7,1522.5 L2253.7,1522.4 L2254.7,1522.4 L2255.7,1522.4 L2256.7,1522.4 L2257.7,1520.9 L2258.7,1520.9 L2259.7,1520.9 L2260.7,1520.9 L2261.7,1520.9 L2262.7,1521.4 L2263.7,1521.4 L2264.7,1521.4 L2265.7,1521.4 L2266.7,1521.3 L2267.7,1523.5 L2268.7,1523.5 L2269.7,1523.5 L2270.7,1523.4 L2271.7,1523.4 L2272.7,1523.3 L2273.7,1521.7 L2274.7,1521.7 L2275.7,1521.6 L2276.7,1521.5 L2277.7,1521.4 L2278.7,1522.1 L2279.7,1522.0 L2280.7,1521.8 L2281.7,1521.6 L2282.7,1521.4 L2283.7,1521.1 L2284.7,1520.6 L2285.7,1520.1 L2286.7,1519.3 L2287.7,1518.2 L2288.7,1514.2 L2289.7,1511.8 L2290.7,1508.4 L2291.7,1504.1 L2292.7,1500.8 L2293.7,1501.0 L2294.7,1506.9 L2295.7,1511.1 L2296.7,1514.3 L2297.7,1516.6 L2298.7,1518.1 L2299.7,1518.7 L2300.7,1519.4 L2301.7,1520.0 L2302.7,1520.3 L2303.7,1520.6 L2304.7,1521.9 L2305.7,1522.1 L2306.7,1522.2 L2307.7,1522.3 L2308.7,1522.3 L2309.7,1522.4 L2310.7,1522.4 L2311.7,1522.4 L2312.7,1522.4 L2313.7,1522.4 L2314.7,1522.4 L2315.7,1520.4 L2316.7,1520.4 L2317.7,1520.3 L2318.7,1520.2 L2319.7,1520.0 L2320.7,1518.9 L2321.7,1518.7 L2322.7,1518.3 L2323.7,1517.8 L2324.7,1517.1 L2325.7,1516.1 L2326.7,1516.3 L2327.7,1514.1 L2328.7,1511.2 L2329.7,1508.1 L2330.7,1507.0 L2331.7,1509.3 L2332.7,1512.5 L2333.7,1515.2 L2334.7,1517.2 L2335.7,1518.6 L2336.7,1520.9 L2337.7,1521.5 L2338.7,1522.0" fill="none" stroke="#000000" stroke-width="6" stroke-linejoin="round"/>
<rect x="1630.3" y="1080.6" width="6" height="374.3" fill="#000000"/>
<rect x="1706.8" y="1396.1" width="6" height="106.2" fill="#000000"/>
<rect x="1953.4" y="1319.4" width="6" height="172.3" fill="#000000"/>
<rect x="2103.1" y="1386.4" width="6" height="116.5" fill="#000000"/>
<rect x="118" y="137.5" width="1057" height="5.5" fill="#f0f0f0"/>
<rect x="118" y="143" width="6" height="5" fill="#bbb"/>
<rect x="124" y="143" width="1050.5" height="5" fill="#878787"/>
<rect x="118" y="1527" width="1057" height="5" fill="#f0f0f0"/>
<rect x="118" y="1532" width="6" height="5" fill="#bbb"/>
<rect x="124" y="1532" width="1050.5" height="5" fill="#878787"/>
<rect x="151" y="143" width="5" height="1416" fill="#000"/>
<rect x="1169" y="143" width="5.5" height="1416" fill="#2a2a2a"/>
<rect x="1174.5" y="143" width="5" height="1416" fill="#dedede"/>
<rect x="134" y="835" width="17" height="4.5" fill="#000"/>
<rect x="238.0" y="1537" width="5" height="11" fill="#000"/>
<rect x="319.5" y="1537" width="5" height="22" fill="#000"/>
<rect x="406.5" y="1537" width="5" height="11" fill="#000"/>
<rect x="493.5" y="1537" width="5" height="22" fill="#000"/>
<rect x="575.5" y="1537" width="5" height="11" fill="#000"/>
<rect x="662.5" y="1537" width="5" height="22" fill="#000"/>
<rect x="744.5" y="1537" width="5" height="11" fill="#000"/>
<rect x="831.2" y="1537" width="5" height="22" fill="#000"/>
<rect x="918.5" y="1537" width="5" height="11" fill="#000"/>
<rect x="1000.0" y="1537" width="5" height="22" fill="#000"/>
<rect x="1087.5" y="1537" width="5" height="11" fill="#000"/>
<rect x="1283" y="137.5" width="1061" height="5.5" fill="#f0f0f0"/>
<rect x="1283" y="143" width="6" height="5" fill="#ddd"/>
<rect x="1289" y="143" width="1050" height="5" fill="#878787"/>
<rect x="1284" y="1527" width="1055" height="5" fill="#f0f0f0"/>
<rect x="1284" y="1532.5" width="5" height="4.5" fill="#ccc"/>
<rect x="1289" y="1532.5" width="1050" height="4.5" fill="#878787"/>
<rect x="1316" y="143" width="5" height="1416" fill="#000"/>
<rect x="2334.3" y="143" width="5.7" height="1416" fill="#9a9a9a"/>
<rect x="2340" y="143" width="4.7" height="1416" fill="#777"/>
<rect x="2334.3" y="143" width="5.7" height="5" fill="#555"/>
<rect x="1299" y="834" width="17" height="4.5" fill="#000"/>
<rect x="1399.0" y="1537" width="8" height="11" fill="#999"/>
<rect x="1485.0" y="1537" width="10" height="22" fill="#888"/>
<rect x="1571.0" y="1537" width="5" height="11" fill="#000"/>
<rect x="1654.0" y="1537" width="10" height="22" fill="#888"/>
<rect x="1740.8" y="1537" width="4.5" height="11" fill="#000"/>
<rect x="1827.5" y="1537" width="5" height="22" fill="#000"/>
<rect x="1910.0" y="1537" width="9" height="11" fill="#999"/>
<rect x="1996.5" y="1537" width="5" height="22" fill="#000"/>
<rect x="2078.5" y="1537" width="9" height="11" fill="#999"/>
<rect x="2165.5" y="1537" width="5" height="22" fill="#000"/>
<rect x="2252.0" y="1537" width="5" height="11" fill="#000"/>
<circle cx="390.5" cy="77.2" r="14" fill="none" stroke="#7a7a7a" stroke-width="4.5"/>
<path d="M812.5,52.8 L828.5,52.8 L828.5,71.8 L845.0,71.8 L845.0,82.8 L828.5,82.8 L828.5,101.8 L812.5,101.8 L812.5,82.8 L796.0,82.8 L796.0,71.8 L812.5,71.8 Z" fill="#fff" fill-opacity="0" stroke="#7a7a7a" stroke-width="4.5" stroke-linejoin="miter"/>
<path d="M1395.0,58.0 L1411.5,102.0 L1378.5,102.0 Z" fill="none" stroke="#999" stroke-width="4.5" stroke-linejoin="miter"/>
<path d="M1686.6,35.3 L1691.2,67.7 L1718.6,72.3 L1691.2,76.9 L1686.6,109.3 L1682.0,76.9 L1654.6,72.3 L1682.0,67.7 Z" fill="#5c5c5c" stroke="#5c5c5c" stroke-width="1.6" stroke-linejoin="round"/>
<path d="M1686.6,67.1 L1691.8,72.3 L1686.6,77.5 L1681.4,72.3 Z" fill="#fff"/>
<path d="M325.0,488.5 L341.0,488.5 L341.0,507.5 L357.5,507.5 L357.5,518.5 L341.0,518.5 L341.0,537.5 L325.0,537.5 L325.0,518.5 L308.5,518.5 L308.5,507.5 L325.0,507.5 Z" fill="#fff" fill-opacity="0" stroke="#a8a8a8" stroke-width="4.5" stroke-linejoin="miter"/>
<path d="M505.0,471.5 L521.0,471.5 L521.0,490.5 L537.5,490.5 L537.5,501.5 L521.0,501.5 L521.0,520.5 L505.0,520.5 L505.0,501.5 L488.5,501.5 L488.5,490.5 L505.0,490.5 Z" fill="#fff" fill-opacity="0" stroke="#a8a8a8" stroke-width="4.5" stroke-linejoin="miter"/>
<path d="M616.0,422.5 L632.0,422.5 L632.0,441.5 L648.5,441.5 L648.5,452.5 L632.0,452.5 L632.0,471.5 L616.0,471.5 L616.0,452.5 L599.5,452.5 L599.5,441.5 L616.0,441.5 Z" fill="#fff" fill-opacity="0" stroke="#7a7a7a" stroke-width="4.5" stroke-linejoin="miter"/>
<circle cx="649.0" cy="483.0" r="14" fill="none" stroke="#7a7a7a" stroke-width="4.5"/>
<path d="M725.0,450.0 L741.5,494.0 L708.5,494.0 Z" fill="none" stroke="#7a7a7a" stroke-width="4.5" stroke-linejoin="miter"/>
<path d="M766.0,389.5 L782.0,389.5 L782.0,408.5 L798.5,408.5 L798.5,419.5 L782.0,419.5 L782.0,438.5 L766.0,438.5 L766.0,419.5 L749.5,419.5 L749.5,408.5 L766.0,408.5 Z" fill="#fff" fill-opacity="0" stroke="#a8a8a8" stroke-width="4.5" stroke-linejoin="miter"/>
<circle cx="804.0" cy="447.5" r="14" fill="none" stroke="#7a7a7a" stroke-width="4.5"/>
<path d="M866.0,505.0 L882.5,549.0 L849.5,549.0 Z" fill="none" stroke="#7a7a7a" stroke-width="4.5" stroke-linejoin="miter"/>
<path d="M1014.0,493.5 L1030.0,493.5 L1030.0,512.5 L1046.5,512.5 L1046.5,523.5 L1030.0,523.5 L1030.0,542.5 L1014.0,542.5 L1014.0,523.5 L997.5,523.5 L997.5,512.5 L1014.0,512.5 Z" fill="#fff" fill-opacity="0" stroke="#555" stroke-width="4.5" stroke-linejoin="miter"/>
<circle cx="1125.0" cy="425.5" r="14" fill="none" stroke="#7a7a7a" stroke-width="4.5"/>
<path d="M306.0,962.5 L322.0,962.5 L322.0,981.5 L338.5,981.5 L338.5,992.5 L322.0,992.5 L322.0,1011.5 L306.0,1011.5 L306.0,992.5 L289.5,992.5 L289.5,981.5 L306.0,981.5 Z" fill="#fff" fill-opacity="0" stroke="#666" stroke-width="4.5" stroke-linejoin="miter"/>
<path d="M524.0,924.0 L540.0,924.0 L540.0,943.0 L556.5,943.0 L556.5,954.0 L540.0,954.0 L540.0,973.0 L524.0,973.0 L524.0,954.0 L507.5,954.0 L507.5,943.0 L524.0,943.0 Z" fill="#fff" fill-opacity="0" stroke="#666" stroke-width="4.5" stroke-linejoin="miter"/>
<path d="M611.0,723.0 L627.0,723.0 L627.0,742.0 L643.5,742.0 L643.5,753.0 L627.0,753.0 L627.0,772.0 L611.0,772.0 L611.0,753.0 L594.5,753.0 L594.5,742.0 L611.0,742.0 Z" fill="#fff" fill-opacity="0" stroke="#7a7a7a" stroke-width="4.5" stroke-linejoin="miter"/>
<circle cx="648.0" cy="780.0" r="14" fill="none" stroke="#7a7a7a" stroke-width="4.5"/>
<path d="M755.0,673.5 L771.0,673.5 L771.0,692.5 L787.5,692.5 L787.5,703.5 L771.0,703.5 L771.0,722.5 L755.0,722.5 L755.0,703.5 L738.5,703.5 L738.5,692.5 L755.0,692.5 Z" fill="#fff" fill-opacity="0" stroke="#a8a8a8" stroke-width="4.5" stroke-linejoin="miter"/>
<circle cx="791.0" cy="725.0" r="14" fill="none" stroke="#7a7a7a" stroke-width="4.5"/>
<path d="M1011.0,946.0 L1027.0,946.0 L1027.0,965.0 L1043.5,965.0 L1043.5,976.0 L1027.0,976.0 L1027.0,995.0 L1011.0,995.0 L1011.0,976.0 L994.5,976.0 L994.5,965.0 L1011.0,965.0 Z" fill="#fff" fill-opacity="0" stroke="#a8a8a8" stroke-width="4.5" stroke-linejoin="miter"/>
<circle cx="1120.0" cy="668.0" r="14" fill="none" stroke="#7a7a7a" stroke-width="4.5"/>
<circle cx="616.0" cy="1227.0" r="14" fill="none" stroke="#7a7a7a" stroke-width="4.5"/>
<circle cx="760.8" cy="1189.0" r="14" fill="none" stroke="#7a7a7a" stroke-width="4.5"/>
<circle cx="1115.0" cy="1090.0" r="14" fill="none" stroke="#7a7a7a" stroke-width="4.5"/>
<path d="M1636.0,187.5 L1640.6,217.9 L1673.0,222.5 L1640.6,227.1 L1636.0,257.5 L1631.4,227.1 L1599.0,222.5 L1631.4,217.9 Z" fill="#5c5c5c" stroke="#5c5c5c" stroke-width="1.6" stroke-linejoin="round"/>
<path d="M1636.0,217.3 L1641.2,222.5 L1636.0,227.7 L1630.8,222.5 Z" fill="#fff"/>
<path d="M1713.0,407.0 L1717.6,436.4 L1745.0,441.0 L1717.6,445.6 L1713.0,475.0 L1708.4,445.6 L1681.0,441.0 L1708.4,436.4 Z" fill="#5c5c5c" stroke="#5c5c5c" stroke-width="1.6" stroke-linejoin="round"/>
<path d="M1713.0,435.8 L1718.2,441.0 L1713.0,446.2 L1707.8,441.0 Z" fill="#fff"/>
<path d="M1904.0,462.0 L1920.5,506.0 L1887.5,506.0 Z" fill="none" stroke="#7a7a7a" stroke-width="4.5" stroke-linejoin="miter"/>
<path d="M1958.0,370.5 L1962.6,397.9 L1995.0,402.5 L1962.6,407.1 L1958.0,434.5 L1953.4,407.1 L1921.0,402.5 L1953.4,397.9 Z" fill="#5c5c5c" stroke="#5c5c5c" stroke-width="1.6" stroke-linejoin="round"/>
<path d="M1958.0,397.3 L1963.2,402.5 L1958.0,407.7 L1952.8,402.5 Z" fill="#fff"/>
<path d="M2032.0,510.0 L2048.5,554.0 L2015.5,554.0 Z" fill="none" stroke="#555" stroke-width="4.5" stroke-linejoin="miter"/>
<path d="M2106.0,420.0 L2110.6,450.4 L2144.0,455.0 L2110.6,459.6 L2106.0,490.0 L2101.4,459.6 L2068.0,455.0 L2101.4,450.4 Z" fill="#5c5c5c" stroke="#5c5c5c" stroke-width="1.6" stroke-linejoin="round"/>
<path d="M2106.0,449.8 L2111.2,455.0 L2106.0,460.2 L2100.8,455.0 Z" fill="#fff"/>
<path d="M2154.5,488.0 L2159.1,519.4 L2186.5,524.0 L2159.1,528.6 L2154.5,560.0 L2149.9,528.6 L2122.5,524.0 L2149.9,519.4 Z" fill="#5c5c5c" stroke="#5c5c5c" stroke-width="1.6" stroke-linejoin="round"/>
<path d="M2154.5,518.8 L2159.7,524.0 L2154.5,529.2 L2149.3,524.0 Z" fill="#fff"/>
<circle cx="2291.0" cy="540.0" r="14" fill="none" stroke="#7a7a7a" stroke-width="4.5"/>
<path d="M1636.0,581.5 L1640.6,607.9 L1668.0,612.5 L1640.6,617.1 L1636.0,643.5 L1631.4,617.1 L1604.0,612.5 L1631.4,607.9 Z" fill="#5c5c5c" stroke="#5c5c5c" stroke-width="1.6" stroke-linejoin="round"/>
<path d="M1636.0,607.3 L1641.2,612.5 L1636.0,617.7 L1630.8,612.5 Z" fill="#fff"/>
<path d="M1710.0,862.5 L1714.6,892.9 L1744.0,897.5 L1714.6,902.1 L1710.0,932.5 L1705.4,902.1 L1676.0,897.5 L1705.4,892.9 Z" fill="#5c5c5c" stroke="#5c5c5c" stroke-width="1.6" stroke-linejoin="round"/>
<path d="M1710.0,892.3 L1715.2,897.5 L1710.0,902.7 L1704.8,897.5 Z" fill="#fff"/>
<path d="M1779.0,973.5 L1795.0,973.5 L1795.0,992.5 L1811.5,992.5 L1811.5,1003.5 L1795.0,1003.5 L1795.0,1022.5 L1779.0,1022.5 L1779.0,1003.5 L1762.5,1003.5 L1762.5,992.5 L1779.0,992.5 Z" fill="#fff" fill-opacity="0" stroke="#a8a8a8" stroke-width="4.5" stroke-linejoin="miter"/>
<path d="M1911.5,973.5 L1927.5,973.5 L1927.5,992.5 L1944.0,992.5 L1944.0,1003.5 L1927.5,1003.5 L1927.5,1022.5 L1911.5,1022.5 L1911.5,1003.5 L1895.0,1003.5 L1895.0,992.5 L1911.5,992.5 Z" fill="#fff" fill-opacity="0" stroke="#7a7a7a" stroke-width="4.5" stroke-linejoin="miter"/>
<path d="M1956.0,791.0 L1960.6,821.4 L1991.0,826.0 L1960.6,830.6 L1956.0,861.0 L1951.4,830.6 L1921.0,826.0 L1951.4,821.4 Z" fill="#5c5c5c" stroke="#5c5c5c" stroke-width="1.6" stroke-linejoin="round"/>
<path d="M1956.0,820.8 L1961.2,826.0 L1956.0,831.2 L1950.8,826.0 Z" fill="#fff"/>
<path d="M2107.5,848.0 L2112.1,875.4 L2142.5,880.0 L2112.1,884.6 L2107.5,912.0 L2102.9,884.6 L2072.5,880.0 L2102.9,875.4 Z" fill="#5c5c5c" stroke="#5c5c5c" stroke-width="1.6" stroke-linejoin="round"/>
<path d="M2107.5,874.8 L2112.7,880.0 L2107.5,885.2 L2102.3,880.0 Z" fill="#fff"/>
<path d="M2153.0,955.0 L2157.6,985.4 L2190.0,990.0 L2157.6,994.6 L2153.0,1025.0 L2148.4,994.6 L2116.0,990.0 L2148.4,985.4 Z" fill="#5c5c5c" stroke="#5c5c5c" stroke-width="1.6" stroke-linejoin="round"/>
<path d="M2153.0,984.8 L2158.2,990.0 L2153.0,995.2 L2147.8,990.0 Z" fill="#fff"/>
<circle cx="2285.0" cy="1014.0" r="14" fill="none" stroke="#7a7a7a" stroke-width="4.5"/>
<path d="M1634.0,1024.0 L1638.6,1047.4 L1669.0,1052.0 L1638.6,1056.6 L1634.0,1080.0 L1629.4,1056.6 L1599.0,1052.0 L1629.4,1047.4 Z" fill="#5c5c5c" stroke="#5c5c5c" stroke-width="1.6" stroke-linejoin="round"/>
<path d="M1634.0,1046.8 L1639.2,1052.0 L1634.0,1057.2 L1628.8,1052.0 Z" fill="#fff"/>
<path d="M1713.0,1320.0 L1717.6,1349.4 L1751.0,1354.0 L1717.6,1358.6 L1713.0,1388.0 L1708.4,1358.6 L1675.0,1354.0 L1708.4,1349.4 Z" fill="#5c5c5c" stroke="#5c5c5c" stroke-width="1.6" stroke-linejoin="round"/>
<path d="M1713.0,1348.8 L1718.2,1354.0 L1713.0,1359.2 L1707.8,1354.0 Z" fill="#fff"/>
<path d="M1955.0,1264.0 L1959.6,1294.4 L1990.0,1299.0 L1959.6,1303.6 L1955.0,1334.0 L1950.4,1303.6 L1920.0,1299.0 L1950.4,1294.4 Z" fill="#5c5c5c" stroke="#5c5c5c" stroke-width="1.6" stroke-linejoin="round"/>
<path d="M1955.0,1293.8 L1960.2,1299.0 L1955.0,1304.2 L1949.8,1299.0 Z" fill="#fff"/>
<path d="M2108.0,1304.0 L2112.6,1335.4 L2143.0,1340.0 L2112.6,1344.6 L2108.0,1376.0 L2103.4,1344.6 L2073.0,1340.0 L2103.4,1335.4 Z" fill="#5c5c5c" stroke="#5c5c5c" stroke-width="1.6" stroke-linejoin="round"/>
<path d="M2108.0,1334.8 L2113.2,1340.0 L2108.0,1345.2 L2102.8,1340.0 Z" fill="#fff"/>
<path d="M2151.0,1425.0 L2155.6,1457.4 L2181.0,1462.0 L2155.6,1466.6 L2151.0,1499.0 L2146.4,1466.6 L2121.0,1462.0 L2146.4,1457.4 Z" fill="#5c5c5c" stroke="#5c5c5c" stroke-width="1.6" stroke-linejoin="round"/>
<path d="M2151.0,1456.8 L2156.2,1462.0 L2151.0,1467.2 L2145.8,1462.0 Z" fill="#fff"/>
<circle cx="2285.0" cy="1477.0" r="14" fill="none" stroke="#7a7a7a" stroke-width="4.5"/>
<text transform="translate(443.26,102.20) scale(1.2353,1)" font-family='"Liberation Sans", Arial, sans-serif' font-size="69.28" font-weight="bold" font-style="italic" fill="#000">Al</text>
<text transform="translate(533.95,134.10) scale(1.1494,1)" font-family='"Liberation Sans", Arial, sans-serif' font-size="35.95" font-weight="bold" font-style="italic" fill="#000">2</text>
<text transform="translate(561.06,102.30) scale(1.1591,1)" font-family='"Liberation Sans", Arial, sans-serif' font-size="71.33" font-weight="bold" font-style="italic" fill="#000">O</text>
<text transform="translate(626.59,133.74) scale(1.4505,1)" font-family='"Liberation Sans", Arial, sans-serif' font-size="36.58" font-weight="bold" font-style="italic" fill="#000">3</text>
<text transform="translate(880.34,103.00) scale(1.2570,1)" font-family='"Liberation Sans", Arial, sans-serif' font-size="70.38" font-weight="bold" font-style="italic" fill="#000">NiAl</text>
<text transform="translate(1058.20,135.10) scale(1.0720,1)" font-family='"Liberation Sans", Arial, sans-serif' font-size="41.53" font-weight="bold" font-style="italic" fill="#000">2</text>
<text transform="translate(1087.46,102.30) scale(1.1611,1)" font-family='"Liberation Sans", Arial, sans-serif' font-size="71.33" font-weight="bold" font-style="italic" fill="#000">O</text>
<text transform="translate(1154.40,135.10) scale(1.2808,1)" font-family='"Liberation Sans", Arial, sans-serif' font-size="42.15" font-weight="bold" font-style="italic" fill="#000">4</text>
<text transform="translate(1457.63,108.20) scale(1.1763,1)" font-family='"Liberation Sans", Arial, sans-serif' font-size="70.93" font-weight="bold" font-style="italic" fill="#000">Ni</text>
<text transform="translate(1547.15,64.38) scale(1.2166,1)" font-family='"Liberation Sans", Arial, sans-serif' font-size="42.65" font-weight="bold" font-style="italic" fill="#000">0</text>
<text transform="translate(1733.85,101.80) scale(1.2463,1)" font-family='"Liberation Sans", Arial, sans-serif' font-size="71.33" font-weight="bold" font-style="normal" fill="#000">CeO</text>
<text transform="translate(1917.17,135.00) scale(1.0398,1)" font-family='"Liberation Sans", Arial, sans-serif' font-size="41.10" font-weight="bold" font-style="italic" fill="#000">2</text>
<text transform="translate(169.15,224.09) scale(0.9310,1)" font-family='"Liberation Sans", Arial, sans-serif' font-size="72.31" font-weight="bold" font-style="normal" fill="#000">(</text>
<text transform="translate(200.38,222.28) scale(0.9767,1)" font-family='"Liberation Sans", Arial, sans-serif' font-size="73.93" font-weight="bold" font-style="normal" fill="#000">a</text>
<text transform="translate(251.43,224.09) scale(0.9800,1)" font-family='"Liberation Sans", Arial, sans-serif' font-size="72.31" font-weight="bold" font-style="normal" fill="#000">)</text>
<text transform="translate(1333.15,224.07) scale(0.9297,1)" font-family='"Liberation Sans", Arial, sans-serif' font-size="72.41" font-weight="bold" font-style="normal" fill="#000">(</text>
<text transform="translate(1361.88,222.32) scale(1.2192,1)" font-family='"Liberation Sans", Arial, sans-serif' font-size="69.99" font-weight="bold" font-style="normal" fill="#000">b</text>
<text transform="translate(1417.43,224.07) scale(0.9786,1)" font-family='"Liberation Sans", Arial, sans-serif' font-size="72.41" font-weight="bold" font-style="normal" fill="#000">)</text>
<text transform="translate(220.97,334.64) scale(1.2789,1)" font-family='"Liberation Sans", Arial, sans-serif' font-size="68.15" font-weight="bold" font-style="italic" fill="#000">Ni/Al</text>
<text transform="translate(421.04,363.50) scale(1.2435,1)" font-family='"Liberation Sans", Arial, sans-serif' font-size="40.46" font-weight="bold" font-style="italic" fill="#000">2</text>
<text transform="translate(452.25,335.30) scale(1.2141,1)" font-family='"Liberation Sans", Arial, sans-serif' font-size="71.68" font-weight="bold" font-style="italic" fill="#000">O</text>
<text transform="translate(517.06,363.11) scale(1.3998,1)" font-family='"Liberation Sans", Arial, sans-serif' font-size="39.90" font-weight="bold" font-style="italic" fill="#000">3</text>
<rect x="571" y="344" width="51" height="6.5" fill="#000"/>
<text transform="translate(624.88,336.00) scale(1.2889,1)" font-family='"Liberation Sans", Arial, sans-serif' font-size="73.41" font-weight="bold" font-style="italic" fill="#000">r</text>
<text transform="translate(210.97,705.89) scale(1.2789,1)" font-family='"Liberation Sans", Arial, sans-serif' font-size="68.15" font-weight="bold" font-style="italic" fill="#000">Ni/Al</text>
<text transform="translate(414.65,734.50) scale(1.0076,1)" font-family='"Liberation Sans", Arial, sans-serif' font-size="41.53" font-weight="bold" font-style="italic" fill="#000">2</text>
<text transform="translate(442.42,706.80) scale(1.1595,1)" font-family='"Liberation Sans", Arial, sans-serif' font-size="72.03" font-weight="bold" font-style="italic" fill="#000">O</text>
<text transform="translate(511.17,734.10) scale(1.0455,1)" font-family='"Liberation Sans", Arial, sans-serif' font-size="40.96" font-weight="bold" font-style="italic" fill="#000">3</text>
<rect x="560" y="717" width="47" height="6.5" fill="#000"/>
<text transform="translate(613.15,706.88) scale(1.1952,1)" font-family='"Liberation Sans", Arial, sans-serif' font-size="63.89" font-weight="bold" font-style="italic" fill="#000">c</text>
<text transform="translate(235.77,1268.50) scale(1.2255,1)" font-family='"Liberation Sans", Arial, sans-serif' font-size="70.38" font-weight="bold" font-style="italic" fill="#000">Al</text>
<text transform="translate(327.32,1300.50) scale(1.2649,1)" font-family='"Liberation Sans", Arial, sans-serif' font-size="41.53" font-weight="bold" font-style="italic" fill="#000">2</text>
<text transform="translate(354.75,1267.80) scale(1.2082,1)" font-family='"Liberation Sans", Arial, sans-serif' font-size="72.03" font-weight="bold" font-style="italic" fill="#000">O</text>
<text transform="translate(423.57,1300.10) scale(1.3409,1)" font-family='"Liberation Sans", Arial, sans-serif' font-size="40.96" font-weight="bold" font-style="italic" fill="#000">3</text>
<text transform="translate(1794.94,319.64) scale(1.3035,1)" font-family='"Liberation Sans", Arial, sans-serif' font-size="68.15" font-weight="bold" font-style="italic" fill="#000">Ni/AlCeO</text>
<text transform="translate(2178.57,353.09) scale(1.3182,1)" font-family='"Liberation Sans", Arial, sans-serif' font-size="41.67" font-weight="bold" font-style="italic" fill="#000">3</text>
<rect x="2226" y="333" width="53" height="6" fill="#000"/>
<text transform="translate(2279.88,321.00) scale(1.4241,1)" font-family='"Liberation Sans", Arial, sans-serif' font-size="66.44" font-weight="bold" font-style="italic" fill="#000">r</text>
<text transform="translate(1779.96,738.14) scale(1.2928,1)" font-family='"Liberation Sans", Arial, sans-serif' font-size="67.82" font-weight="bold" font-style="italic" fill="#000">Ni/AlCeO</text>
<text transform="translate(2161.07,767.18) scale(1.6547,1)" font-family='"Liberation Sans", Arial, sans-serif' font-size="33.19" font-weight="bold" font-style="italic" fill="#000">3</text>
<rect x="2215" y="748" width="49" height="7" fill="#000"/>
<text transform="translate(2268.06,738.80) scale(1.1139,1)" font-family='"Liberation Sans", Arial, sans-serif' font-size="71.19" font-weight="bold" font-style="italic" fill="#000">c</text>
<text transform="translate(1994.29,1246.81) scale(1.2322,1)" font-family='"Liberation Sans", Arial, sans-serif' font-size="70.81" font-weight="bold" font-style="italic" fill="#000">AlCeO</text>
<text transform="translate(2263.12,1279.10) scale(1.1818,1)" font-family='"Liberation Sans", Arial, sans-serif' font-size="40.96" font-weight="bold" font-style="italic" fill="#000">3</text>
<text transform="translate(120.58,1614.98) scale(1.1548,1)" font-family='"Liberation Sans", Arial, sans-serif' font-size="53.67" font-weight="normal" font-style="normal" fill="#000">10</text>
<text transform="translate(290.19,1614.98) scale(1.1511,1)" font-family='"Liberation Sans", Arial, sans-serif' font-size="53.67" font-weight="normal" font-style="normal" fill="#000">20</text>
<text transform="translate(460.22,1614.98) scale(1.1159,1)" font-family='"Liberation Sans", Arial, sans-serif' font-size="53.67" font-weight="normal" font-style="normal" fill="#000">30</text>
<text transform="translate(630.15,1614.98) scale(1.0999,1)" font-family='"Liberation Sans", Arial, sans-serif' font-size="53.67" font-weight="normal" font-style="normal" fill="#000">40</text>
<text transform="translate(799.10,1614.98) scale(1.1180,1)" font-family='"Liberation Sans", Arial, sans-serif' font-size="53.67" font-weight="normal" font-style="normal" fill="#000">50</text>
<text transform="translate(966.32,1614.98) scale(1.1662,1)" font-family='"Liberation Sans", Arial, sans-serif' font-size="53.67" font-weight="normal" font-style="normal" fill="#000">60</text>
<text transform="translate(1140.39,1614.98) scale(1.1303,1)" font-family='"Liberation Sans", Arial, sans-serif' font-size="53.67" font-weight="normal" font-style="normal" fill="#000">70</text>
<text transform="translate(1286.07,1614.98) scale(1.0838,1)" font-family='"Liberation Sans", Arial, sans-serif' font-size="53.67" font-weight="normal" font-style="normal" fill="#000">10</text>
<text transform="translate(1450.78,1614.98) scale(1.1930,1)" font-family='"Liberation Sans", Arial, sans-serif' font-size="53.67" font-weight="normal" font-style="normal" fill="#000">20</text>
<text transform="translate(1625.22,1614.98) scale(1.1159,1)" font-family='"Liberation Sans", Arial, sans-serif' font-size="53.67" font-weight="normal" font-style="normal" fill="#000">30</text>
<text transform="translate(1797.17,1614.98) scale(1.0821,1)" font-family='"Liberation Sans", Arial, sans-serif' font-size="53.67" font-weight="normal" font-style="normal" fill="#000">40</text>
<text transform="translate(1963.60,1614.98) scale(1.1180,1)" font-family='"Liberation Sans", Arial, sans-serif' font-size="53.67" font-weight="normal" font-style="normal" fill="#000">50</text>
<text transform="translate(2131.22,1614.98) scale(1.2027,1)" font-family='"Liberation Sans", Arial, sans-serif' font-size="53.67" font-weight="normal" font-style="normal" fill="#000">60</text>
<text transform="translate(2305.44,1614.98) scale(1.1121,1)" font-family='"Liberation Sans", Arial, sans-serif' font-size="53.67" font-weight="normal" font-style="normal" fill="#000">70</text>
<text transform="translate(519.04,1682.59) scale(1.1702,1)" font-family='"Liberation Sans", Arial, sans-serif' font-size="62.23" font-weight="normal" font-style="normal" fill="#000">2theta</text>
<text transform="translate(738.02,1681.66) scale(0.6872,1)" font-family='"Liberation Sans", Arial, sans-serif' font-size="58.18" font-weight="normal" font-style="normal" fill="#000">(</text>
<text transform="translate(752.31,1668.55) scale(1.2921,1)" font-family='"Liberation Sans", Arial, sans-serif' font-size="59.64" font-weight="normal" font-style="normal" fill="#000">°</text>
<text transform="translate(789.02,1681.37) scale(0.7977,1)" font-family='"Liberation Sans", Arial, sans-serif' font-size="59.57" font-weight="normal" font-style="normal" fill="#000">)</text>
<text transform="translate(1700.45,1687.57) scale(1.3316,1)" font-family='"Liberation Sans", Arial, sans-serif' font-size="54.47" font-weight="normal" font-style="normal" fill="#000">2theta</text>
<text transform="translate(1913.17,1688.08) scale(1.1485,1)" font-family='"Liberation Sans", Arial, sans-serif' font-size="55.17" font-weight="normal" font-style="normal" fill="#000">(</text>
<text transform="translate(1934.28,1682.66) scale(1.0427,1)" font-family='"Liberation Sans", Arial, sans-serif' font-size="64.67" font-weight="normal" font-style="normal" fill="#000">°</text>
<text transform="translate(1964.79,1688.08) scale(0.9502,1)" font-family='"Liberation Sans", Arial, sans-serif' font-size="55.17" font-weight="normal" font-style="normal" fill="#000">)</text>
<text transform="translate(0,1023.80) rotate(-90) translate(-5.81,91.14) scale(0.7991,1)" font-family='"Liberation Sans", Arial, sans-serif' font-size="78.85" font-weight="normal" font-style="normal" fill="#000">Intensity (a.u)</text>
<text transform="translate(0,1023.80) rotate(-90) translate(-5.81,1273.47) scale(0.8157,1)" font-family='"Liberation Sans", Arial, sans-serif' font-size="77.24" font-weight="normal" font-style="normal" fill="#000">Intensity (a.u)</text>
</svg>
</body></html>
